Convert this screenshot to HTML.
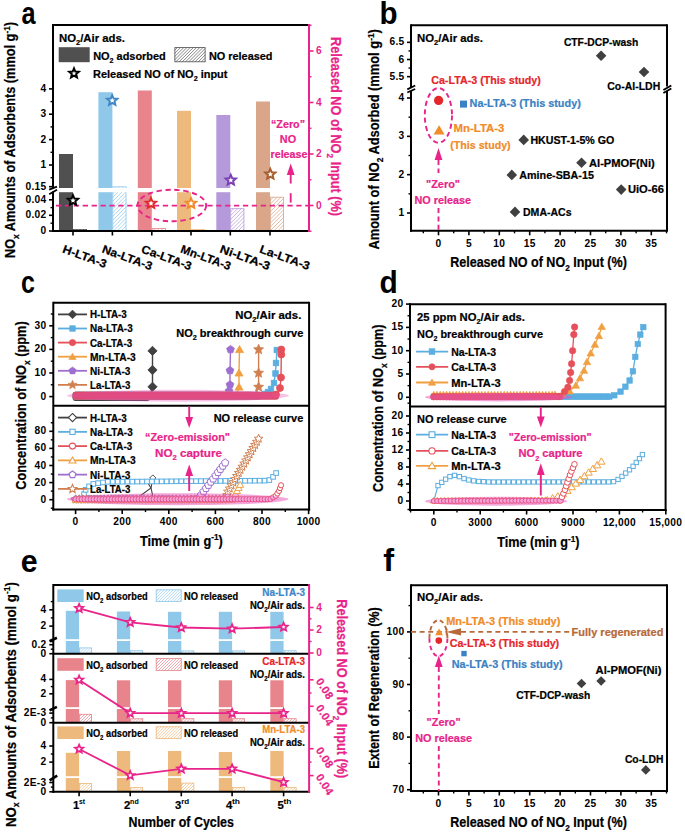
<!DOCTYPE html>
<html><head><meta charset="utf-8"><style>
html,body{margin:0;padding:0;background:#fff;width:685px;height:833px;overflow:hidden}
svg{display:block;font-family:"Liberation Sans",sans-serif}
</style></head><body>
<svg width="685" height="833" viewBox="0 0 685 833">
<rect width="685" height="833" fill="#fff"/>
<text transform="translate(21.6,23.7) scale(0.83,1)" font-size="30.5" font-weight="bold" fill="#000">a</text>
<rect x="59.0" y="154.0" width="14" height="77.0" fill="#505050" />
<clipPath id="c2"><rect x="73.0" y="229.0" width="14" height="2.0"/></clipPath>
<path d="M71.00,231.00 L73.00,229.00 M74.80,231.00 L76.80,229.00 M78.60,231.00 L80.60,229.00 M82.40,231.00 L84.40,229.00 M86.20,231.00 L88.20,229.00 " stroke="#505050" stroke-width="0.75" clip-path="url(#c2)" fill="none"/>
<rect x="73.40" y="229.40" width="13.20" height="1.20" fill="none" stroke="#505050" stroke-width="0.8"/>
<rect x="98.4" y="92.2" width="14" height="138.8" fill="#90C8EA" />
<clipPath id="c6"><rect x="112.4" y="186.4" width="14" height="44.599999999999994"/></clipPath>
<path d="M67.80,231.00 L112.40,186.40 M71.60,231.00 L116.20,186.40 M75.40,231.00 L120.00,186.40 M79.20,231.00 L123.80,186.40 M83.00,231.00 L127.60,186.40 M86.80,231.00 L131.40,186.40 M90.60,231.00 L135.20,186.40 M94.40,231.00 L139.00,186.40 M98.20,231.00 L142.80,186.40 M102.00,231.00 L146.60,186.40 M105.80,231.00 L150.40,186.40 M109.60,231.00 L154.20,186.40 M113.40,231.00 L158.00,186.40 M117.20,231.00 L161.80,186.40 M121.00,231.00 L165.60,186.40 M124.80,231.00 L169.40,186.40 M128.60,231.00 L173.20,186.40 M132.40,231.00 L177.00,186.40 M136.20,231.00 L180.80,186.40 M140.00,231.00 L184.60,186.40 M143.80,231.00 L188.40,186.40 M147.60,231.00 L192.20,186.40 M151.40,231.00 L196.00,186.40 M155.20,231.00 L199.80,186.40 M159.00,231.00 L203.60,186.40 M162.80,231.00 L207.40,186.40 M166.60,231.00 L211.20,186.40 M170.40,231.00 L215.00,186.40 " stroke="#90C8EA" stroke-width="0.75" clip-path="url(#c6)" fill="none"/>
<rect x="112.80" y="186.80" width="13.20" height="43.80" fill="none" stroke="#90C8EA" stroke-width="0.8"/>
<rect x="137.8" y="90.5" width="14" height="140.5" fill="#E8848C" />
<clipPath id="c10"><rect x="151.8" y="228.2" width="14" height="2.8000000000000114"/></clipPath>
<path d="M149.00,231.00 L151.80,228.20 M152.80,231.00 L155.60,228.20 M156.60,231.00 L159.40,228.20 M160.40,231.00 L163.20,228.20 M164.20,231.00 L167.00,228.20 M168.00,231.00 L170.80,228.20 " stroke="#E8848C" stroke-width="0.75" clip-path="url(#c10)" fill="none"/>
<rect x="152.20" y="228.60" width="13.20" height="2.00" fill="none" stroke="#E8848C" stroke-width="0.8"/>
<rect x="177.0" y="110.8" width="14" height="120.2" fill="#EEB97C" />
<clipPath id="c14"><rect x="191.0" y="229.0" width="14" height="2.0"/></clipPath>
<path d="M189.00,231.00 L191.00,229.00 M192.80,231.00 L194.80,229.00 M196.60,231.00 L198.60,229.00 M200.40,231.00 L202.40,229.00 M204.20,231.00 L206.20,229.00 " stroke="#EEB97C" stroke-width="0.75" clip-path="url(#c14)" fill="none"/>
<rect x="191.40" y="229.40" width="13.20" height="1.20" fill="none" stroke="#EEB97C" stroke-width="0.8"/>
<rect x="216.3" y="115.0" width="14" height="116.0" fill="#B59ADB" />
<clipPath id="c18"><rect x="230.3" y="208.3" width="14" height="22.69999999999999"/></clipPath>
<path d="M207.60,231.00 L230.30,208.30 M211.40,231.00 L234.10,208.30 M215.20,231.00 L237.90,208.30 M219.00,231.00 L241.70,208.30 M222.80,231.00 L245.50,208.30 M226.60,231.00 L249.30,208.30 M230.40,231.00 L253.10,208.30 M234.20,231.00 L256.90,208.30 M238.00,231.00 L260.70,208.30 M241.80,231.00 L264.50,208.30 M245.60,231.00 L268.30,208.30 M249.40,231.00 L272.10,208.30 M253.20,231.00 L275.90,208.30 M257.00,231.00 L279.70,208.30 M260.80,231.00 L283.50,208.30 M264.60,231.00 L287.30,208.30 " stroke="#B59ADB" stroke-width="0.75" clip-path="url(#c18)" fill="none"/>
<rect x="230.70" y="208.70" width="13.20" height="21.90" fill="none" stroke="#B59ADB" stroke-width="0.8"/>
<rect x="256.0" y="101.5" width="14" height="129.5" fill="#D9A68A" />
<clipPath id="c22"><rect x="270.0" y="196.8" width="14" height="34.19999999999999"/></clipPath>
<path d="M235.80,231.00 L270.00,196.80 M239.60,231.00 L273.80,196.80 M243.40,231.00 L277.60,196.80 M247.20,231.00 L281.40,196.80 M251.00,231.00 L285.20,196.80 M254.80,231.00 L289.00,196.80 M258.60,231.00 L292.80,196.80 M262.40,231.00 L296.60,196.80 M266.20,231.00 L300.40,196.80 M270.00,231.00 L304.20,196.80 M273.80,231.00 L308.00,196.80 M277.60,231.00 L311.80,196.80 M281.40,231.00 L315.60,196.80 M285.20,231.00 L319.40,196.80 M289.00,231.00 L323.20,196.80 M292.80,231.00 L327.00,196.80 M296.60,231.00 L330.80,196.80 M300.40,231.00 L334.60,196.80 M304.20,231.00 L338.40,196.80 M308.00,231.00 L342.20,196.80 M311.80,231.00 L346.00,196.80 M315.60,231.00 L349.80,196.80 " stroke="#D9A68A" stroke-width="0.75" clip-path="url(#c22)" fill="none"/>
<rect x="270.40" y="197.20" width="13.20" height="33.40" fill="none" stroke="#D9A68A" stroke-width="0.8"/>
<rect x="56" y="188.0" width="250" height="4.2" fill="#fff" />
<text x="59" y="41.6" font-size="11.3" text-anchor="start" fill="#000" font-weight="bold" stroke="#000" stroke-width="0.22" textLength="66" lengthAdjust="spacingAndGlyphs" ><tspan>NO</tspan><tspan dy="3.16" font-size="7.35">2</tspan><tspan dy="-3.16">/Air ads.</tspan></text>
<rect x="58.7" y="47.2" width="31" height="15" fill="#505050" />
<text x="93.2" y="59.8" font-size="11.3" text-anchor="start" fill="#000" font-weight="bold" stroke="#000" stroke-width="0.22" textLength="72.6" lengthAdjust="spacingAndGlyphs" ><tspan>NO</tspan><tspan dy="3.16" font-size="7.35">2</tspan><tspan dy="-3.16"> adsorbed</tspan></text>
<clipPath id="c29"><rect x="174.5" y="47.2" width="31" height="15"/></clipPath>
<path d="M159.50,62.20 L174.50,47.20 M162.70,62.20 L177.70,47.20 M165.90,62.20 L180.90,47.20 M169.10,62.20 L184.10,47.20 M172.30,62.20 L187.30,47.20 M175.50,62.20 L190.50,47.20 M178.70,62.20 L193.70,47.20 M181.90,62.20 L196.90,47.20 M185.10,62.20 L200.10,47.20 M188.30,62.20 L203.30,47.20 M191.50,62.20 L206.50,47.20 M194.70,62.20 L209.70,47.20 M197.90,62.20 L212.90,47.20 M201.10,62.20 L216.10,47.20 M204.30,62.20 L219.30,47.20 M207.50,62.20 L222.50,47.20 M210.70,62.20 L225.70,47.20 M213.90,62.20 L228.90,47.20 M217.10,62.20 L232.10,47.20 M220.30,62.20 L235.30,47.20 " stroke="#505050" stroke-width="0.7" clip-path="url(#c29)" fill="none"/>
<rect x="174.90" y="47.60" width="30.20" height="14.20" fill="none" stroke="#505050" stroke-width="0.8"/>
<text x="208.9" y="59.5" font-size="11.3" text-anchor="start" fill="#000" font-weight="bold" stroke="#000" stroke-width="0.22" textLength="63.6" lengthAdjust="spacingAndGlyphs" ><tspan>NO released</tspan></text>
<path d="M74.00,68.40 L75.32,71.58 L78.76,71.85 L76.14,74.10 L76.94,77.45 L74.00,75.65 L71.06,77.45 L71.86,74.10 L69.24,71.85 L72.68,71.58Z" fill="#fff" stroke="#000" stroke-width="2.0" stroke-linejoin="miter"/>
<text x="93.0" y="78.0" font-size="11.3" text-anchor="start" fill="#000" font-weight="bold" stroke="#000" stroke-width="0.22" textLength="134.5" lengthAdjust="spacingAndGlyphs" ><tspan>Released NO of NO</tspan><tspan dy="3.16" font-size="7.35">2</tspan><tspan dy="-3.16"> input</tspan></text>
<line x1="56" y1="205.6" x2="309" y2="205.6" stroke="#E8248A" stroke-width="1.9" stroke-dasharray="5.3,3.6"/>
<ellipse cx="171.8" cy="205.5" rx="34.4" ry="15.8" fill="none" stroke="#E8248A" stroke-width="1.9" stroke-dasharray="5.3,3.6"/>
<path d="M73.00,195.10 L74.43,198.53 L78.14,198.83 L75.31,201.25 L76.17,204.87 L73.00,202.93 L69.83,204.87 L70.69,201.25 L67.86,198.83 L71.57,198.53Z" fill="#fff" stroke="#000" stroke-width="1.9" stroke-linejoin="miter"/>
<path d="M112.20,95.10 L113.63,98.53 L117.34,98.83 L114.51,101.25 L115.37,104.87 L112.20,102.93 L109.03,104.87 L109.89,101.25 L107.06,98.83 L110.77,98.53Z" fill="#fff" stroke="#3E86C6" stroke-width="1.9" stroke-linejoin="miter"/>
<path d="M151.00,198.00 L152.43,201.43 L156.14,201.73 L153.31,204.15 L154.17,207.77 L151.00,205.83 L147.83,207.77 L148.69,204.15 L145.86,201.73 L149.57,201.43Z" fill="#fff" stroke="#E02A2A" stroke-width="1.9" stroke-linejoin="miter"/>
<path d="M191.00,198.00 L192.43,201.43 L196.14,201.73 L193.31,204.15 L194.17,207.77 L191.00,205.83 L187.83,207.77 L188.69,204.15 L185.86,201.73 L189.57,201.43Z" fill="#fff" stroke="#F08A2A" stroke-width="1.9" stroke-linejoin="miter"/>
<path d="M230.80,174.80 L232.23,178.23 L235.94,178.53 L233.11,180.95 L233.97,184.57 L230.80,182.63 L227.63,184.57 L228.49,180.95 L225.66,178.53 L229.37,178.23Z" fill="#fff" stroke="#7A3FB0" stroke-width="1.9" stroke-linejoin="miter"/>
<path d="M270.30,168.80 L271.73,172.23 L275.44,172.53 L272.61,174.95 L273.47,178.57 L270.30,176.63 L267.13,178.57 L267.99,174.95 L265.16,172.53 L268.87,172.23Z" fill="#fff" stroke="#A85E2E" stroke-width="1.9" stroke-linejoin="miter"/>
<line x1="53" y1="25" x2="309" y2="25" stroke="#000" stroke-width="2" />
<line x1="52" y1="231" x2="309" y2="231" stroke="#000" stroke-width="2" />
<line x1="53" y1="24" x2="53" y2="188.5" stroke="#000" stroke-width="2" />
<line x1="53" y1="191.5" x2="53" y2="232" stroke="#000" stroke-width="2" />
<line x1="49.2" y1="189.6" x2="57" y2="186.6" stroke="#000" stroke-width="1.8" />
<line x1="49.2" y1="194.2" x2="57" y2="189.8" stroke="#000" stroke-width="1.8" />
<line x1="49" y1="88.9" x2="53" y2="88.9" stroke="#000" stroke-width="1.6" />
<line x1="49" y1="114.2" x2="53" y2="114.2" stroke="#000" stroke-width="1.6" />
<line x1="49" y1="139.6" x2="53" y2="139.6" stroke="#000" stroke-width="1.6" />
<line x1="49" y1="165.0" x2="53" y2="165.0" stroke="#000" stroke-width="1.6" />
<line x1="49" y1="186.7" x2="53" y2="186.7" stroke="#000" stroke-width="1.6" />
<line x1="49" y1="199.8" x2="53" y2="199.8" stroke="#000" stroke-width="1.6" />
<line x1="49" y1="215.3" x2="53" y2="215.3" stroke="#000" stroke-width="1.6" />
<line x1="49" y1="231" x2="53" y2="231" stroke="#000" stroke-width="1.6" />
<line x1="50.5" y1="101.6" x2="53" y2="101.6" stroke="#000" stroke-width="1.4" />
<line x1="50.5" y1="126.9" x2="53" y2="126.9" stroke="#000" stroke-width="1.4" />
<line x1="50.5" y1="152.3" x2="53" y2="152.3" stroke="#000" stroke-width="1.4" />
<line x1="50.5" y1="177.7" x2="53" y2="177.7" stroke="#000" stroke-width="1.4" />
<line x1="50.5" y1="207.6" x2="53" y2="207.6" stroke="#000" stroke-width="1.4" />
<line x1="50.5" y1="223.2" x2="53" y2="223.2" stroke="#000" stroke-width="1.4" />
<text x="46.5" y="91.9" font-size="10.2" text-anchor="end" fill="#000" font-weight="bold" letter-spacing="0.3" ><tspan>4</tspan></text>
<text x="46.5" y="117.2" font-size="10.2" text-anchor="end" fill="#000" font-weight="bold" letter-spacing="0.3" ><tspan>3</tspan></text>
<text x="46.5" y="142.6" font-size="10.2" text-anchor="end" fill="#000" font-weight="bold" letter-spacing="0.3" ><tspan>2</tspan></text>
<text x="46.5" y="168.0" font-size="10.2" text-anchor="end" fill="#000" font-weight="bold" letter-spacing="0.3" ><tspan>1</tspan></text>
<text x="46.5" y="189.7" font-size="10.2" text-anchor="end" fill="#000" font-weight="bold" letter-spacing="0.3" ><tspan>0.15</tspan></text>
<text x="46.5" y="202.8" font-size="10.2" text-anchor="end" fill="#000" font-weight="bold" letter-spacing="0.3" ><tspan>0.04</tspan></text>
<text x="46.5" y="218.3" font-size="10.2" text-anchor="end" fill="#000" font-weight="bold" letter-spacing="0.3" ><tspan>0.02</tspan></text>
<text x="46.5" y="234.0" font-size="10.2" text-anchor="end" fill="#000" font-weight="bold" letter-spacing="0.3" ><tspan>0</tspan></text>
<line x1="73.0" y1="231" x2="73.0" y2="235.5" stroke="#000" stroke-width="1.6" />
<line x1="112.4" y1="231" x2="112.4" y2="235.5" stroke="#000" stroke-width="1.6" />
<line x1="151.8" y1="231" x2="151.8" y2="235.5" stroke="#000" stroke-width="1.6" />
<line x1="191.0" y1="231" x2="191.0" y2="235.5" stroke="#000" stroke-width="1.6" />
<line x1="230.3" y1="231" x2="230.3" y2="235.5" stroke="#000" stroke-width="1.6" />
<line x1="270.0" y1="231" x2="270.0" y2="235.5" stroke="#000" stroke-width="1.6" />
<text transform="translate(61.8,252.3) rotate(20)" font-size="11.6" text-anchor="start" fill="#000" font-weight="bold" stroke="#000" stroke-width="0.22" textLength="46" lengthAdjust="spacingAndGlyphs" ><tspan>H-LTA-3</tspan></text>
<text transform="translate(101.2,252.3) rotate(20)" font-size="11.6" text-anchor="start" fill="#000" font-weight="bold" stroke="#000" stroke-width="0.22" textLength="52.5" lengthAdjust="spacingAndGlyphs" ><tspan>Na-LTA-3</tspan></text>
<text transform="translate(140.60000000000002,252.3) rotate(20)" font-size="11.6" text-anchor="start" fill="#000" font-weight="bold" stroke="#000" stroke-width="0.22" textLength="52.5" lengthAdjust="spacingAndGlyphs" ><tspan>Ca-LTA-3</tspan></text>
<text transform="translate(179.8,252.3) rotate(20)" font-size="11.6" text-anchor="start" fill="#000" font-weight="bold" stroke="#000" stroke-width="0.22" textLength="52.5" lengthAdjust="spacingAndGlyphs" ><tspan>Mn-LTA-3</tspan></text>
<text transform="translate(219.10000000000002,252.3) rotate(20)" font-size="11.6" text-anchor="start" fill="#000" font-weight="bold" stroke="#000" stroke-width="0.22" textLength="52.5" lengthAdjust="spacingAndGlyphs" ><tspan>Ni-LTA-3</tspan></text>
<text transform="translate(258.8,252.3) rotate(20)" font-size="11.6" text-anchor="start" fill="#000" font-weight="bold" stroke="#000" stroke-width="0.22" textLength="52.5" lengthAdjust="spacingAndGlyphs" ><tspan>La-LTA-3</tspan></text>
<line x1="309" y1="24" x2="309" y2="232" stroke="#E8248A" stroke-width="2" />
<line x1="309" y1="51.0" x2="313.5" y2="51.0" stroke="#E8248A" stroke-width="1.6" />
<text x="316" y="54.0" font-size="10.2" text-anchor="start" fill="#E8248A" font-weight="bold" letter-spacing="0.3" ><tspan>6</tspan></text>
<line x1="309" y1="102.5" x2="313.5" y2="102.5" stroke="#E8248A" stroke-width="1.6" />
<text x="316" y="105.5" font-size="10.2" text-anchor="start" fill="#E8248A" font-weight="bold" letter-spacing="0.3" ><tspan>4</tspan></text>
<line x1="309" y1="154.0" x2="313.5" y2="154.0" stroke="#E8248A" stroke-width="1.6" />
<text x="316" y="157.0" font-size="10.2" text-anchor="start" fill="#E8248A" font-weight="bold" letter-spacing="0.3" ><tspan>2</tspan></text>
<line x1="309" y1="205.5" x2="313.5" y2="205.5" stroke="#E8248A" stroke-width="1.6" />
<text x="316" y="208.5" font-size="10.2" text-anchor="start" fill="#E8248A" font-weight="bold" letter-spacing="0.3" ><tspan>0</tspan></text>
<line x1="309" y1="25.25" x2="311.5" y2="25.25" stroke="#E8248A" stroke-width="1.4" />
<line x1="309" y1="76.75" x2="311.5" y2="76.75" stroke="#E8248A" stroke-width="1.4" />
<line x1="309" y1="128.25" x2="311.5" y2="128.25" stroke="#E8248A" stroke-width="1.4" />
<line x1="309" y1="179.75" x2="311.5" y2="179.75" stroke="#E8248A" stroke-width="1.4" />
<line x1="309" y1="231.25" x2="311.5" y2="231.25" stroke="#E8248A" stroke-width="1.4" />
<text transform="translate(331.0,37) rotate(90)" font-size="13.8" text-anchor="start" fill="#E8248A" font-weight="bold" stroke="#E8248A" stroke-width="0.22" textLength="179" lengthAdjust="spacingAndGlyphs" ><tspan>Released NO of NO</tspan><tspan dy="3.86" font-size="8.97">2</tspan><tspan dy="-3.86"> Input (%)</tspan></text>
<text transform="translate(15.2,258) rotate(-90)" font-size="13.8" text-anchor="start" fill="#000" font-weight="bold" stroke="#000" stroke-width="0.22" textLength="236" lengthAdjust="spacingAndGlyphs" ><tspan>NO</tspan><tspan dy="3.86" font-size="8.97">x</tspan><tspan dy="-3.86"> Amounts of Adsorbents (mmol g</tspan><tspan dy="-5.24" font-size="8.97">-1</tspan><tspan dy="5.24">)</tspan></text>
<text x="288" y="127.5" font-size="11.3" text-anchor="middle" fill="#E8248A" font-weight="bold" stroke="#E8248A" stroke-width="0.22" textLength="34" lengthAdjust="spacingAndGlyphs" ><tspan>“Zero”</tspan></text>
<text x="288" y="143" font-size="11.3" text-anchor="middle" fill="#E8248A" font-weight="bold" stroke="#E8248A" stroke-width="0.22" textLength="16.3" lengthAdjust="spacingAndGlyphs" ><tspan>NO</tspan></text>
<text x="289" y="158.1" font-size="11.3" text-anchor="middle" fill="#E8248A" font-weight="bold" stroke="#E8248A" stroke-width="0.22" textLength="37" lengthAdjust="spacingAndGlyphs" ><tspan>release</tspan></text>
<line x1="290.7" y1="193.2" x2="290.7" y2="202.6" stroke="#E8248A" stroke-width="1.9" />
<line x1="290.7" y1="174" x2="290.7" y2="183.5" stroke="#E8248A" stroke-width="1.9" />
<path d="M286.8,175 L290.7,163.5 L294.6,175 Z" fill="#E8248A"/>
<text transform="translate(379.5,23.7) scale(0.97,1)" font-size="30.5" font-weight="bold" fill="#000">b</text>
<line x1="411" y1="25.2" x2="667" y2="25.2" stroke="#000" stroke-width="2" />
<line x1="410" y1="230.8" x2="667" y2="230.8" stroke="#000" stroke-width="2" />
<line x1="411" y1="24.2" x2="411" y2="87.0" stroke="#000" stroke-width="2" />
<line x1="411" y1="91.0" x2="411" y2="231.8" stroke="#000" stroke-width="2" />
<line x1="667" y1="24.2" x2="667" y2="86.5" stroke="#000" stroke-width="2" />
<line x1="667" y1="91.0" x2="667" y2="231.8" stroke="#000" stroke-width="2" />
<line x1="407.3" y1="89.3" x2="415.2" y2="85.5" stroke="#000" stroke-width="1.9" />
<line x1="407.3" y1="92.5" x2="415.2" y2="89.0" stroke="#000" stroke-width="1.9" />
<line x1="663.4" y1="90.0" x2="671.3" y2="85.5" stroke="#000" stroke-width="1.9" />
<line x1="663.4" y1="93.0" x2="671.3" y2="88.5" stroke="#000" stroke-width="1.9" />
<line x1="407" y1="42.35" x2="411" y2="42.35" stroke="#000" stroke-width="1.6" />
<text x="404.5" y="45.35" font-size="10.2" text-anchor="end" fill="#000" font-weight="bold" letter-spacing="0.3" ><tspan>6.5</tspan></text>
<line x1="407" y1="59.5" x2="411" y2="59.5" stroke="#000" stroke-width="1.6" />
<text x="404.5" y="62.5" font-size="10.2" text-anchor="end" fill="#000" font-weight="bold" letter-spacing="0.3" ><tspan>6</tspan></text>
<line x1="407" y1="76.65" x2="411" y2="76.65" stroke="#000" stroke-width="1.6" />
<text x="404.5" y="79.65" font-size="10.2" text-anchor="end" fill="#000" font-weight="bold" letter-spacing="0.3" ><tspan>5.5</tspan></text>
<line x1="408.5" y1="50.925" x2="411" y2="50.925" stroke="#000" stroke-width="1.4" />
<line x1="408.5" y1="68.075" x2="411" y2="68.075" stroke="#000" stroke-width="1.4" />
<line x1="407" y1="98.01" x2="411" y2="98.01" stroke="#000" stroke-width="1.6" />
<text x="404.5" y="101.01" font-size="10.2" text-anchor="end" fill="#000" font-weight="bold" letter-spacing="0.3" ><tspan>4</tspan></text>
<line x1="407" y1="136.34" x2="411" y2="136.34" stroke="#000" stroke-width="1.6" />
<text x="404.5" y="139.34" font-size="10.2" text-anchor="end" fill="#000" font-weight="bold" letter-spacing="0.3" ><tspan>3</tspan></text>
<line x1="407" y1="174.67000000000002" x2="411" y2="174.67000000000002" stroke="#000" stroke-width="1.6" />
<text x="404.5" y="177.67000000000002" font-size="10.2" text-anchor="end" fill="#000" font-weight="bold" letter-spacing="0.3" ><tspan>2</tspan></text>
<line x1="407" y1="213.0" x2="411" y2="213.0" stroke="#000" stroke-width="1.6" />
<text x="404.5" y="216.0" font-size="10.2" text-anchor="end" fill="#000" font-weight="bold" letter-spacing="0.3" ><tspan>1</tspan></text>
<line x1="408.5" y1="117.17500000000001" x2="411" y2="117.17500000000001" stroke="#000" stroke-width="1.4" />
<line x1="408.5" y1="155.505" x2="411" y2="155.505" stroke="#000" stroke-width="1.4" />
<line x1="408.5" y1="193.835" x2="411" y2="193.835" stroke="#000" stroke-width="1.4" />
<line x1="438.5" y1="230.8" x2="438.5" y2="235.3" stroke="#000" stroke-width="1.6" />
<text x="438.5" y="246.8" font-size="10.2" text-anchor="middle" fill="#000" font-weight="bold" letter-spacing="0.3" ><tspan>0</tspan></text>
<line x1="468.9" y1="230.8" x2="468.9" y2="235.3" stroke="#000" stroke-width="1.6" />
<text x="468.9" y="246.8" font-size="10.2" text-anchor="middle" fill="#000" font-weight="bold" letter-spacing="0.3" ><tspan>5</tspan></text>
<line x1="499.3" y1="230.8" x2="499.3" y2="235.3" stroke="#000" stroke-width="1.6" />
<text x="499.3" y="246.8" font-size="10.2" text-anchor="middle" fill="#000" font-weight="bold" letter-spacing="0.3" ><tspan>10</tspan></text>
<line x1="529.7" y1="230.8" x2="529.7" y2="235.3" stroke="#000" stroke-width="1.6" />
<text x="529.7" y="246.8" font-size="10.2" text-anchor="middle" fill="#000" font-weight="bold" letter-spacing="0.3" ><tspan>15</tspan></text>
<line x1="560.1" y1="230.8" x2="560.1" y2="235.3" stroke="#000" stroke-width="1.6" />
<text x="560.1" y="246.8" font-size="10.2" text-anchor="middle" fill="#000" font-weight="bold" letter-spacing="0.3" ><tspan>20</tspan></text>
<line x1="590.5" y1="230.8" x2="590.5" y2="235.3" stroke="#000" stroke-width="1.6" />
<text x="590.5" y="246.8" font-size="10.2" text-anchor="middle" fill="#000" font-weight="bold" letter-spacing="0.3" ><tspan>25</tspan></text>
<line x1="620.9" y1="230.8" x2="620.9" y2="235.3" stroke="#000" stroke-width="1.6" />
<text x="620.9" y="246.8" font-size="10.2" text-anchor="middle" fill="#000" font-weight="bold" letter-spacing="0.3" ><tspan>30</tspan></text>
<line x1="651.3" y1="230.8" x2="651.3" y2="235.3" stroke="#000" stroke-width="1.6" />
<text x="651.3" y="246.8" font-size="10.2" text-anchor="middle" fill="#000" font-weight="bold" letter-spacing="0.3" ><tspan>35</tspan></text>
<line x1="423.3" y1="230.8" x2="423.3" y2="233.3" stroke="#000" stroke-width="1.4" />
<line x1="453.7" y1="230.8" x2="453.7" y2="233.3" stroke="#000" stroke-width="1.4" />
<line x1="484.1" y1="230.8" x2="484.1" y2="233.3" stroke="#000" stroke-width="1.4" />
<line x1="514.5" y1="230.8" x2="514.5" y2="233.3" stroke="#000" stroke-width="1.4" />
<line x1="544.9" y1="230.8" x2="544.9" y2="233.3" stroke="#000" stroke-width="1.4" />
<line x1="575.3" y1="230.8" x2="575.3" y2="233.3" stroke="#000" stroke-width="1.4" />
<line x1="605.7" y1="230.8" x2="605.7" y2="233.3" stroke="#000" stroke-width="1.4" />
<line x1="636.1" y1="230.8" x2="636.1" y2="233.3" stroke="#000" stroke-width="1.4" />
<line x1="666.5" y1="230.8" x2="666.5" y2="233.3" stroke="#000" stroke-width="1.4" />
<text x="538.5" y="266.8" font-size="13.8" text-anchor="middle" fill="#000" font-weight="bold" stroke="#000" stroke-width="0.22" textLength="176.7" lengthAdjust="spacingAndGlyphs" ><tspan>Released NO of NO</tspan><tspan dy="3.86" font-size="8.97">2</tspan><tspan dy="-3.86"> Input (%)</tspan></text>
<text transform="translate(379.3,249.6) rotate(-90)" font-size="13.8" text-anchor="start" fill="#000" font-weight="bold" stroke="#000" stroke-width="0.22" textLength="220.5" lengthAdjust="spacingAndGlyphs" ><tspan>Amount of NO</tspan><tspan dy="3.86" font-size="8.97">2</tspan><tspan dy="-3.86"> Adsorbed (mmol g</tspan><tspan dy="-5.24" font-size="8.97">-1</tspan><tspan dy="5.24">)</tspan></text>
<text x="417" y="41.8" font-size="11.3" text-anchor="start" fill="#000" font-weight="bold" stroke="#000" stroke-width="0.22" textLength="66" lengthAdjust="spacingAndGlyphs" ><tspan>NO</tspan><tspan dy="3.16" font-size="7.35">2</tspan><tspan dy="-3.16">/Air ads.</tspan></text>
<path d="M601.10,50.50 L606.40,55.80 L601.10,61.10 L595.80,55.80Z" fill="#404040"/>
<path d="M644.00,66.70 L649.30,72.00 L644.00,77.30 L638.70,72.00Z" fill="#404040"/>
<path d="M523.70,134.60 L529.00,139.90 L523.70,145.20 L518.40,139.90Z" fill="#404040"/>
<path d="M581.50,157.50 L586.80,162.80 L581.50,168.10 L576.20,162.80Z" fill="#404040"/>
<path d="M511.80,169.60 L517.10,174.90 L511.80,180.20 L506.50,174.90Z" fill="#404040"/>
<path d="M621.20,184.30 L626.50,189.60 L621.20,194.90 L615.90,189.60Z" fill="#404040"/>
<path d="M515.00,206.60 L520.30,211.90 L515.00,217.20 L509.70,211.90Z" fill="#404040"/>
<text x="563.9" y="45.9" font-size="11.3" text-anchor="start" fill="#000" font-weight="bold" stroke="#000" stroke-width="0.22" textLength="74.4" lengthAdjust="spacingAndGlyphs" ><tspan>CTF-DCP-wash</tspan></text>
<text x="607.3" y="90.0" font-size="11.3" text-anchor="start" fill="#000" font-weight="bold" stroke="#000" stroke-width="0.22" textLength="52.9" lengthAdjust="spacingAndGlyphs" ><tspan>Co-Al-LDH</tspan></text>
<text x="530.4" y="143.6" font-size="11.3" text-anchor="start" fill="#000" font-weight="bold" stroke="#000" stroke-width="0.22" textLength="83.9" lengthAdjust="spacingAndGlyphs" ><tspan>HKUST-1-5% GO</tspan></text>
<text x="589.0" y="166.7" font-size="11.3" text-anchor="start" fill="#000" font-weight="bold" stroke="#000" stroke-width="0.22" textLength="65.7" lengthAdjust="spacingAndGlyphs" ><tspan>Al-PMOF(Ni)</tspan></text>
<text x="519.3" y="178.8" font-size="11.3" text-anchor="start" fill="#000" font-weight="bold" stroke="#000" stroke-width="0.22" textLength="74.6" lengthAdjust="spacingAndGlyphs" ><tspan>Amine-SBA-15</tspan></text>
<text x="627.9" y="193.3" font-size="11.3" text-anchor="start" fill="#000" font-weight="bold" stroke="#000" stroke-width="0.22" textLength="36" lengthAdjust="spacingAndGlyphs" ><tspan>UiO-66</tspan></text>
<text x="523.0" y="215.6" font-size="11.3" text-anchor="start" fill="#000" font-weight="bold" stroke="#000" stroke-width="0.22" textLength="48.6" lengthAdjust="spacingAndGlyphs" ><tspan>DMA-ACs</tspan></text>
<circle cx="438.6" cy="100.4" r="4.6" fill="#E5262B"/>
<rect x="460.0" y="100.6" width="7" height="7" fill="#3B82C4" />
<path d="M433.6,134.5 L439.1,125.3 L444.6,134.5 Z" fill="#F08C2A"/>
<text x="431.2" y="83.6" font-size="11.3" text-anchor="start" fill="#E5262B" font-weight="bold" stroke="#E5262B" stroke-width="0.22" textLength="109.6" lengthAdjust="spacingAndGlyphs" ><tspan>Ca-LTA-3 (This study)</tspan></text>
<text x="469.6" y="107.1" font-size="11.3" text-anchor="start" fill="#3B82C4" font-weight="bold" stroke="#3B82C4" stroke-width="0.22" textLength="111.2" lengthAdjust="spacingAndGlyphs" ><tspan>Na-LTA-3 (This study)</tspan></text>
<text x="453.5" y="132.0" font-size="11.3" text-anchor="start" fill="#F08C2A" font-weight="bold" stroke="#F08C2A" stroke-width="0.22" textLength="50.9" lengthAdjust="spacingAndGlyphs" ><tspan>Mn-LTA-3</tspan></text>
<text x="450.3" y="148.8" font-size="11.3" text-anchor="start" fill="#F08C2A" font-weight="bold" stroke="#F08C2A" stroke-width="0.22" textLength="60.3" lengthAdjust="spacingAndGlyphs" ><tspan>(This study)</tspan></text>
<ellipse cx="438.4" cy="115.4" rx="13.6" ry="27.4" fill="none" stroke="#E8248A" stroke-width="1.9" stroke-dasharray="5,3.4"/>
<path d="M434.6,160 L438.5,148 L442.4,160 Z" fill="#E8248A"/>
<line x1="438.5" y1="160" x2="438.5" y2="173" stroke="#E8248A" stroke-width="1.9" stroke-dasharray="5,3.4"/>
<line x1="438.5" y1="208" x2="438.5" y2="231" stroke="#E8248A" stroke-width="1.9" stroke-dasharray="5,3.4"/>
<text x="443" y="188.2" font-size="11.3" text-anchor="middle" fill="#E8248A" font-weight="bold" stroke="#E8248A" stroke-width="0.22" textLength="34" lengthAdjust="spacingAndGlyphs" ><tspan>"Zero"</tspan></text>
<text x="442.8" y="204.0" font-size="11.3" text-anchor="middle" fill="#E8248A" font-weight="bold" stroke="#E8248A" stroke-width="0.22" textLength="56.5" lengthAdjust="spacingAndGlyphs" ><tspan>NO release</tspan></text>
<text transform="translate(21.0,292.6) scale(0.82,1)" font-size="30.5" font-weight="bold" fill="#000">c</text>
<rect x="72.60" y="393.0" width="77.40" height="8" rx="3" fill="#404040"/>
<path d="M150.00,395.80 L152.50,386.80 L152.50,370.00 L152.50,350.90" fill="none" stroke="#404040" stroke-width="1.4" />
<path d="M152.50,382.15 L157.15,386.80 L152.50,391.45 L147.85,386.80Z" fill="#404040" stroke="#404040" stroke-width="0.8"/>
<path d="M152.50,365.35 L157.15,370.00 L152.50,374.65 L147.85,370.00Z" fill="#404040" stroke="#404040" stroke-width="0.8"/>
<path d="M152.50,346.25 L157.15,350.90 L152.50,355.55 L147.85,350.90Z" fill="#404040" stroke="#404040" stroke-width="0.8"/>
<rect x="72.60" y="391.8" width="153.40" height="8" rx="3" fill="#9E6FD0"/>
<path d="M226.00,395.80 L229.00,391.00 L230.00,384.80 L230.00,370.50 L230.50,349.50" fill="none" stroke="#9E6FD0" stroke-width="1.4" />
<path d="M229.00,386.94 L232.86,389.75 L231.39,394.28 L226.61,394.28 L225.14,389.75Z" fill="#9E6FD0" stroke="#9E6FD0" stroke-width="0.8"/>
<path d="M230.00,380.74 L233.86,383.55 L232.39,388.08 L227.61,388.08 L226.14,383.55Z" fill="#9E6FD0" stroke="#9E6FD0" stroke-width="0.8"/>
<path d="M230.00,366.44 L233.86,369.25 L232.39,373.78 L227.61,373.78 L226.14,369.25Z" fill="#9E6FD0" stroke="#9E6FD0" stroke-width="0.8"/>
<path d="M230.50,345.44 L234.36,348.25 L232.89,352.78 L228.11,352.78 L226.64,348.25Z" fill="#9E6FD0" stroke="#9E6FD0" stroke-width="0.8"/>
<rect x="72.60" y="391.8" width="163.40" height="8" rx="3" fill="#F0A040"/>
<path d="M236.00,395.80 L239.00,387.00 L239.00,373.00 L239.50,349.50" fill="none" stroke="#F0A040" stroke-width="1.4" />
<path d="M239.00,383.10 L243.03,390.07 L234.97,390.07Z" fill="#F0A040" stroke="#F0A040" stroke-width="0.8"/>
<path d="M239.00,369.10 L243.03,376.07 L234.97,376.07Z" fill="#F0A040" stroke="#F0A040" stroke-width="0.8"/>
<path d="M239.50,345.60 L243.53,352.57 L235.47,352.57Z" fill="#F0A040" stroke="#F0A040" stroke-width="0.8"/>
<rect x="72.60" y="391.8" width="182.40" height="8" rx="3" fill="#D08050"/>
<path d="M255.00,395.80 L258.60,387.00 L258.60,373.00 L258.60,349.50" fill="none" stroke="#D08050" stroke-width="1.4" />
<path d="M258.60,381.75 L259.99,385.09 L263.59,385.38 L260.85,387.73 L261.69,391.25 L258.60,389.36 L255.51,391.25 L256.35,387.73 L253.61,385.38 L257.21,385.09Z" fill="#D08050" stroke="#D08050" stroke-width="0.8"/>
<path d="M258.60,367.75 L259.99,371.09 L263.59,371.38 L260.85,373.73 L261.69,377.25 L258.60,375.36 L255.51,377.25 L256.35,373.73 L253.61,371.38 L257.21,371.09Z" fill="#D08050" stroke="#D08050" stroke-width="0.8"/>
<path d="M258.60,344.25 L259.99,347.59 L263.59,347.88 L260.85,350.23 L261.69,353.75 L258.60,351.86 L255.51,353.75 L256.35,350.23 L253.61,347.88 L257.21,347.59Z" fill="#D08050" stroke="#D08050" stroke-width="0.8"/>
<rect x="72.60" y="391.8" width="189.40" height="8" rx="3" fill="#5AAEE0"/>
<path d="M262.00,395.80 L268.00,392.00 L272.00,387.00 L274.50,379.00 L275.80,368.00 L276.50,358.00 L276.80,350.00" fill="none" stroke="#5AAEE0" stroke-width="1.4" />
<rect x="262.25" y="391.25" width="5.50" height="5.50" fill="#5AAEE0" stroke="#5AAEE0" stroke-width="0.8"/>
<rect x="265.25" y="389.25" width="5.50" height="5.50" fill="#5AAEE0" stroke="#5AAEE0" stroke-width="0.8"/>
<rect x="268.25" y="386.25" width="5.50" height="5.50" fill="#5AAEE0" stroke="#5AAEE0" stroke-width="0.8"/>
<rect x="271.25" y="380.25" width="5.50" height="5.50" fill="#5AAEE0" stroke="#5AAEE0" stroke-width="0.8"/>
<rect x="272.75" y="370.75" width="5.50" height="5.50" fill="#5AAEE0" stroke="#5AAEE0" stroke-width="0.8"/>
<rect x="273.25" y="360.25" width="5.50" height="5.50" fill="#5AAEE0" stroke="#5AAEE0" stroke-width="0.8"/>
<rect x="274.05" y="347.25" width="5.50" height="5.50" fill="#5AAEE0" stroke="#5AAEE0" stroke-width="0.8"/>
<rect x="72.60" y="391.8" width="206.40" height="8" rx="3" fill="#DC4A64"/>
<path d="M279.00,395.80 L278.00,393.00 L280.00,388.00 L281.00,377.50 L281.30,354.50 L281.30,349.50" fill="none" stroke="#E5505A" stroke-width="1.4" />
<circle cx="276.00" cy="394.50" r="3.50" fill="#E5505A" stroke="#E5505A" stroke-width="0.8"/>
<circle cx="280.00" cy="388.00" r="3.50" fill="#E5505A" stroke="#E5505A" stroke-width="0.8"/>
<circle cx="281.00" cy="377.50" r="3.50" fill="#E5505A" stroke="#E5505A" stroke-width="0.8"/>
<circle cx="281.30" cy="354.50" r="3.50" fill="#E5505A" stroke="#E5505A" stroke-width="0.8"/>
<circle cx="281.30" cy="349.50" r="3.50" fill="#E5505A" stroke="#E5505A" stroke-width="0.8"/>
<line x1="53.3" y1="302.8" x2="309.1" y2="302.8" stroke="#000" stroke-width="2" />
<line x1="53.3" y1="405.8" x2="309.1" y2="405.8" stroke="#000" stroke-width="2" />
<line x1="52.3" y1="509.6" x2="310.1" y2="509.6" stroke="#000" stroke-width="2" />
<line x1="53.3" y1="301.8" x2="53.3" y2="510.6" stroke="#000" stroke-width="2" />
<line x1="309.1" y1="301.8" x2="309.1" y2="510.6" stroke="#000" stroke-width="2" />
<line x1="49.3" y1="396.6" x2="53.3" y2="396.6" stroke="#000" stroke-width="1.6" />
<text x="46.5" y="399.6" font-size="10.2" text-anchor="end" fill="#000" font-weight="bold" letter-spacing="0.3" ><tspan>0</tspan></text>
<line x1="49.3" y1="373.0" x2="53.3" y2="373.0" stroke="#000" stroke-width="1.6" />
<text x="46.5" y="376.0" font-size="10.2" text-anchor="end" fill="#000" font-weight="bold" letter-spacing="0.3" ><tspan>10</tspan></text>
<line x1="49.3" y1="349.40000000000003" x2="53.3" y2="349.40000000000003" stroke="#000" stroke-width="1.6" />
<text x="46.5" y="352.40000000000003" font-size="10.2" text-anchor="end" fill="#000" font-weight="bold" letter-spacing="0.3" ><tspan>20</tspan></text>
<line x1="49.3" y1="325.8" x2="53.3" y2="325.8" stroke="#000" stroke-width="1.6" />
<text x="46.5" y="328.8" font-size="10.2" text-anchor="end" fill="#000" font-weight="bold" letter-spacing="0.3" ><tspan>30</tspan></text>
<line x1="50.8" y1="384.8" x2="53.3" y2="384.8" stroke="#000" stroke-width="1.4" />
<line x1="50.8" y1="361.20000000000005" x2="53.3" y2="361.20000000000005" stroke="#000" stroke-width="1.4" />
<line x1="50.8" y1="337.6" x2="53.3" y2="337.6" stroke="#000" stroke-width="1.4" />
<line x1="50.8" y1="314.0" x2="53.3" y2="314.0" stroke="#000" stroke-width="1.4" />
<line x1="49.3" y1="499.7" x2="53.3" y2="499.7" stroke="#000" stroke-width="1.6" />
<text x="46.5" y="502.7" font-size="10.2" text-anchor="end" fill="#000" font-weight="bold" letter-spacing="0.3" ><tspan>0</tspan></text>
<line x1="49.3" y1="482.59999999999997" x2="53.3" y2="482.59999999999997" stroke="#000" stroke-width="1.6" />
<text x="46.5" y="485.59999999999997" font-size="10.2" text-anchor="end" fill="#000" font-weight="bold" letter-spacing="0.3" ><tspan>20</tspan></text>
<line x1="49.3" y1="465.5" x2="53.3" y2="465.5" stroke="#000" stroke-width="1.6" />
<text x="46.5" y="468.5" font-size="10.2" text-anchor="end" fill="#000" font-weight="bold" letter-spacing="0.3" ><tspan>40</tspan></text>
<line x1="49.3" y1="448.4" x2="53.3" y2="448.4" stroke="#000" stroke-width="1.6" />
<text x="46.5" y="451.4" font-size="10.2" text-anchor="end" fill="#000" font-weight="bold" letter-spacing="0.3" ><tspan>60</tspan></text>
<line x1="49.3" y1="431.29999999999995" x2="53.3" y2="431.29999999999995" stroke="#000" stroke-width="1.6" />
<text x="46.5" y="434.29999999999995" font-size="10.2" text-anchor="end" fill="#000" font-weight="bold" letter-spacing="0.3" ><tspan>80</tspan></text>
<line x1="50.8" y1="508.25" x2="53.3" y2="508.25" stroke="#000" stroke-width="1.4" />
<line x1="50.8" y1="491.15" x2="53.3" y2="491.15" stroke="#000" stroke-width="1.4" />
<line x1="50.8" y1="474.05" x2="53.3" y2="474.05" stroke="#000" stroke-width="1.4" />
<line x1="50.8" y1="456.95" x2="53.3" y2="456.95" stroke="#000" stroke-width="1.4" />
<line x1="50.8" y1="439.84999999999997" x2="53.3" y2="439.84999999999997" stroke="#000" stroke-width="1.4" />
<line x1="50.8" y1="422.75" x2="53.3" y2="422.75" stroke="#000" stroke-width="1.4" />
<line x1="75.6" y1="509.6" x2="75.6" y2="514.1" stroke="#000" stroke-width="1.6" />
<text x="75.6" y="525.3" font-size="10.2" text-anchor="middle" fill="#000" font-weight="bold" letter-spacing="0.3" ><tspan>0</tspan></text>
<line x1="122.19999999999999" y1="509.6" x2="122.19999999999999" y2="514.1" stroke="#000" stroke-width="1.6" />
<text x="122.19999999999999" y="525.3" font-size="10.2" text-anchor="middle" fill="#000" font-weight="bold" letter-spacing="0.3" ><tspan>200</tspan></text>
<line x1="168.8" y1="509.6" x2="168.8" y2="514.1" stroke="#000" stroke-width="1.6" />
<text x="168.8" y="525.3" font-size="10.2" text-anchor="middle" fill="#000" font-weight="bold" letter-spacing="0.3" ><tspan>400</tspan></text>
<line x1="215.4" y1="509.6" x2="215.4" y2="514.1" stroke="#000" stroke-width="1.6" />
<text x="215.4" y="525.3" font-size="10.2" text-anchor="middle" fill="#000" font-weight="bold" letter-spacing="0.3" ><tspan>600</tspan></text>
<line x1="262.0" y1="509.6" x2="262.0" y2="514.1" stroke="#000" stroke-width="1.6" />
<text x="262.0" y="525.3" font-size="10.2" text-anchor="middle" fill="#000" font-weight="bold" letter-spacing="0.3" ><tspan>800</tspan></text>
<line x1="308.6" y1="509.6" x2="308.6" y2="514.1" stroke="#000" stroke-width="1.6" />
<text x="308.6" y="525.3" font-size="10.2" text-anchor="middle" fill="#000" font-weight="bold" letter-spacing="0.3" ><tspan>1000</tspan></text>
<line x1="98.89999999999999" y1="509.6" x2="98.89999999999999" y2="512.1" stroke="#000" stroke-width="1.4" />
<line x1="145.5" y1="509.6" x2="145.5" y2="512.1" stroke="#000" stroke-width="1.4" />
<line x1="192.1" y1="509.6" x2="192.1" y2="512.1" stroke="#000" stroke-width="1.4" />
<line x1="238.70000000000002" y1="509.6" x2="238.70000000000002" y2="512.1" stroke="#000" stroke-width="1.4" />
<line x1="285.3" y1="509.6" x2="285.3" y2="512.1" stroke="#000" stroke-width="1.4" />
<path d="M75.60,495.58 L79.32,499.30 L75.60,503.02 L71.88,499.30Z" fill="#fff" stroke="#404040" stroke-width="0.9"/>
<path d="M78.80,495.58 L82.52,499.30 L78.80,503.02 L75.08,499.30Z" fill="#fff" stroke="#404040" stroke-width="0.9"/>
<path d="M82.00,495.58 L85.72,499.30 L82.00,503.02 L78.28,499.30Z" fill="#fff" stroke="#404040" stroke-width="0.9"/>
<path d="M85.20,495.58 L88.92,499.30 L85.20,503.02 L81.48,499.30Z" fill="#fff" stroke="#404040" stroke-width="0.9"/>
<path d="M88.40,495.58 L92.12,499.30 L88.40,503.02 L84.68,499.30Z" fill="#fff" stroke="#404040" stroke-width="0.9"/>
<path d="M91.60,495.58 L95.32,499.30 L91.60,503.02 L87.88,499.30Z" fill="#fff" stroke="#404040" stroke-width="0.9"/>
<path d="M94.80,495.58 L98.52,499.30 L94.80,503.02 L91.08,499.30Z" fill="#fff" stroke="#404040" stroke-width="0.9"/>
<path d="M98.00,495.58 L101.72,499.30 L98.00,503.02 L94.28,499.30Z" fill="#fff" stroke="#404040" stroke-width="0.9"/>
<path d="M101.20,495.58 L104.92,499.30 L101.20,503.02 L97.48,499.30Z" fill="#fff" stroke="#404040" stroke-width="0.9"/>
<path d="M104.40,495.58 L108.12,499.30 L104.40,503.02 L100.68,499.30Z" fill="#fff" stroke="#404040" stroke-width="0.9"/>
<path d="M107.60,495.58 L111.32,499.30 L107.60,503.02 L103.88,499.30Z" fill="#fff" stroke="#404040" stroke-width="0.9"/>
<path d="M110.80,495.58 L114.52,499.30 L110.80,503.02 L107.08,499.30Z" fill="#fff" stroke="#404040" stroke-width="0.9"/>
<path d="M114.00,495.58 L117.72,499.30 L114.00,503.02 L110.28,499.30Z" fill="#fff" stroke="#404040" stroke-width="0.9"/>
<path d="M117.20,495.58 L120.92,499.30 L117.20,503.02 L113.48,499.30Z" fill="#fff" stroke="#404040" stroke-width="0.9"/>
<path d="M120.40,495.58 L124.12,499.30 L120.40,503.02 L116.68,499.30Z" fill="#fff" stroke="#404040" stroke-width="0.9"/>
<path d="M123.60,495.58 L127.32,499.30 L123.60,503.02 L119.88,499.30Z" fill="#fff" stroke="#404040" stroke-width="0.9"/>
<path d="M126.80,495.58 L130.52,499.30 L126.80,503.02 L123.08,499.30Z" fill="#fff" stroke="#404040" stroke-width="0.9"/>
<path d="M130.00,495.58 L133.72,499.30 L130.00,503.02 L126.28,499.30Z" fill="#fff" stroke="#404040" stroke-width="0.9"/>
<path d="M133.20,495.58 L136.92,499.30 L133.20,503.02 L129.48,499.30Z" fill="#fff" stroke="#404040" stroke-width="0.9"/>
<path d="M136.40,495.58 L140.12,499.30 L136.40,503.02 L132.68,499.30Z" fill="#fff" stroke="#404040" stroke-width="0.9"/>
<path d="M139.60,495.58 L143.32,499.30 L139.60,503.02 L135.88,499.30Z" fill="#fff" stroke="#404040" stroke-width="0.9"/>
<path d="M140.00,496.00 L151.00,488.00 L152.80,478.50" fill="none" stroke="#404040" stroke-width="1.1" />
<path d="M147.50,482.50 L151.00,488.00 L153.00,497.00" fill="none" stroke="#404040" stroke-width="1.1" />
<path d="M152.80,474.90 L155.90,478.00 L152.80,481.10 L149.70,478.00Z" fill="#fff" stroke="#404040" stroke-width="0.9"/>
<path d="M84.00,499.00 L84.00,491.70 L88.00,487.00 L93.00,484.00 L100.00,482.80 L108.00,481.80 L268.70,480.60 L273.50,476.50 L278.30,470.10" fill="none" stroke="#5AAEE0" stroke-width="1.0" />
<rect x="81.70" y="496.70" width="4.60" height="4.60" fill="#fff" stroke="#5AAEE0" stroke-width="1.0"/>
<rect x="81.70" y="491.80" width="4.60" height="4.60" fill="#fff" stroke="#5AAEE0" stroke-width="1.0"/>
<rect x="83.32" y="487.50" width="4.60" height="4.60" fill="#fff" stroke="#5AAEE0" stroke-width="1.0"/>
<rect x="86.75" y="484.07" width="4.60" height="4.60" fill="#fff" stroke="#5AAEE0" stroke-width="1.0"/>
<rect x="90.99" y="481.65" width="4.60" height="4.60" fill="#fff" stroke="#5AAEE0" stroke-width="1.0"/>
<rect x="95.82" y="480.82" width="4.60" height="4.60" fill="#fff" stroke="#5AAEE0" stroke-width="1.0"/>
<rect x="100.67" y="480.13" width="4.60" height="4.60" fill="#fff" stroke="#5AAEE0" stroke-width="1.0"/>
<rect x="105.53" y="479.52" width="4.60" height="4.60" fill="#fff" stroke="#5AAEE0" stroke-width="1.0"/>
<rect x="110.43" y="479.46" width="4.60" height="4.60" fill="#fff" stroke="#5AAEE0" stroke-width="1.0"/>
<rect x="115.33" y="479.43" width="4.60" height="4.60" fill="#fff" stroke="#5AAEE0" stroke-width="1.0"/>
<rect x="120.23" y="479.39" width="4.60" height="4.60" fill="#fff" stroke="#5AAEE0" stroke-width="1.0"/>
<rect x="125.13" y="479.35" width="4.60" height="4.60" fill="#fff" stroke="#5AAEE0" stroke-width="1.0"/>
<rect x="130.03" y="479.32" width="4.60" height="4.60" fill="#fff" stroke="#5AAEE0" stroke-width="1.0"/>
<rect x="134.93" y="479.28" width="4.60" height="4.60" fill="#fff" stroke="#5AAEE0" stroke-width="1.0"/>
<rect x="139.83" y="479.25" width="4.60" height="4.60" fill="#fff" stroke="#5AAEE0" stroke-width="1.0"/>
<rect x="144.73" y="479.21" width="4.60" height="4.60" fill="#fff" stroke="#5AAEE0" stroke-width="1.0"/>
<rect x="149.63" y="479.17" width="4.60" height="4.60" fill="#fff" stroke="#5AAEE0" stroke-width="1.0"/>
<rect x="154.53" y="479.14" width="4.60" height="4.60" fill="#fff" stroke="#5AAEE0" stroke-width="1.0"/>
<rect x="159.43" y="479.10" width="4.60" height="4.60" fill="#fff" stroke="#5AAEE0" stroke-width="1.0"/>
<rect x="164.33" y="479.06" width="4.60" height="4.60" fill="#fff" stroke="#5AAEE0" stroke-width="1.0"/>
<rect x="169.23" y="479.03" width="4.60" height="4.60" fill="#fff" stroke="#5AAEE0" stroke-width="1.0"/>
<rect x="174.13" y="478.99" width="4.60" height="4.60" fill="#fff" stroke="#5AAEE0" stroke-width="1.0"/>
<rect x="179.03" y="478.95" width="4.60" height="4.60" fill="#fff" stroke="#5AAEE0" stroke-width="1.0"/>
<rect x="183.93" y="478.92" width="4.60" height="4.60" fill="#fff" stroke="#5AAEE0" stroke-width="1.0"/>
<rect x="188.83" y="478.88" width="4.60" height="4.60" fill="#fff" stroke="#5AAEE0" stroke-width="1.0"/>
<rect x="193.73" y="478.84" width="4.60" height="4.60" fill="#fff" stroke="#5AAEE0" stroke-width="1.0"/>
<rect x="198.63" y="478.81" width="4.60" height="4.60" fill="#fff" stroke="#5AAEE0" stroke-width="1.0"/>
<rect x="203.53" y="478.77" width="4.60" height="4.60" fill="#fff" stroke="#5AAEE0" stroke-width="1.0"/>
<rect x="208.43" y="478.73" width="4.60" height="4.60" fill="#fff" stroke="#5AAEE0" stroke-width="1.0"/>
<rect x="213.33" y="478.70" width="4.60" height="4.60" fill="#fff" stroke="#5AAEE0" stroke-width="1.0"/>
<rect x="218.23" y="478.66" width="4.60" height="4.60" fill="#fff" stroke="#5AAEE0" stroke-width="1.0"/>
<rect x="223.13" y="478.62" width="4.60" height="4.60" fill="#fff" stroke="#5AAEE0" stroke-width="1.0"/>
<rect x="228.03" y="478.59" width="4.60" height="4.60" fill="#fff" stroke="#5AAEE0" stroke-width="1.0"/>
<rect x="232.93" y="478.55" width="4.60" height="4.60" fill="#fff" stroke="#5AAEE0" stroke-width="1.0"/>
<rect x="237.83" y="478.51" width="4.60" height="4.60" fill="#fff" stroke="#5AAEE0" stroke-width="1.0"/>
<rect x="242.73" y="478.48" width="4.60" height="4.60" fill="#fff" stroke="#5AAEE0" stroke-width="1.0"/>
<rect x="247.63" y="478.44" width="4.60" height="4.60" fill="#fff" stroke="#5AAEE0" stroke-width="1.0"/>
<rect x="252.53" y="478.40" width="4.60" height="4.60" fill="#fff" stroke="#5AAEE0" stroke-width="1.0"/>
<rect x="257.43" y="478.37" width="4.60" height="4.60" fill="#fff" stroke="#5AAEE0" stroke-width="1.0"/>
<rect x="262.33" y="478.33" width="4.60" height="4.60" fill="#fff" stroke="#5AAEE0" stroke-width="1.0"/>
<rect x="267.03" y="477.76" width="4.60" height="4.60" fill="#fff" stroke="#5AAEE0" stroke-width="1.0"/>
<rect x="270.76" y="474.58" width="4.60" height="4.60" fill="#fff" stroke="#5AAEE0" stroke-width="1.0"/>
<rect x="273.79" y="470.75" width="4.60" height="4.60" fill="#fff" stroke="#5AAEE0" stroke-width="1.0"/>
<path d="M75.60,499.40 L226.00,499.40 L227.70,491.80 L259.00,438.00" fill="none" stroke="#D08050" stroke-width="1.0" />
<path d="M75.60,494.85 L76.80,497.74 L79.93,497.99 L77.55,500.03 L78.27,503.08 L75.60,501.45 L72.93,503.08 L73.65,500.03 L71.27,497.99 L74.40,497.74Z" fill="#fff" stroke="#D08050" stroke-width="1.0"/>
<path d="M79.20,494.85 L80.40,497.74 L83.53,497.99 L81.15,500.03 L81.87,503.08 L79.20,501.45 L76.53,503.08 L77.25,500.03 L74.87,497.99 L78.00,497.74Z" fill="#fff" stroke="#D08050" stroke-width="1.0"/>
<path d="M82.80,494.85 L84.00,497.74 L87.13,497.99 L84.75,500.03 L85.47,503.08 L82.80,501.45 L80.13,503.08 L80.85,500.03 L78.47,497.99 L81.60,497.74Z" fill="#fff" stroke="#D08050" stroke-width="1.0"/>
<path d="M86.40,494.85 L87.60,497.74 L90.73,497.99 L88.35,500.03 L89.07,503.08 L86.40,501.45 L83.73,503.08 L84.45,500.03 L82.07,497.99 L85.20,497.74Z" fill="#fff" stroke="#D08050" stroke-width="1.0"/>
<path d="M90.00,494.85 L91.20,497.74 L94.33,497.99 L91.95,500.03 L92.67,503.08 L90.00,501.45 L87.33,503.08 L88.05,500.03 L85.67,497.99 L88.80,497.74Z" fill="#fff" stroke="#D08050" stroke-width="1.0"/>
<path d="M93.60,494.85 L94.80,497.74 L97.93,497.99 L95.55,500.03 L96.27,503.08 L93.60,501.45 L90.93,503.08 L91.65,500.03 L89.27,497.99 L92.40,497.74Z" fill="#fff" stroke="#D08050" stroke-width="1.0"/>
<path d="M97.20,494.85 L98.40,497.74 L101.53,497.99 L99.15,500.03 L99.87,503.08 L97.20,501.45 L94.53,503.08 L95.25,500.03 L92.87,497.99 L96.00,497.74Z" fill="#fff" stroke="#D08050" stroke-width="1.0"/>
<path d="M100.80,494.85 L102.00,497.74 L105.13,497.99 L102.75,500.03 L103.47,503.08 L100.80,501.45 L98.13,503.08 L98.85,500.03 L96.47,497.99 L99.60,497.74Z" fill="#fff" stroke="#D08050" stroke-width="1.0"/>
<path d="M104.40,494.85 L105.60,497.74 L108.73,497.99 L106.35,500.03 L107.07,503.08 L104.40,501.45 L101.73,503.08 L102.45,500.03 L100.07,497.99 L103.20,497.74Z" fill="#fff" stroke="#D08050" stroke-width="1.0"/>
<path d="M108.00,494.85 L109.20,497.74 L112.33,497.99 L109.95,500.03 L110.67,503.08 L108.00,501.45 L105.33,503.08 L106.05,500.03 L103.67,497.99 L106.80,497.74Z" fill="#fff" stroke="#D08050" stroke-width="1.0"/>
<path d="M111.60,494.85 L112.80,497.74 L115.93,497.99 L113.55,500.03 L114.27,503.08 L111.60,501.45 L108.93,503.08 L109.65,500.03 L107.27,497.99 L110.40,497.74Z" fill="#fff" stroke="#D08050" stroke-width="1.0"/>
<path d="M115.20,494.85 L116.40,497.74 L119.53,497.99 L117.15,500.03 L117.87,503.08 L115.20,501.45 L112.53,503.08 L113.25,500.03 L110.87,497.99 L114.00,497.74Z" fill="#fff" stroke="#D08050" stroke-width="1.0"/>
<path d="M118.80,494.85 L120.00,497.74 L123.13,497.99 L120.75,500.03 L121.47,503.08 L118.80,501.45 L116.13,503.08 L116.85,500.03 L114.47,497.99 L117.60,497.74Z" fill="#fff" stroke="#D08050" stroke-width="1.0"/>
<path d="M122.40,494.85 L123.60,497.74 L126.73,497.99 L124.35,500.03 L125.07,503.08 L122.40,501.45 L119.73,503.08 L120.45,500.03 L118.07,497.99 L121.20,497.74Z" fill="#fff" stroke="#D08050" stroke-width="1.0"/>
<path d="M126.00,494.85 L127.20,497.74 L130.33,497.99 L127.95,500.03 L128.67,503.08 L126.00,501.45 L123.33,503.08 L124.05,500.03 L121.67,497.99 L124.80,497.74Z" fill="#fff" stroke="#D08050" stroke-width="1.0"/>
<path d="M129.60,494.85 L130.80,497.74 L133.93,497.99 L131.55,500.03 L132.27,503.08 L129.60,501.45 L126.93,503.08 L127.65,500.03 L125.27,497.99 L128.40,497.74Z" fill="#fff" stroke="#D08050" stroke-width="1.0"/>
<path d="M133.20,494.85 L134.40,497.74 L137.53,497.99 L135.15,500.03 L135.87,503.08 L133.20,501.45 L130.53,503.08 L131.25,500.03 L128.87,497.99 L132.00,497.74Z" fill="#fff" stroke="#D08050" stroke-width="1.0"/>
<path d="M136.80,494.85 L138.00,497.74 L141.13,497.99 L138.75,500.03 L139.47,503.08 L136.80,501.45 L134.13,503.08 L134.85,500.03 L132.47,497.99 L135.60,497.74Z" fill="#fff" stroke="#D08050" stroke-width="1.0"/>
<path d="M140.40,494.85 L141.60,497.74 L144.73,497.99 L142.35,500.03 L143.07,503.08 L140.40,501.45 L137.73,503.08 L138.45,500.03 L136.07,497.99 L139.20,497.74Z" fill="#fff" stroke="#D08050" stroke-width="1.0"/>
<path d="M144.00,494.85 L145.20,497.74 L148.33,497.99 L145.95,500.03 L146.67,503.08 L144.00,501.45 L141.33,503.08 L142.05,500.03 L139.67,497.99 L142.80,497.74Z" fill="#fff" stroke="#D08050" stroke-width="1.0"/>
<path d="M147.60,494.85 L148.80,497.74 L151.93,497.99 L149.55,500.03 L150.27,503.08 L147.60,501.45 L144.93,503.08 L145.65,500.03 L143.27,497.99 L146.40,497.74Z" fill="#fff" stroke="#D08050" stroke-width="1.0"/>
<path d="M151.20,494.85 L152.40,497.74 L155.53,497.99 L153.15,500.03 L153.87,503.08 L151.20,501.45 L148.53,503.08 L149.25,500.03 L146.87,497.99 L150.00,497.74Z" fill="#fff" stroke="#D08050" stroke-width="1.0"/>
<path d="M154.80,494.85 L156.00,497.74 L159.13,497.99 L156.75,500.03 L157.47,503.08 L154.80,501.45 L152.13,503.08 L152.85,500.03 L150.47,497.99 L153.60,497.74Z" fill="#fff" stroke="#D08050" stroke-width="1.0"/>
<path d="M158.40,494.85 L159.60,497.74 L162.73,497.99 L160.35,500.03 L161.07,503.08 L158.40,501.45 L155.73,503.08 L156.45,500.03 L154.07,497.99 L157.20,497.74Z" fill="#fff" stroke="#D08050" stroke-width="1.0"/>
<path d="M162.00,494.85 L163.20,497.74 L166.33,497.99 L163.95,500.03 L164.67,503.08 L162.00,501.45 L159.33,503.08 L160.05,500.03 L157.67,497.99 L160.80,497.74Z" fill="#fff" stroke="#D08050" stroke-width="1.0"/>
<path d="M165.60,494.85 L166.80,497.74 L169.93,497.99 L167.55,500.03 L168.27,503.08 L165.60,501.45 L162.93,503.08 L163.65,500.03 L161.27,497.99 L164.40,497.74Z" fill="#fff" stroke="#D08050" stroke-width="1.0"/>
<path d="M169.20,494.85 L170.40,497.74 L173.53,497.99 L171.15,500.03 L171.87,503.08 L169.20,501.45 L166.53,503.08 L167.25,500.03 L164.87,497.99 L168.00,497.74Z" fill="#fff" stroke="#D08050" stroke-width="1.0"/>
<path d="M172.80,494.85 L174.00,497.74 L177.13,497.99 L174.75,500.03 L175.47,503.08 L172.80,501.45 L170.13,503.08 L170.85,500.03 L168.47,497.99 L171.60,497.74Z" fill="#fff" stroke="#D08050" stroke-width="1.0"/>
<path d="M176.40,494.85 L177.60,497.74 L180.73,497.99 L178.35,500.03 L179.07,503.08 L176.40,501.45 L173.73,503.08 L174.45,500.03 L172.07,497.99 L175.20,497.74Z" fill="#fff" stroke="#D08050" stroke-width="1.0"/>
<path d="M180.00,494.85 L181.20,497.74 L184.33,497.99 L181.95,500.03 L182.67,503.08 L180.00,501.45 L177.33,503.08 L178.05,500.03 L175.67,497.99 L178.80,497.74Z" fill="#fff" stroke="#D08050" stroke-width="1.0"/>
<path d="M183.60,494.85 L184.80,497.74 L187.93,497.99 L185.55,500.03 L186.27,503.08 L183.60,501.45 L180.93,503.08 L181.65,500.03 L179.27,497.99 L182.40,497.74Z" fill="#fff" stroke="#D08050" stroke-width="1.0"/>
<path d="M187.20,494.85 L188.40,497.74 L191.53,497.99 L189.15,500.03 L189.87,503.08 L187.20,501.45 L184.53,503.08 L185.25,500.03 L182.87,497.99 L186.00,497.74Z" fill="#fff" stroke="#D08050" stroke-width="1.0"/>
<path d="M190.80,494.85 L192.00,497.74 L195.13,497.99 L192.75,500.03 L193.47,503.08 L190.80,501.45 L188.13,503.08 L188.85,500.03 L186.47,497.99 L189.60,497.74Z" fill="#fff" stroke="#D08050" stroke-width="1.0"/>
<path d="M194.40,494.85 L195.60,497.74 L198.73,497.99 L196.35,500.03 L197.07,503.08 L194.40,501.45 L191.73,503.08 L192.45,500.03 L190.07,497.99 L193.20,497.74Z" fill="#fff" stroke="#D08050" stroke-width="1.0"/>
<path d="M198.00,494.85 L199.20,497.74 L202.33,497.99 L199.95,500.03 L200.67,503.08 L198.00,501.45 L195.33,503.08 L196.05,500.03 L193.67,497.99 L196.80,497.74Z" fill="#fff" stroke="#D08050" stroke-width="1.0"/>
<path d="M201.60,494.85 L202.80,497.74 L205.93,497.99 L203.55,500.03 L204.27,503.08 L201.60,501.45 L198.93,503.08 L199.65,500.03 L197.27,497.99 L200.40,497.74Z" fill="#fff" stroke="#D08050" stroke-width="1.0"/>
<path d="M205.20,494.85 L206.40,497.74 L209.53,497.99 L207.15,500.03 L207.87,503.08 L205.20,501.45 L202.53,503.08 L203.25,500.03 L200.87,497.99 L204.00,497.74Z" fill="#fff" stroke="#D08050" stroke-width="1.0"/>
<path d="M208.80,494.85 L210.00,497.74 L213.13,497.99 L210.75,500.03 L211.47,503.08 L208.80,501.45 L206.13,503.08 L206.85,500.03 L204.47,497.99 L207.60,497.74Z" fill="#fff" stroke="#D08050" stroke-width="1.0"/>
<path d="M212.40,494.85 L213.60,497.74 L216.73,497.99 L214.35,500.03 L215.07,503.08 L212.40,501.45 L209.73,503.08 L210.45,500.03 L208.07,497.99 L211.20,497.74Z" fill="#fff" stroke="#D08050" stroke-width="1.0"/>
<path d="M216.00,494.85 L217.20,497.74 L220.33,497.99 L217.95,500.03 L218.67,503.08 L216.00,501.45 L213.33,503.08 L214.05,500.03 L211.67,497.99 L214.80,497.74Z" fill="#fff" stroke="#D08050" stroke-width="1.0"/>
<path d="M219.60,494.85 L220.80,497.74 L223.93,497.99 L221.55,500.03 L222.27,503.08 L219.60,501.45 L216.93,503.08 L217.65,500.03 L215.27,497.99 L218.40,497.74Z" fill="#fff" stroke="#D08050" stroke-width="1.0"/>
<path d="M223.20,494.85 L224.40,497.74 L227.53,497.99 L225.15,500.03 L225.87,503.08 L223.20,501.45 L220.53,503.08 L221.25,500.03 L218.87,497.99 L222.00,497.74Z" fill="#fff" stroke="#D08050" stroke-width="1.0"/>
<path d="M226.17,494.07 L227.38,496.96 L230.50,497.21 L228.12,499.25 L228.85,502.30 L226.17,500.67 L223.50,502.30 L224.23,499.25 L221.85,497.21 L224.97,496.96Z" fill="#fff" stroke="#D08050" stroke-width="1.0"/>
<path d="M226.96,490.56 L228.16,493.45 L231.29,493.70 L228.91,495.74 L229.63,498.79 L226.96,497.15 L224.29,498.79 L225.01,495.74 L222.63,493.70 L225.76,493.45Z" fill="#fff" stroke="#D08050" stroke-width="1.0"/>
<path d="M227.81,487.07 L229.01,489.96 L232.13,490.21 L229.75,492.25 L230.48,495.30 L227.81,493.66 L225.13,495.30 L225.86,492.25 L223.48,490.21 L226.60,489.96Z" fill="#fff" stroke="#D08050" stroke-width="1.0"/>
<path d="M229.62,483.95 L230.82,486.85 L233.94,487.10 L231.56,489.14 L232.29,492.19 L229.62,490.55 L226.94,492.19 L227.67,489.14 L225.29,487.10 L228.41,486.85Z" fill="#fff" stroke="#D08050" stroke-width="1.0"/>
<path d="M231.43,480.84 L232.63,483.74 L235.75,483.99 L233.37,486.03 L234.10,489.07 L231.43,487.44 L228.75,489.07 L229.48,486.03 L227.10,483.99 L230.22,483.74Z" fill="#fff" stroke="#D08050" stroke-width="1.0"/>
<path d="M233.24,477.73 L234.44,480.63 L237.57,480.88 L235.19,482.91 L235.91,485.96 L233.24,484.33 L230.56,485.96 L231.29,482.91 L228.91,480.88 L232.03,480.63Z" fill="#fff" stroke="#D08050" stroke-width="1.0"/>
<path d="M235.05,474.62 L236.25,477.51 L239.38,477.76 L237.00,479.80 L237.72,482.85 L235.05,481.22 L232.37,482.85 L233.10,479.80 L230.72,477.76 L233.84,477.51Z" fill="#fff" stroke="#D08050" stroke-width="1.0"/>
<path d="M236.86,471.51 L238.06,474.40 L241.19,474.65 L238.81,476.69 L239.53,479.74 L236.86,478.11 L234.18,479.74 L234.91,476.69 L232.53,474.65 L235.65,474.40Z" fill="#fff" stroke="#D08050" stroke-width="1.0"/>
<path d="M238.67,468.40 L239.87,471.29 L243.00,471.54 L240.62,473.58 L241.34,476.63 L238.67,474.99 L235.99,476.63 L236.72,473.58 L234.34,471.54 L237.47,471.29Z" fill="#fff" stroke="#D08050" stroke-width="1.0"/>
<path d="M240.48,465.28 L241.68,468.18 L244.81,468.43 L242.43,470.47 L243.15,473.52 L240.48,471.88 L237.80,473.52 L238.53,470.47 L236.15,468.43 L239.28,468.18Z" fill="#fff" stroke="#D08050" stroke-width="1.0"/>
<path d="M242.29,462.17 L243.49,465.07 L246.62,465.32 L244.24,467.36 L244.96,470.40 L242.29,468.77 L239.61,470.40 L240.34,467.36 L237.96,465.32 L241.09,465.07Z" fill="#fff" stroke="#D08050" stroke-width="1.0"/>
<path d="M244.10,459.06 L245.30,461.95 L248.43,462.21 L246.05,464.24 L246.77,467.29 L244.10,465.66 L241.43,467.29 L242.15,464.24 L239.77,462.21 L242.90,461.95Z" fill="#fff" stroke="#D08050" stroke-width="1.0"/>
<path d="M245.91,455.95 L247.11,458.84 L250.24,459.09 L247.86,461.13 L248.58,464.18 L245.91,462.55 L243.24,464.18 L243.96,461.13 L241.58,459.09 L244.71,458.84Z" fill="#fff" stroke="#D08050" stroke-width="1.0"/>
<path d="M247.72,452.84 L248.92,455.73 L252.05,455.98 L249.67,458.02 L250.39,461.07 L247.72,459.44 L245.05,461.07 L245.77,458.02 L243.39,455.98 L246.52,455.73Z" fill="#fff" stroke="#D08050" stroke-width="1.0"/>
<path d="M249.53,449.73 L250.73,452.62 L253.86,452.87 L251.48,454.91 L252.21,457.96 L249.53,456.32 L246.86,457.96 L247.58,454.91 L245.20,452.87 L248.33,452.62Z" fill="#fff" stroke="#D08050" stroke-width="1.0"/>
<path d="M251.34,446.61 L252.54,449.51 L255.67,449.76 L253.29,451.80 L254.02,454.85 L251.34,453.21 L248.67,454.85 L249.39,451.80 L247.01,449.76 L250.14,449.51Z" fill="#fff" stroke="#D08050" stroke-width="1.0"/>
<path d="M253.15,443.50 L254.35,446.40 L257.48,446.65 L255.10,448.69 L255.83,451.73 L253.15,450.10 L250.48,451.73 L251.20,448.69 L248.82,446.65 L251.95,446.40Z" fill="#fff" stroke="#D08050" stroke-width="1.0"/>
<path d="M254.96,440.39 L256.17,443.28 L259.29,443.54 L256.91,445.57 L257.64,448.62 L254.96,446.99 L252.29,448.62 L253.01,445.57 L250.63,443.54 L253.76,443.28Z" fill="#fff" stroke="#D08050" stroke-width="1.0"/>
<path d="M256.77,437.28 L257.98,440.17 L261.10,440.42 L258.72,442.46 L259.45,445.51 L256.77,443.88 L254.10,445.51 L254.82,442.46 L252.44,440.42 L255.57,440.17Z" fill="#fff" stroke="#D08050" stroke-width="1.0"/>
<path d="M258.58,434.17 L259.79,437.06 L262.91,437.31 L260.53,439.35 L261.26,442.40 L258.58,440.77 L255.91,442.40 L256.64,439.35 L254.26,437.31 L257.38,437.06Z" fill="#fff" stroke="#D08050" stroke-width="1.0"/>
<path d="M75.60,499.40 L198.00,499.40 L200.40,495.80 L226.90,460.50" fill="none" stroke="#9E6FD0" stroke-width="1.0" />
<path d="M75.60,495.46 L79.35,498.18 L77.92,502.59 L73.28,502.59 L71.85,498.18Z" fill="#fff" stroke="#9E6FD0" stroke-width="1.0"/>
<path d="M79.60,495.46 L83.35,498.18 L81.92,502.59 L77.28,502.59 L75.85,498.18Z" fill="#fff" stroke="#9E6FD0" stroke-width="1.0"/>
<path d="M83.60,495.46 L87.35,498.18 L85.92,502.59 L81.28,502.59 L79.85,498.18Z" fill="#fff" stroke="#9E6FD0" stroke-width="1.0"/>
<path d="M87.60,495.46 L91.35,498.18 L89.92,502.59 L85.28,502.59 L83.85,498.18Z" fill="#fff" stroke="#9E6FD0" stroke-width="1.0"/>
<path d="M91.60,495.46 L95.35,498.18 L93.92,502.59 L89.28,502.59 L87.85,498.18Z" fill="#fff" stroke="#9E6FD0" stroke-width="1.0"/>
<path d="M95.60,495.46 L99.35,498.18 L97.92,502.59 L93.28,502.59 L91.85,498.18Z" fill="#fff" stroke="#9E6FD0" stroke-width="1.0"/>
<path d="M99.60,495.46 L103.35,498.18 L101.92,502.59 L97.28,502.59 L95.85,498.18Z" fill="#fff" stroke="#9E6FD0" stroke-width="1.0"/>
<path d="M103.60,495.46 L107.35,498.18 L105.92,502.59 L101.28,502.59 L99.85,498.18Z" fill="#fff" stroke="#9E6FD0" stroke-width="1.0"/>
<path d="M107.60,495.46 L111.35,498.18 L109.92,502.59 L105.28,502.59 L103.85,498.18Z" fill="#fff" stroke="#9E6FD0" stroke-width="1.0"/>
<path d="M111.60,495.46 L115.35,498.18 L113.92,502.59 L109.28,502.59 L107.85,498.18Z" fill="#fff" stroke="#9E6FD0" stroke-width="1.0"/>
<path d="M115.60,495.46 L119.35,498.18 L117.92,502.59 L113.28,502.59 L111.85,498.18Z" fill="#fff" stroke="#9E6FD0" stroke-width="1.0"/>
<path d="M119.60,495.46 L123.35,498.18 L121.92,502.59 L117.28,502.59 L115.85,498.18Z" fill="#fff" stroke="#9E6FD0" stroke-width="1.0"/>
<path d="M123.60,495.46 L127.35,498.18 L125.92,502.59 L121.28,502.59 L119.85,498.18Z" fill="#fff" stroke="#9E6FD0" stroke-width="1.0"/>
<path d="M127.60,495.46 L131.35,498.18 L129.92,502.59 L125.28,502.59 L123.85,498.18Z" fill="#fff" stroke="#9E6FD0" stroke-width="1.0"/>
<path d="M131.60,495.46 L135.35,498.18 L133.92,502.59 L129.28,502.59 L127.85,498.18Z" fill="#fff" stroke="#9E6FD0" stroke-width="1.0"/>
<path d="M135.60,495.46 L139.35,498.18 L137.92,502.59 L133.28,502.59 L131.85,498.18Z" fill="#fff" stroke="#9E6FD0" stroke-width="1.0"/>
<path d="M139.60,495.46 L143.35,498.18 L141.92,502.59 L137.28,502.59 L135.85,498.18Z" fill="#fff" stroke="#9E6FD0" stroke-width="1.0"/>
<path d="M143.60,495.46 L147.35,498.18 L145.92,502.59 L141.28,502.59 L139.85,498.18Z" fill="#fff" stroke="#9E6FD0" stroke-width="1.0"/>
<path d="M147.60,495.46 L151.35,498.18 L149.92,502.59 L145.28,502.59 L143.85,498.18Z" fill="#fff" stroke="#9E6FD0" stroke-width="1.0"/>
<path d="M151.60,495.46 L155.35,498.18 L153.92,502.59 L149.28,502.59 L147.85,498.18Z" fill="#fff" stroke="#9E6FD0" stroke-width="1.0"/>
<path d="M155.60,495.46 L159.35,498.18 L157.92,502.59 L153.28,502.59 L151.85,498.18Z" fill="#fff" stroke="#9E6FD0" stroke-width="1.0"/>
<path d="M159.60,495.46 L163.35,498.18 L161.92,502.59 L157.28,502.59 L155.85,498.18Z" fill="#fff" stroke="#9E6FD0" stroke-width="1.0"/>
<path d="M163.60,495.46 L167.35,498.18 L165.92,502.59 L161.28,502.59 L159.85,498.18Z" fill="#fff" stroke="#9E6FD0" stroke-width="1.0"/>
<path d="M167.60,495.46 L171.35,498.18 L169.92,502.59 L165.28,502.59 L163.85,498.18Z" fill="#fff" stroke="#9E6FD0" stroke-width="1.0"/>
<path d="M171.60,495.46 L175.35,498.18 L173.92,502.59 L169.28,502.59 L167.85,498.18Z" fill="#fff" stroke="#9E6FD0" stroke-width="1.0"/>
<path d="M175.60,495.46 L179.35,498.18 L177.92,502.59 L173.28,502.59 L171.85,498.18Z" fill="#fff" stroke="#9E6FD0" stroke-width="1.0"/>
<path d="M179.60,495.46 L183.35,498.18 L181.92,502.59 L177.28,502.59 L175.85,498.18Z" fill="#fff" stroke="#9E6FD0" stroke-width="1.0"/>
<path d="M183.60,495.46 L187.35,498.18 L185.92,502.59 L181.28,502.59 L179.85,498.18Z" fill="#fff" stroke="#9E6FD0" stroke-width="1.0"/>
<path d="M187.60,495.46 L191.35,498.18 L189.92,502.59 L185.28,502.59 L183.85,498.18Z" fill="#fff" stroke="#9E6FD0" stroke-width="1.0"/>
<path d="M191.60,495.46 L195.35,498.18 L193.92,502.59 L189.28,502.59 L187.85,498.18Z" fill="#fff" stroke="#9E6FD0" stroke-width="1.0"/>
<path d="M195.60,495.46 L199.35,498.18 L197.92,502.59 L193.28,502.59 L191.85,498.18Z" fill="#fff" stroke="#9E6FD0" stroke-width="1.0"/>
<path d="M198.89,494.12 L202.64,496.85 L201.21,501.26 L196.57,501.26 L195.14,496.85Z" fill="#fff" stroke="#9E6FD0" stroke-width="1.0"/>
<path d="M201.16,490.84 L204.92,493.56 L203.48,497.97 L198.85,497.97 L197.41,493.56Z" fill="#fff" stroke="#9E6FD0" stroke-width="1.0"/>
<path d="M203.57,487.64 L207.32,490.36 L205.88,494.77 L201.25,494.77 L199.81,490.36Z" fill="#fff" stroke="#9E6FD0" stroke-width="1.0"/>
<path d="M205.97,484.44 L209.72,487.17 L208.29,491.57 L203.65,491.57 L202.22,487.17Z" fill="#fff" stroke="#9E6FD0" stroke-width="1.0"/>
<path d="M208.37,481.24 L212.12,483.97 L210.69,488.38 L206.05,488.38 L204.62,483.97Z" fill="#fff" stroke="#9E6FD0" stroke-width="1.0"/>
<path d="M210.77,478.04 L214.52,480.77 L213.09,485.18 L208.45,485.18 L207.02,480.77Z" fill="#fff" stroke="#9E6FD0" stroke-width="1.0"/>
<path d="M213.17,474.84 L216.92,477.57 L215.49,481.98 L210.85,481.98 L209.42,477.57Z" fill="#fff" stroke="#9E6FD0" stroke-width="1.0"/>
<path d="M215.57,471.64 L219.32,474.37 L217.89,478.78 L213.25,478.78 L211.82,474.37Z" fill="#fff" stroke="#9E6FD0" stroke-width="1.0"/>
<path d="M217.97,468.45 L221.73,471.17 L220.29,475.58 L215.66,475.58 L214.22,471.17Z" fill="#fff" stroke="#9E6FD0" stroke-width="1.0"/>
<path d="M220.38,465.25 L224.13,467.97 L222.69,472.38 L218.06,472.38 L216.63,467.97Z" fill="#fff" stroke="#9E6FD0" stroke-width="1.0"/>
<path d="M222.78,462.05 L226.53,464.77 L225.10,469.18 L220.46,469.18 L219.03,464.77Z" fill="#fff" stroke="#9E6FD0" stroke-width="1.0"/>
<path d="M225.18,458.85 L228.93,461.57 L227.50,465.98 L222.86,465.98 L221.43,461.57Z" fill="#fff" stroke="#9E6FD0" stroke-width="1.0"/>
<path d="M75.60,499.60 L232.00,499.60 L234.10,496.60 L240.60,483.80" fill="none" stroke="#F0A040" stroke-width="1.0" />
<path d="M75.60,496.22 L79.09,502.26 L72.11,502.26Z" fill="#fff" stroke="#F0A040" stroke-width="1.0"/>
<path d="M79.00,496.22 L82.49,502.26 L75.51,502.26Z" fill="#fff" stroke="#F0A040" stroke-width="1.0"/>
<path d="M82.40,496.22 L85.89,502.26 L78.91,502.26Z" fill="#fff" stroke="#F0A040" stroke-width="1.0"/>
<path d="M85.80,496.22 L89.29,502.26 L82.31,502.26Z" fill="#fff" stroke="#F0A040" stroke-width="1.0"/>
<path d="M89.20,496.22 L92.69,502.26 L85.71,502.26Z" fill="#fff" stroke="#F0A040" stroke-width="1.0"/>
<path d="M92.60,496.22 L96.09,502.26 L89.11,502.26Z" fill="#fff" stroke="#F0A040" stroke-width="1.0"/>
<path d="M96.00,496.22 L99.49,502.26 L92.51,502.26Z" fill="#fff" stroke="#F0A040" stroke-width="1.0"/>
<path d="M99.40,496.22 L102.89,502.26 L95.91,502.26Z" fill="#fff" stroke="#F0A040" stroke-width="1.0"/>
<path d="M102.80,496.22 L106.29,502.26 L99.31,502.26Z" fill="#fff" stroke="#F0A040" stroke-width="1.0"/>
<path d="M106.20,496.22 L109.69,502.26 L102.71,502.26Z" fill="#fff" stroke="#F0A040" stroke-width="1.0"/>
<path d="M109.60,496.22 L113.09,502.26 L106.11,502.26Z" fill="#fff" stroke="#F0A040" stroke-width="1.0"/>
<path d="M113.00,496.22 L116.49,502.26 L109.51,502.26Z" fill="#fff" stroke="#F0A040" stroke-width="1.0"/>
<path d="M116.40,496.22 L119.89,502.26 L112.91,502.26Z" fill="#fff" stroke="#F0A040" stroke-width="1.0"/>
<path d="M119.80,496.22 L123.29,502.26 L116.31,502.26Z" fill="#fff" stroke="#F0A040" stroke-width="1.0"/>
<path d="M123.20,496.22 L126.69,502.26 L119.71,502.26Z" fill="#fff" stroke="#F0A040" stroke-width="1.0"/>
<path d="M126.60,496.22 L130.09,502.26 L123.11,502.26Z" fill="#fff" stroke="#F0A040" stroke-width="1.0"/>
<path d="M130.00,496.22 L133.49,502.26 L126.51,502.26Z" fill="#fff" stroke="#F0A040" stroke-width="1.0"/>
<path d="M133.40,496.22 L136.89,502.26 L129.91,502.26Z" fill="#fff" stroke="#F0A040" stroke-width="1.0"/>
<path d="M136.80,496.22 L140.29,502.26 L133.31,502.26Z" fill="#fff" stroke="#F0A040" stroke-width="1.0"/>
<path d="M140.20,496.22 L143.69,502.26 L136.71,502.26Z" fill="#fff" stroke="#F0A040" stroke-width="1.0"/>
<path d="M143.60,496.22 L147.09,502.26 L140.11,502.26Z" fill="#fff" stroke="#F0A040" stroke-width="1.0"/>
<path d="M147.00,496.22 L150.49,502.26 L143.51,502.26Z" fill="#fff" stroke="#F0A040" stroke-width="1.0"/>
<path d="M150.40,496.22 L153.89,502.26 L146.91,502.26Z" fill="#fff" stroke="#F0A040" stroke-width="1.0"/>
<path d="M153.80,496.22 L157.29,502.26 L150.31,502.26Z" fill="#fff" stroke="#F0A040" stroke-width="1.0"/>
<path d="M157.20,496.22 L160.69,502.26 L153.71,502.26Z" fill="#fff" stroke="#F0A040" stroke-width="1.0"/>
<path d="M160.60,496.22 L164.09,502.26 L157.11,502.26Z" fill="#fff" stroke="#F0A040" stroke-width="1.0"/>
<path d="M164.00,496.22 L167.49,502.26 L160.51,502.26Z" fill="#fff" stroke="#F0A040" stroke-width="1.0"/>
<path d="M167.40,496.22 L170.89,502.26 L163.91,502.26Z" fill="#fff" stroke="#F0A040" stroke-width="1.0"/>
<path d="M170.80,496.22 L174.29,502.26 L167.31,502.26Z" fill="#fff" stroke="#F0A040" stroke-width="1.0"/>
<path d="M174.20,496.22 L177.69,502.26 L170.71,502.26Z" fill="#fff" stroke="#F0A040" stroke-width="1.0"/>
<path d="M177.60,496.22 L181.09,502.26 L174.11,502.26Z" fill="#fff" stroke="#F0A040" stroke-width="1.0"/>
<path d="M181.00,496.22 L184.49,502.26 L177.51,502.26Z" fill="#fff" stroke="#F0A040" stroke-width="1.0"/>
<path d="M184.40,496.22 L187.89,502.26 L180.91,502.26Z" fill="#fff" stroke="#F0A040" stroke-width="1.0"/>
<path d="M187.80,496.22 L191.29,502.26 L184.31,502.26Z" fill="#fff" stroke="#F0A040" stroke-width="1.0"/>
<path d="M191.20,496.22 L194.69,502.26 L187.71,502.26Z" fill="#fff" stroke="#F0A040" stroke-width="1.0"/>
<path d="M194.60,496.22 L198.09,502.26 L191.11,502.26Z" fill="#fff" stroke="#F0A040" stroke-width="1.0"/>
<path d="M198.00,496.22 L201.49,502.26 L194.51,502.26Z" fill="#fff" stroke="#F0A040" stroke-width="1.0"/>
<path d="M201.40,496.22 L204.89,502.26 L197.91,502.26Z" fill="#fff" stroke="#F0A040" stroke-width="1.0"/>
<path d="M204.80,496.22 L208.29,502.26 L201.31,502.26Z" fill="#fff" stroke="#F0A040" stroke-width="1.0"/>
<path d="M208.20,496.22 L211.69,502.26 L204.71,502.26Z" fill="#fff" stroke="#F0A040" stroke-width="1.0"/>
<path d="M211.60,496.22 L215.09,502.26 L208.11,502.26Z" fill="#fff" stroke="#F0A040" stroke-width="1.0"/>
<path d="M215.00,496.22 L218.49,502.26 L211.51,502.26Z" fill="#fff" stroke="#F0A040" stroke-width="1.0"/>
<path d="M218.40,496.22 L221.89,502.26 L214.91,502.26Z" fill="#fff" stroke="#F0A040" stroke-width="1.0"/>
<path d="M221.80,496.22 L225.29,502.26 L218.31,502.26Z" fill="#fff" stroke="#F0A040" stroke-width="1.0"/>
<path d="M225.20,496.22 L228.69,502.26 L221.71,502.26Z" fill="#fff" stroke="#F0A040" stroke-width="1.0"/>
<path d="M228.60,496.22 L232.09,502.26 L225.11,502.26Z" fill="#fff" stroke="#F0A040" stroke-width="1.0"/>
<path d="M232.00,496.22 L235.49,502.26 L228.51,502.26Z" fill="#fff" stroke="#F0A040" stroke-width="1.0"/>
<path d="M233.95,493.43 L237.44,499.48 L230.46,499.48Z" fill="#fff" stroke="#F0A040" stroke-width="1.0"/>
<path d="M235.52,490.42 L239.01,496.47 L232.03,496.47Z" fill="#fff" stroke="#F0A040" stroke-width="1.0"/>
<path d="M237.06,487.39 L240.55,493.44 L233.57,493.44Z" fill="#fff" stroke="#F0A040" stroke-width="1.0"/>
<path d="M238.60,484.36 L242.09,490.40 L235.11,490.40Z" fill="#fff" stroke="#F0A040" stroke-width="1.0"/>
<path d="M240.14,481.33 L243.63,487.37 L236.65,487.37Z" fill="#fff" stroke="#F0A040" stroke-width="1.0"/>
<path d="M75.60,499.20 L270.00,499.20 L275.90,495.80 L279.00,491.00 L281.80,483.00" fill="none" stroke="#E5505A" stroke-width="1.0" />
<circle cx="75.60" cy="499.20" r="2.60" fill="#fff" stroke="#E5505A" stroke-width="1.0"/>
<circle cx="78.60" cy="499.20" r="2.60" fill="#fff" stroke="#E5505A" stroke-width="1.0"/>
<circle cx="81.60" cy="499.20" r="2.60" fill="#fff" stroke="#E5505A" stroke-width="1.0"/>
<circle cx="84.60" cy="499.20" r="2.60" fill="#fff" stroke="#E5505A" stroke-width="1.0"/>
<circle cx="87.60" cy="499.20" r="2.60" fill="#fff" stroke="#E5505A" stroke-width="1.0"/>
<circle cx="90.60" cy="499.20" r="2.60" fill="#fff" stroke="#E5505A" stroke-width="1.0"/>
<circle cx="93.60" cy="499.20" r="2.60" fill="#fff" stroke="#E5505A" stroke-width="1.0"/>
<circle cx="96.60" cy="499.20" r="2.60" fill="#fff" stroke="#E5505A" stroke-width="1.0"/>
<circle cx="99.60" cy="499.20" r="2.60" fill="#fff" stroke="#E5505A" stroke-width="1.0"/>
<circle cx="102.60" cy="499.20" r="2.60" fill="#fff" stroke="#E5505A" stroke-width="1.0"/>
<circle cx="105.60" cy="499.20" r="2.60" fill="#fff" stroke="#E5505A" stroke-width="1.0"/>
<circle cx="108.60" cy="499.20" r="2.60" fill="#fff" stroke="#E5505A" stroke-width="1.0"/>
<circle cx="111.60" cy="499.20" r="2.60" fill="#fff" stroke="#E5505A" stroke-width="1.0"/>
<circle cx="114.60" cy="499.20" r="2.60" fill="#fff" stroke="#E5505A" stroke-width="1.0"/>
<circle cx="117.60" cy="499.20" r="2.60" fill="#fff" stroke="#E5505A" stroke-width="1.0"/>
<circle cx="120.60" cy="499.20" r="2.60" fill="#fff" stroke="#E5505A" stroke-width="1.0"/>
<circle cx="123.60" cy="499.20" r="2.60" fill="#fff" stroke="#E5505A" stroke-width="1.0"/>
<circle cx="126.60" cy="499.20" r="2.60" fill="#fff" stroke="#E5505A" stroke-width="1.0"/>
<circle cx="129.60" cy="499.20" r="2.60" fill="#fff" stroke="#E5505A" stroke-width="1.0"/>
<circle cx="132.60" cy="499.20" r="2.60" fill="#fff" stroke="#E5505A" stroke-width="1.0"/>
<circle cx="135.60" cy="499.20" r="2.60" fill="#fff" stroke="#E5505A" stroke-width="1.0"/>
<circle cx="138.60" cy="499.20" r="2.60" fill="#fff" stroke="#E5505A" stroke-width="1.0"/>
<circle cx="141.60" cy="499.20" r="2.60" fill="#fff" stroke="#E5505A" stroke-width="1.0"/>
<circle cx="144.60" cy="499.20" r="2.60" fill="#fff" stroke="#E5505A" stroke-width="1.0"/>
<circle cx="147.60" cy="499.20" r="2.60" fill="#fff" stroke="#E5505A" stroke-width="1.0"/>
<circle cx="150.60" cy="499.20" r="2.60" fill="#fff" stroke="#E5505A" stroke-width="1.0"/>
<circle cx="153.60" cy="499.20" r="2.60" fill="#fff" stroke="#E5505A" stroke-width="1.0"/>
<circle cx="156.60" cy="499.20" r="2.60" fill="#fff" stroke="#E5505A" stroke-width="1.0"/>
<circle cx="159.60" cy="499.20" r="2.60" fill="#fff" stroke="#E5505A" stroke-width="1.0"/>
<circle cx="162.60" cy="499.20" r="2.60" fill="#fff" stroke="#E5505A" stroke-width="1.0"/>
<circle cx="165.60" cy="499.20" r="2.60" fill="#fff" stroke="#E5505A" stroke-width="1.0"/>
<circle cx="168.60" cy="499.20" r="2.60" fill="#fff" stroke="#E5505A" stroke-width="1.0"/>
<circle cx="171.60" cy="499.20" r="2.60" fill="#fff" stroke="#E5505A" stroke-width="1.0"/>
<circle cx="174.60" cy="499.20" r="2.60" fill="#fff" stroke="#E5505A" stroke-width="1.0"/>
<circle cx="177.60" cy="499.20" r="2.60" fill="#fff" stroke="#E5505A" stroke-width="1.0"/>
<circle cx="180.60" cy="499.20" r="2.60" fill="#fff" stroke="#E5505A" stroke-width="1.0"/>
<circle cx="183.60" cy="499.20" r="2.60" fill="#fff" stroke="#E5505A" stroke-width="1.0"/>
<circle cx="186.60" cy="499.20" r="2.60" fill="#fff" stroke="#E5505A" stroke-width="1.0"/>
<circle cx="189.60" cy="499.20" r="2.60" fill="#fff" stroke="#E5505A" stroke-width="1.0"/>
<circle cx="192.60" cy="499.20" r="2.60" fill="#fff" stroke="#E5505A" stroke-width="1.0"/>
<circle cx="195.60" cy="499.20" r="2.60" fill="#fff" stroke="#E5505A" stroke-width="1.0"/>
<circle cx="198.60" cy="499.20" r="2.60" fill="#fff" stroke="#E5505A" stroke-width="1.0"/>
<circle cx="201.60" cy="499.20" r="2.60" fill="#fff" stroke="#E5505A" stroke-width="1.0"/>
<circle cx="204.60" cy="499.20" r="2.60" fill="#fff" stroke="#E5505A" stroke-width="1.0"/>
<circle cx="207.60" cy="499.20" r="2.60" fill="#fff" stroke="#E5505A" stroke-width="1.0"/>
<circle cx="210.60" cy="499.20" r="2.60" fill="#fff" stroke="#E5505A" stroke-width="1.0"/>
<circle cx="213.60" cy="499.20" r="2.60" fill="#fff" stroke="#E5505A" stroke-width="1.0"/>
<circle cx="216.60" cy="499.20" r="2.60" fill="#fff" stroke="#E5505A" stroke-width="1.0"/>
<circle cx="219.60" cy="499.20" r="2.60" fill="#fff" stroke="#E5505A" stroke-width="1.0"/>
<circle cx="222.60" cy="499.20" r="2.60" fill="#fff" stroke="#E5505A" stroke-width="1.0"/>
<circle cx="225.60" cy="499.20" r="2.60" fill="#fff" stroke="#E5505A" stroke-width="1.0"/>
<circle cx="228.60" cy="499.20" r="2.60" fill="#fff" stroke="#E5505A" stroke-width="1.0"/>
<circle cx="231.60" cy="499.20" r="2.60" fill="#fff" stroke="#E5505A" stroke-width="1.0"/>
<circle cx="234.60" cy="499.20" r="2.60" fill="#fff" stroke="#E5505A" stroke-width="1.0"/>
<circle cx="237.60" cy="499.20" r="2.60" fill="#fff" stroke="#E5505A" stroke-width="1.0"/>
<circle cx="240.60" cy="499.20" r="2.60" fill="#fff" stroke="#E5505A" stroke-width="1.0"/>
<circle cx="243.60" cy="499.20" r="2.60" fill="#fff" stroke="#E5505A" stroke-width="1.0"/>
<circle cx="246.60" cy="499.20" r="2.60" fill="#fff" stroke="#E5505A" stroke-width="1.0"/>
<circle cx="249.60" cy="499.20" r="2.60" fill="#fff" stroke="#E5505A" stroke-width="1.0"/>
<circle cx="252.60" cy="499.20" r="2.60" fill="#fff" stroke="#E5505A" stroke-width="1.0"/>
<circle cx="255.60" cy="499.20" r="2.60" fill="#fff" stroke="#E5505A" stroke-width="1.0"/>
<circle cx="258.60" cy="499.20" r="2.60" fill="#fff" stroke="#E5505A" stroke-width="1.0"/>
<circle cx="261.60" cy="499.20" r="2.60" fill="#fff" stroke="#E5505A" stroke-width="1.0"/>
<circle cx="264.60" cy="499.20" r="2.60" fill="#fff" stroke="#E5505A" stroke-width="1.0"/>
<circle cx="267.60" cy="499.20" r="2.60" fill="#fff" stroke="#E5505A" stroke-width="1.0"/>
<circle cx="270.52" cy="498.90" r="2.60" fill="#fff" stroke="#E5505A" stroke-width="1.0"/>
<circle cx="273.12" cy="497.40" r="2.60" fill="#fff" stroke="#E5505A" stroke-width="1.0"/>
<circle cx="275.72" cy="495.90" r="2.60" fill="#fff" stroke="#E5505A" stroke-width="1.0"/>
<circle cx="277.41" cy="493.46" r="2.60" fill="#fff" stroke="#E5505A" stroke-width="1.0"/>
<circle cx="279.03" cy="490.93" r="2.60" fill="#fff" stroke="#E5505A" stroke-width="1.0"/>
<circle cx="280.02" cy="488.10" r="2.60" fill="#fff" stroke="#E5505A" stroke-width="1.0"/>
<circle cx="281.01" cy="485.26" r="2.60" fill="#fff" stroke="#E5505A" stroke-width="1.0"/>
<ellipse cx="178.00" cy="395.7" rx="111.00" ry="6.0" fill="#E850B8" opacity="0.35"/>
<ellipse cx="177.75" cy="499.2" rx="110.75" ry="6.0" fill="#E850B8" opacity="0.5"/>
<line x1="58.0" y1="314.4" x2="87.0" y2="314.4" stroke="#404040" stroke-width="1.8" />
<path d="M72.50,310.06 L76.84,314.40 L72.50,318.74 L68.16,314.40Z" fill="#404040" stroke="#404040" stroke-width="0.6"/>
<text x="90.0" y="318.29999999999995" font-size="11.3" text-anchor="start" fill="#000" font-weight="bold" stroke="#000" stroke-width="0.22" textLength="36.8" lengthAdjust="spacingAndGlyphs" ><tspan>H-LTA-3</tspan></text>
<line x1="58.0" y1="328.5" x2="87.0" y2="328.5" stroke="#5AAEE0" stroke-width="1.8" />
<rect x="69.75" y="325.75" width="5.50" height="5.50" fill="#5AAEE0" stroke="#5AAEE0" stroke-width="0.6"/>
<text x="90.0" y="332.4" font-size="11.3" text-anchor="start" fill="#000" font-weight="bold" stroke="#000" stroke-width="0.22" textLength="42.7" lengthAdjust="spacingAndGlyphs" ><tspan>Na-LTA-3</tspan></text>
<line x1="58.0" y1="342.59999999999997" x2="87.0" y2="342.59999999999997" stroke="#E5505A" stroke-width="1.8" />
<circle cx="72.50" cy="342.60" r="3.20" fill="#E5505A" stroke="#E5505A" stroke-width="0.6"/>
<text x="90.0" y="346.49999999999994" font-size="11.3" text-anchor="start" fill="#000" font-weight="bold" stroke="#000" stroke-width="0.22" textLength="42.1" lengthAdjust="spacingAndGlyphs" ><tspan>Ca-LTA-3</tspan></text>
<line x1="58.0" y1="356.7" x2="87.0" y2="356.7" stroke="#F0A040" stroke-width="1.8" />
<path d="M72.50,353.16 L76.15,359.49 L68.85,359.49Z" fill="#F0A040" stroke="#F0A040" stroke-width="0.6"/>
<text x="90.0" y="360.59999999999997" font-size="11.3" text-anchor="start" fill="#000" font-weight="bold" stroke="#000" stroke-width="0.22" textLength="45.8" lengthAdjust="spacingAndGlyphs" ><tspan>Mn-LTA-3</tspan></text>
<line x1="58.0" y1="370.79999999999995" x2="87.0" y2="370.79999999999995" stroke="#9E6FD0" stroke-width="1.8" />
<path d="M72.50,366.97 L76.14,369.62 L74.75,373.90 L70.25,373.90 L68.86,369.62Z" fill="#9E6FD0" stroke="#9E6FD0" stroke-width="0.6"/>
<text x="90.0" y="374.69999999999993" font-size="11.3" text-anchor="start" fill="#000" font-weight="bold" stroke="#000" stroke-width="0.22" textLength="40.4" lengthAdjust="spacingAndGlyphs" ><tspan>Ni-LTA-3</tspan></text>
<line x1="58.0" y1="384.9" x2="87.0" y2="384.9" stroke="#D08050" stroke-width="1.8" />
<path d="M72.50,380.14 L73.76,383.17 L77.03,383.43 L74.54,385.56 L75.30,388.75 L72.50,387.04 L69.70,388.75 L70.46,385.56 L67.97,383.43 L71.24,383.17Z" fill="#D08050" stroke="#D08050" stroke-width="0.6"/>
<text x="90.0" y="388.79999999999995" font-size="11.3" text-anchor="start" fill="#000" font-weight="bold" stroke="#000" stroke-width="0.22" textLength="40.4" lengthAdjust="spacingAndGlyphs" ><tspan>La-LTA-3</tspan></text>
<line x1="58.0" y1="417.6" x2="87.0" y2="417.6" stroke="#404040" stroke-width="1.8" />
<path d="M72.50,413.48 L76.62,417.60 L72.50,421.72 L68.38,417.60Z" fill="#fff" stroke="#404040" stroke-width="1.1"/>
<text x="90.0" y="421.5" font-size="11.3" text-anchor="start" fill="#000" font-weight="bold" stroke="#000" stroke-width="0.22" textLength="36.8" lengthAdjust="spacingAndGlyphs" ><tspan>H-LTA-3</tspan></text>
<line x1="58.0" y1="431.86" x2="87.0" y2="431.86" stroke="#5AAEE0" stroke-width="1.8" />
<rect x="69.89" y="429.25" width="5.22" height="5.22" fill="#fff" stroke="#5AAEE0" stroke-width="1.1"/>
<text x="90.0" y="435.76" font-size="11.3" text-anchor="start" fill="#000" font-weight="bold" stroke="#000" stroke-width="0.22" textLength="42.7" lengthAdjust="spacingAndGlyphs" ><tspan>Na-LTA-3</tspan></text>
<line x1="58.0" y1="446.12" x2="87.0" y2="446.12" stroke="#E5505A" stroke-width="1.8" />
<circle cx="72.50" cy="446.12" r="3.04" fill="#fff" stroke="#E5505A" stroke-width="1.1"/>
<text x="90.0" y="450.02" font-size="11.3" text-anchor="start" fill="#000" font-weight="bold" stroke="#000" stroke-width="0.22" textLength="42.1" lengthAdjust="spacingAndGlyphs" ><tspan>Ca-LTA-3</tspan></text>
<line x1="58.0" y1="460.38" x2="87.0" y2="460.38" stroke="#F0A040" stroke-width="1.8" />
<path d="M72.50,457.02 L75.97,463.03 L69.03,463.03Z" fill="#fff" stroke="#F0A040" stroke-width="1.1"/>
<text x="90.0" y="464.28" font-size="11.3" text-anchor="start" fill="#000" font-weight="bold" stroke="#000" stroke-width="0.22" textLength="45.8" lengthAdjust="spacingAndGlyphs" ><tspan>Mn-LTA-3</tspan></text>
<line x1="58.0" y1="474.64000000000004" x2="87.0" y2="474.64000000000004" stroke="#9E6FD0" stroke-width="1.8" />
<path d="M72.50,471.00 L75.96,473.52 L74.64,477.58 L70.36,477.58 L69.04,473.52Z" fill="#fff" stroke="#9E6FD0" stroke-width="1.1"/>
<text x="90.0" y="478.54" font-size="11.3" text-anchor="start" fill="#000" font-weight="bold" stroke="#000" stroke-width="0.22" textLength="40.4" lengthAdjust="spacingAndGlyphs" ><tspan>Ni-LTA-3</tspan></text>
<line x1="58.0" y1="488.90000000000003" x2="87.0" y2="488.90000000000003" stroke="#D08050" stroke-width="1.8" />
<path d="M72.50,484.38 L73.70,487.25 L76.80,487.50 L74.44,489.53 L75.16,492.56 L72.50,490.93 L69.84,492.56 L70.56,489.53 L68.20,487.50 L71.30,487.25Z" fill="#fff" stroke="#D08050" stroke-width="1.1"/>
<text x="90.0" y="492.8" font-size="11.3" text-anchor="start" fill="#000" font-weight="bold" stroke="#000" stroke-width="0.22" textLength="40.4" lengthAdjust="spacingAndGlyphs" ><tspan>La-LTA-3</tspan></text>
<text x="301.3" y="319.2" font-size="11.3" text-anchor="end" fill="#000" font-weight="bold" stroke="#000" stroke-width="0.22" textLength="66" lengthAdjust="spacingAndGlyphs" ><tspan>NO</tspan><tspan dy="3.16" font-size="7.35">2</tspan><tspan dy="-3.16">/Air ads.</tspan></text>
<text x="303.3" y="336.9" font-size="11.3" text-anchor="end" fill="#000" font-weight="bold" stroke="#000" stroke-width="0.22" textLength="127" lengthAdjust="spacingAndGlyphs" ><tspan>NO</tspan><tspan dy="3.16" font-size="7.35">2</tspan><tspan dy="-3.16"> breakthrough curve</tspan></text>
<text x="303.3" y="422.0" font-size="11.3" text-anchor="end" fill="#000" font-weight="bold" stroke="#000" stroke-width="0.22" textLength="89.6" lengthAdjust="spacingAndGlyphs" ><tspan>NO release curve</tspan></text>
<line x1="189.2" y1="406.5" x2="189.2" y2="420" stroke="#E8248A" stroke-width="1.9" />
<path d="M185.3,417 L189.2,428 L193.1,417 Z" fill="#E8248A"/>
<line x1="189.2" y1="475" x2="189.2" y2="491" stroke="#E8248A" stroke-width="1.9" />
<path d="M185.3,476 L189.2,464.4 L193.1,476 Z" fill="#E8248A"/>
<text x="187.5" y="441.4" font-size="11.3" text-anchor="middle" fill="#E8248A" font-weight="bold" stroke="#E8248A" stroke-width="0.22" textLength="85" lengthAdjust="spacingAndGlyphs" ><tspan>“Zero-emission"</tspan></text>
<text x="188.5" y="457.2" font-size="11.3" text-anchor="middle" fill="#E8248A" font-weight="bold" stroke="#E8248A" stroke-width="0.22" textLength="67" lengthAdjust="spacingAndGlyphs" ><tspan>NO</tspan><tspan dy="3.16" font-size="7.35">2</tspan><tspan dy="-3.16"> capture</tspan></text>
<text x="181.4" y="545.6" font-size="13.8" text-anchor="middle" fill="#000" font-weight="bold" stroke="#000" stroke-width="0.22" textLength="82.8" lengthAdjust="spacingAndGlyphs" ><tspan>Time (min g</tspan><tspan dy="-5.24" font-size="8.97">-1</tspan><tspan dy="5.24">)</tspan></text>
<text transform="translate(26.0,489.8) rotate(-90)" font-size="13.8" text-anchor="start" fill="#000" font-weight="bold" stroke="#000" stroke-width="0.22" textLength="168.5" lengthAdjust="spacingAndGlyphs" ><tspan>Concentration of NO</tspan><tspan dy="3.86" font-size="8.97">x</tspan><tspan dy="-3.86"> (ppm)</tspan></text>
<text transform="translate(379.5,292.7) scale(0.98,1)" font-size="30.5" font-weight="bold" fill="#000">d</text>
<rect x="431.05" y="393.85" width="5.50" height="5.50" fill="#5AAEE0" stroke="#5AAEE0" stroke-width="0.6"/>
<rect x="434.25" y="393.85" width="5.50" height="5.50" fill="#5AAEE0" stroke="#5AAEE0" stroke-width="0.6"/>
<rect x="437.45" y="393.85" width="5.50" height="5.50" fill="#5AAEE0" stroke="#5AAEE0" stroke-width="0.6"/>
<rect x="440.65" y="393.85" width="5.50" height="5.50" fill="#5AAEE0" stroke="#5AAEE0" stroke-width="0.6"/>
<rect x="443.85" y="393.85" width="5.50" height="5.50" fill="#5AAEE0" stroke="#5AAEE0" stroke-width="0.6"/>
<rect x="447.05" y="393.85" width="5.50" height="5.50" fill="#5AAEE0" stroke="#5AAEE0" stroke-width="0.6"/>
<rect x="450.25" y="393.85" width="5.50" height="5.50" fill="#5AAEE0" stroke="#5AAEE0" stroke-width="0.6"/>
<rect x="453.45" y="393.85" width="5.50" height="5.50" fill="#5AAEE0" stroke="#5AAEE0" stroke-width="0.6"/>
<rect x="456.65" y="393.85" width="5.50" height="5.50" fill="#5AAEE0" stroke="#5AAEE0" stroke-width="0.6"/>
<rect x="459.85" y="393.85" width="5.50" height="5.50" fill="#5AAEE0" stroke="#5AAEE0" stroke-width="0.6"/>
<rect x="463.05" y="393.85" width="5.50" height="5.50" fill="#5AAEE0" stroke="#5AAEE0" stroke-width="0.6"/>
<rect x="466.25" y="393.85" width="5.50" height="5.50" fill="#5AAEE0" stroke="#5AAEE0" stroke-width="0.6"/>
<rect x="469.45" y="393.85" width="5.50" height="5.50" fill="#5AAEE0" stroke="#5AAEE0" stroke-width="0.6"/>
<rect x="472.65" y="393.85" width="5.50" height="5.50" fill="#5AAEE0" stroke="#5AAEE0" stroke-width="0.6"/>
<rect x="475.85" y="393.85" width="5.50" height="5.50" fill="#5AAEE0" stroke="#5AAEE0" stroke-width="0.6"/>
<rect x="479.05" y="393.85" width="5.50" height="5.50" fill="#5AAEE0" stroke="#5AAEE0" stroke-width="0.6"/>
<rect x="482.25" y="393.85" width="5.50" height="5.50" fill="#5AAEE0" stroke="#5AAEE0" stroke-width="0.6"/>
<rect x="485.45" y="393.85" width="5.50" height="5.50" fill="#5AAEE0" stroke="#5AAEE0" stroke-width="0.6"/>
<rect x="488.65" y="393.85" width="5.50" height="5.50" fill="#5AAEE0" stroke="#5AAEE0" stroke-width="0.6"/>
<rect x="491.85" y="393.85" width="5.50" height="5.50" fill="#5AAEE0" stroke="#5AAEE0" stroke-width="0.6"/>
<rect x="495.05" y="393.85" width="5.50" height="5.50" fill="#5AAEE0" stroke="#5AAEE0" stroke-width="0.6"/>
<rect x="498.25" y="393.85" width="5.50" height="5.50" fill="#5AAEE0" stroke="#5AAEE0" stroke-width="0.6"/>
<rect x="501.45" y="393.85" width="5.50" height="5.50" fill="#5AAEE0" stroke="#5AAEE0" stroke-width="0.6"/>
<rect x="504.65" y="393.85" width="5.50" height="5.50" fill="#5AAEE0" stroke="#5AAEE0" stroke-width="0.6"/>
<rect x="507.85" y="393.85" width="5.50" height="5.50" fill="#5AAEE0" stroke="#5AAEE0" stroke-width="0.6"/>
<rect x="511.05" y="393.85" width="5.50" height="5.50" fill="#5AAEE0" stroke="#5AAEE0" stroke-width="0.6"/>
<rect x="514.25" y="393.85" width="5.50" height="5.50" fill="#5AAEE0" stroke="#5AAEE0" stroke-width="0.6"/>
<rect x="517.45" y="393.85" width="5.50" height="5.50" fill="#5AAEE0" stroke="#5AAEE0" stroke-width="0.6"/>
<rect x="520.65" y="393.85" width="5.50" height="5.50" fill="#5AAEE0" stroke="#5AAEE0" stroke-width="0.6"/>
<rect x="523.85" y="393.85" width="5.50" height="5.50" fill="#5AAEE0" stroke="#5AAEE0" stroke-width="0.6"/>
<rect x="527.05" y="393.85" width="5.50" height="5.50" fill="#5AAEE0" stroke="#5AAEE0" stroke-width="0.6"/>
<rect x="530.25" y="393.85" width="5.50" height="5.50" fill="#5AAEE0" stroke="#5AAEE0" stroke-width="0.6"/>
<rect x="533.45" y="393.85" width="5.50" height="5.50" fill="#5AAEE0" stroke="#5AAEE0" stroke-width="0.6"/>
<rect x="536.65" y="393.85" width="5.50" height="5.50" fill="#5AAEE0" stroke="#5AAEE0" stroke-width="0.6"/>
<rect x="539.85" y="393.85" width="5.50" height="5.50" fill="#5AAEE0" stroke="#5AAEE0" stroke-width="0.6"/>
<rect x="543.05" y="393.85" width="5.50" height="5.50" fill="#5AAEE0" stroke="#5AAEE0" stroke-width="0.6"/>
<rect x="546.25" y="393.85" width="5.50" height="5.50" fill="#5AAEE0" stroke="#5AAEE0" stroke-width="0.6"/>
<rect x="549.45" y="393.85" width="5.50" height="5.50" fill="#5AAEE0" stroke="#5AAEE0" stroke-width="0.6"/>
<rect x="552.65" y="393.85" width="5.50" height="5.50" fill="#5AAEE0" stroke="#5AAEE0" stroke-width="0.6"/>
<rect x="555.85" y="393.85" width="5.50" height="5.50" fill="#5AAEE0" stroke="#5AAEE0" stroke-width="0.6"/>
<rect x="559.05" y="393.85" width="5.50" height="5.50" fill="#5AAEE0" stroke="#5AAEE0" stroke-width="0.6"/>
<rect x="562.25" y="393.85" width="5.50" height="5.50" fill="#5AAEE0" stroke="#5AAEE0" stroke-width="0.6"/>
<rect x="565.45" y="393.85" width="5.50" height="5.50" fill="#5AAEE0" stroke="#5AAEE0" stroke-width="0.6"/>
<rect x="568.65" y="393.85" width="5.50" height="5.50" fill="#5AAEE0" stroke="#5AAEE0" stroke-width="0.6"/>
<rect x="571.85" y="393.85" width="5.50" height="5.50" fill="#5AAEE0" stroke="#5AAEE0" stroke-width="0.6"/>
<rect x="575.05" y="393.85" width="5.50" height="5.50" fill="#5AAEE0" stroke="#5AAEE0" stroke-width="0.6"/>
<rect x="578.25" y="393.85" width="5.50" height="5.50" fill="#5AAEE0" stroke="#5AAEE0" stroke-width="0.6"/>
<rect x="581.45" y="393.85" width="5.50" height="5.50" fill="#5AAEE0" stroke="#5AAEE0" stroke-width="0.6"/>
<rect x="584.65" y="393.85" width="5.50" height="5.50" fill="#5AAEE0" stroke="#5AAEE0" stroke-width="0.6"/>
<rect x="587.85" y="393.85" width="5.50" height="5.50" fill="#5AAEE0" stroke="#5AAEE0" stroke-width="0.6"/>
<rect x="591.05" y="393.85" width="5.50" height="5.50" fill="#5AAEE0" stroke="#5AAEE0" stroke-width="0.6"/>
<rect x="594.25" y="393.85" width="5.50" height="5.50" fill="#5AAEE0" stroke="#5AAEE0" stroke-width="0.6"/>
<rect x="597.45" y="393.85" width="5.50" height="5.50" fill="#5AAEE0" stroke="#5AAEE0" stroke-width="0.6"/>
<rect x="600.65" y="393.85" width="5.50" height="5.50" fill="#5AAEE0" stroke="#5AAEE0" stroke-width="0.6"/>
<rect x="603.85" y="393.85" width="5.50" height="5.50" fill="#5AAEE0" stroke="#5AAEE0" stroke-width="0.6"/>
<path d="M609.30,396.60 L614.30,395.30 L620.50,391.60 L625.40,386.70 L629.60,380.50 L632.90,371.30 L635.30,356.90 L637.80,344.00 L640.30,334.60 L643.30,327.10" fill="none" stroke="#5AAEE0" stroke-width="1.3" />
<rect x="606.55" y="393.85" width="5.50" height="5.50" fill="#5AAEE0" stroke="#5AAEE0" stroke-width="0.6"/>
<rect x="611.55" y="392.55" width="5.50" height="5.50" fill="#5AAEE0" stroke="#5AAEE0" stroke-width="0.6"/>
<rect x="617.75" y="388.85" width="5.50" height="5.50" fill="#5AAEE0" stroke="#5AAEE0" stroke-width="0.6"/>
<rect x="622.65" y="383.95" width="5.50" height="5.50" fill="#5AAEE0" stroke="#5AAEE0" stroke-width="0.6"/>
<rect x="626.85" y="377.75" width="5.50" height="5.50" fill="#5AAEE0" stroke="#5AAEE0" stroke-width="0.6"/>
<rect x="630.15" y="368.55" width="5.50" height="5.50" fill="#5AAEE0" stroke="#5AAEE0" stroke-width="0.6"/>
<rect x="632.55" y="354.15" width="5.50" height="5.50" fill="#5AAEE0" stroke="#5AAEE0" stroke-width="0.6"/>
<rect x="635.05" y="341.25" width="5.50" height="5.50" fill="#5AAEE0" stroke="#5AAEE0" stroke-width="0.6"/>
<rect x="637.55" y="331.85" width="5.50" height="5.50" fill="#5AAEE0" stroke="#5AAEE0" stroke-width="0.6"/>
<rect x="640.55" y="324.35" width="5.50" height="5.50" fill="#5AAEE0" stroke="#5AAEE0" stroke-width="0.6"/>
<path d="M433.80,391.22 L437.29,397.26 L430.31,397.26Z" fill="#F0A040" stroke="#F0A040" stroke-width="0.6"/>
<path d="M437.00,391.22 L440.49,397.26 L433.51,397.26Z" fill="#F0A040" stroke="#F0A040" stroke-width="0.6"/>
<path d="M440.20,391.22 L443.69,397.26 L436.71,397.26Z" fill="#F0A040" stroke="#F0A040" stroke-width="0.6"/>
<path d="M443.40,391.22 L446.89,397.26 L439.91,397.26Z" fill="#F0A040" stroke="#F0A040" stroke-width="0.6"/>
<path d="M446.60,391.22 L450.09,397.26 L443.11,397.26Z" fill="#F0A040" stroke="#F0A040" stroke-width="0.6"/>
<path d="M449.80,391.22 L453.29,397.26 L446.31,397.26Z" fill="#F0A040" stroke="#F0A040" stroke-width="0.6"/>
<path d="M453.00,391.22 L456.49,397.26 L449.51,397.26Z" fill="#F0A040" stroke="#F0A040" stroke-width="0.6"/>
<path d="M456.20,391.22 L459.69,397.26 L452.71,397.26Z" fill="#F0A040" stroke="#F0A040" stroke-width="0.6"/>
<path d="M459.40,391.22 L462.89,397.26 L455.91,397.26Z" fill="#F0A040" stroke="#F0A040" stroke-width="0.6"/>
<path d="M462.60,391.22 L466.09,397.26 L459.11,397.26Z" fill="#F0A040" stroke="#F0A040" stroke-width="0.6"/>
<path d="M465.80,391.22 L469.29,397.26 L462.31,397.26Z" fill="#F0A040" stroke="#F0A040" stroke-width="0.6"/>
<path d="M469.00,391.22 L472.49,397.26 L465.51,397.26Z" fill="#F0A040" stroke="#F0A040" stroke-width="0.6"/>
<path d="M472.20,391.22 L475.69,397.26 L468.71,397.26Z" fill="#F0A040" stroke="#F0A040" stroke-width="0.6"/>
<path d="M475.40,391.22 L478.89,397.26 L471.91,397.26Z" fill="#F0A040" stroke="#F0A040" stroke-width="0.6"/>
<path d="M478.60,391.22 L482.09,397.26 L475.11,397.26Z" fill="#F0A040" stroke="#F0A040" stroke-width="0.6"/>
<path d="M481.80,391.22 L485.29,397.26 L478.31,397.26Z" fill="#F0A040" stroke="#F0A040" stroke-width="0.6"/>
<path d="M485.00,391.22 L488.49,397.26 L481.51,397.26Z" fill="#F0A040" stroke="#F0A040" stroke-width="0.6"/>
<path d="M488.20,391.22 L491.69,397.26 L484.71,397.26Z" fill="#F0A040" stroke="#F0A040" stroke-width="0.6"/>
<path d="M491.40,391.22 L494.89,397.26 L487.91,397.26Z" fill="#F0A040" stroke="#F0A040" stroke-width="0.6"/>
<path d="M494.60,391.22 L498.09,397.26 L491.11,397.26Z" fill="#F0A040" stroke="#F0A040" stroke-width="0.6"/>
<path d="M497.80,391.22 L501.29,397.26 L494.31,397.26Z" fill="#F0A040" stroke="#F0A040" stroke-width="0.6"/>
<path d="M501.00,391.22 L504.49,397.26 L497.51,397.26Z" fill="#F0A040" stroke="#F0A040" stroke-width="0.6"/>
<path d="M504.20,391.22 L507.69,397.26 L500.71,397.26Z" fill="#F0A040" stroke="#F0A040" stroke-width="0.6"/>
<path d="M507.40,391.22 L510.89,397.26 L503.91,397.26Z" fill="#F0A040" stroke="#F0A040" stroke-width="0.6"/>
<path d="M510.60,391.22 L514.09,397.26 L507.11,397.26Z" fill="#F0A040" stroke="#F0A040" stroke-width="0.6"/>
<path d="M513.80,391.22 L517.29,397.26 L510.31,397.26Z" fill="#F0A040" stroke="#F0A040" stroke-width="0.6"/>
<path d="M517.00,391.22 L520.49,397.26 L513.51,397.26Z" fill="#F0A040" stroke="#F0A040" stroke-width="0.6"/>
<path d="M520.20,391.22 L523.69,397.26 L516.71,397.26Z" fill="#F0A040" stroke="#F0A040" stroke-width="0.6"/>
<path d="M523.40,391.22 L526.89,397.26 L519.91,397.26Z" fill="#F0A040" stroke="#F0A040" stroke-width="0.6"/>
<path d="M526.60,391.22 L530.09,397.26 L523.11,397.26Z" fill="#F0A040" stroke="#F0A040" stroke-width="0.6"/>
<path d="M529.80,391.22 L533.29,397.26 L526.31,397.26Z" fill="#F0A040" stroke="#F0A040" stroke-width="0.6"/>
<path d="M533.00,391.22 L536.49,397.26 L529.51,397.26Z" fill="#F0A040" stroke="#F0A040" stroke-width="0.6"/>
<path d="M536.20,391.22 L539.69,397.26 L532.71,397.26Z" fill="#F0A040" stroke="#F0A040" stroke-width="0.6"/>
<path d="M539.40,391.22 L542.89,397.26 L535.91,397.26Z" fill="#F0A040" stroke="#F0A040" stroke-width="0.6"/>
<path d="M542.60,391.22 L546.09,397.26 L539.11,397.26Z" fill="#F0A040" stroke="#F0A040" stroke-width="0.6"/>
<path d="M545.80,391.22 L549.29,397.26 L542.31,397.26Z" fill="#F0A040" stroke="#F0A040" stroke-width="0.6"/>
<path d="M549.00,391.22 L552.49,397.26 L545.51,397.26Z" fill="#F0A040" stroke="#F0A040" stroke-width="0.6"/>
<path d="M552.20,391.22 L555.69,397.26 L548.71,397.26Z" fill="#F0A040" stroke="#F0A040" stroke-width="0.6"/>
<path d="M555.00,394.60 L562.10,394.10 L569.60,391.10 L575.80,385.40 L580.00,378.00 L584.00,370.50 L587.00,361.80 L590.70,353.20 L594.90,344.50 L598.90,335.80 L601.80,326.60" fill="none" stroke="#F0A040" stroke-width="1.3" />
<path d="M555.00,390.96 L558.76,397.47 L551.24,397.47Z" fill="#F0A040" stroke="#F0A040" stroke-width="0.6"/>
<path d="M562.10,390.46 L565.86,396.97 L558.34,396.97Z" fill="#F0A040" stroke="#F0A040" stroke-width="0.6"/>
<path d="M569.60,387.46 L573.36,393.97 L565.84,393.97Z" fill="#F0A040" stroke="#F0A040" stroke-width="0.6"/>
<path d="M575.80,381.76 L579.56,388.27 L572.04,388.27Z" fill="#F0A040" stroke="#F0A040" stroke-width="0.6"/>
<path d="M580.00,374.36 L583.76,380.87 L576.24,380.87Z" fill="#F0A040" stroke="#F0A040" stroke-width="0.6"/>
<path d="M584.00,366.86 L587.76,373.37 L580.24,373.37Z" fill="#F0A040" stroke="#F0A040" stroke-width="0.6"/>
<path d="M587.00,358.16 L590.76,364.67 L583.24,364.67Z" fill="#F0A040" stroke="#F0A040" stroke-width="0.6"/>
<path d="M590.70,349.56 L594.46,356.07 L586.94,356.07Z" fill="#F0A040" stroke="#F0A040" stroke-width="0.6"/>
<path d="M594.90,340.86 L598.66,347.37 L591.14,347.37Z" fill="#F0A040" stroke="#F0A040" stroke-width="0.6"/>
<path d="M598.90,332.16 L602.66,338.67 L595.14,338.67Z" fill="#F0A040" stroke="#F0A040" stroke-width="0.6"/>
<path d="M601.80,322.96 L605.56,329.47 L598.04,329.47Z" fill="#F0A040" stroke="#F0A040" stroke-width="0.6"/>
<circle cx="433.80" cy="396.80" r="3.25" fill="#E5505A" stroke="#E5505A" stroke-width="0.6"/>
<circle cx="437.00" cy="396.79" r="3.25" fill="#E5505A" stroke="#E5505A" stroke-width="0.6"/>
<circle cx="440.20" cy="396.78" r="3.25" fill="#E5505A" stroke="#E5505A" stroke-width="0.6"/>
<circle cx="443.40" cy="396.78" r="3.25" fill="#E5505A" stroke="#E5505A" stroke-width="0.6"/>
<circle cx="446.60" cy="396.77" r="3.25" fill="#E5505A" stroke="#E5505A" stroke-width="0.6"/>
<circle cx="449.80" cy="396.76" r="3.25" fill="#E5505A" stroke="#E5505A" stroke-width="0.6"/>
<circle cx="453.00" cy="396.75" r="3.25" fill="#E5505A" stroke="#E5505A" stroke-width="0.6"/>
<circle cx="456.20" cy="396.75" r="3.25" fill="#E5505A" stroke="#E5505A" stroke-width="0.6"/>
<circle cx="459.40" cy="396.74" r="3.25" fill="#E5505A" stroke="#E5505A" stroke-width="0.6"/>
<circle cx="462.60" cy="396.73" r="3.25" fill="#E5505A" stroke="#E5505A" stroke-width="0.6"/>
<circle cx="465.80" cy="396.72" r="3.25" fill="#E5505A" stroke="#E5505A" stroke-width="0.6"/>
<circle cx="469.00" cy="396.72" r="3.25" fill="#E5505A" stroke="#E5505A" stroke-width="0.6"/>
<circle cx="472.20" cy="396.71" r="3.25" fill="#E5505A" stroke="#E5505A" stroke-width="0.6"/>
<circle cx="475.40" cy="396.70" r="3.25" fill="#E5505A" stroke="#E5505A" stroke-width="0.6"/>
<circle cx="478.60" cy="396.69" r="3.25" fill="#E5505A" stroke="#E5505A" stroke-width="0.6"/>
<circle cx="481.80" cy="396.69" r="3.25" fill="#E5505A" stroke="#E5505A" stroke-width="0.6"/>
<circle cx="485.00" cy="396.68" r="3.25" fill="#E5505A" stroke="#E5505A" stroke-width="0.6"/>
<circle cx="488.20" cy="396.67" r="3.25" fill="#E5505A" stroke="#E5505A" stroke-width="0.6"/>
<circle cx="491.40" cy="396.66" r="3.25" fill="#E5505A" stroke="#E5505A" stroke-width="0.6"/>
<circle cx="494.60" cy="396.66" r="3.25" fill="#E5505A" stroke="#E5505A" stroke-width="0.6"/>
<circle cx="497.80" cy="396.65" r="3.25" fill="#E5505A" stroke="#E5505A" stroke-width="0.6"/>
<circle cx="501.00" cy="396.64" r="3.25" fill="#E5505A" stroke="#E5505A" stroke-width="0.6"/>
<circle cx="504.20" cy="396.63" r="3.25" fill="#E5505A" stroke="#E5505A" stroke-width="0.6"/>
<circle cx="507.40" cy="396.63" r="3.25" fill="#E5505A" stroke="#E5505A" stroke-width="0.6"/>
<circle cx="510.60" cy="396.62" r="3.25" fill="#E5505A" stroke="#E5505A" stroke-width="0.6"/>
<circle cx="513.80" cy="396.61" r="3.25" fill="#E5505A" stroke="#E5505A" stroke-width="0.6"/>
<circle cx="517.00" cy="396.60" r="3.25" fill="#E5505A" stroke="#E5505A" stroke-width="0.6"/>
<circle cx="520.20" cy="396.59" r="3.25" fill="#E5505A" stroke="#E5505A" stroke-width="0.6"/>
<circle cx="523.40" cy="396.59" r="3.25" fill="#E5505A" stroke="#E5505A" stroke-width="0.6"/>
<circle cx="526.60" cy="396.58" r="3.25" fill="#E5505A" stroke="#E5505A" stroke-width="0.6"/>
<circle cx="529.80" cy="396.57" r="3.25" fill="#E5505A" stroke="#E5505A" stroke-width="0.6"/>
<circle cx="533.00" cy="396.56" r="3.25" fill="#E5505A" stroke="#E5505A" stroke-width="0.6"/>
<circle cx="536.20" cy="396.56" r="3.25" fill="#E5505A" stroke="#E5505A" stroke-width="0.6"/>
<circle cx="539.40" cy="396.55" r="3.25" fill="#E5505A" stroke="#E5505A" stroke-width="0.6"/>
<circle cx="542.60" cy="396.54" r="3.25" fill="#E5505A" stroke="#E5505A" stroke-width="0.6"/>
<circle cx="545.80" cy="396.53" r="3.25" fill="#E5505A" stroke="#E5505A" stroke-width="0.6"/>
<circle cx="549.00" cy="396.53" r="3.25" fill="#E5505A" stroke="#E5505A" stroke-width="0.6"/>
<circle cx="552.20" cy="396.52" r="3.25" fill="#E5505A" stroke="#E5505A" stroke-width="0.6"/>
<circle cx="555.40" cy="396.51" r="3.25" fill="#E5505A" stroke="#E5505A" stroke-width="0.6"/>
<circle cx="558.60" cy="396.50" r="3.25" fill="#E5505A" stroke="#E5505A" stroke-width="0.6"/>
<path d="M560.00,396.50 L564.60,391.60 L567.90,387.20 L569.60,380.50 L570.60,372.50 L571.60,363.80 L572.60,350.70 L573.80,334.60 L574.60,327.10" fill="none" stroke="#E5505A" stroke-width="1.3" />
<circle cx="560.00" cy="396.50" r="3.25" fill="#E5505A" stroke="#E5505A" stroke-width="0.6"/>
<circle cx="564.60" cy="391.60" r="3.25" fill="#E5505A" stroke="#E5505A" stroke-width="0.6"/>
<circle cx="567.90" cy="387.20" r="3.25" fill="#E5505A" stroke="#E5505A" stroke-width="0.6"/>
<circle cx="569.60" cy="380.50" r="3.25" fill="#E5505A" stroke="#E5505A" stroke-width="0.6"/>
<circle cx="570.60" cy="372.50" r="3.25" fill="#E5505A" stroke="#E5505A" stroke-width="0.6"/>
<circle cx="571.60" cy="363.80" r="3.25" fill="#E5505A" stroke="#E5505A" stroke-width="0.6"/>
<circle cx="572.60" cy="350.70" r="3.25" fill="#E5505A" stroke="#E5505A" stroke-width="0.6"/>
<circle cx="573.80" cy="334.60" r="3.25" fill="#E5505A" stroke="#E5505A" stroke-width="0.6"/>
<circle cx="574.60" cy="327.10" r="3.25" fill="#E5505A" stroke="#E5505A" stroke-width="0.6"/>
<path d="M433.80,501.00 L438.00,485.60 L443.80,480.60 L448.00,477.40 L453.00,475.20 L457.20,475.70 L461.10,477.40 L466.10,479.40 L471.60,480.60 L477.80,481.40 L490.00,482.00 L613.00,481.90 L619.20,478.90 L624.20,474.40 L629.10,470.20 L632.90,466.50 L637.10,461.50 L640.30,457.60 L643.30,453.30" fill="none" stroke="#5AAEE0" stroke-width="1.1" />
<rect x="435.85" y="483.45" width="4.30" height="4.30" fill="#fff" stroke="#5AAEE0" stroke-width="1.0"/>
<rect x="439.64" y="480.19" width="4.30" height="4.30" fill="#fff" stroke="#5AAEE0" stroke-width="1.0"/>
<rect x="443.51" y="477.03" width="4.30" height="4.30" fill="#fff" stroke="#5AAEE0" stroke-width="1.0"/>
<rect x="447.74" y="474.42" width="4.30" height="4.30" fill="#fff" stroke="#5AAEE0" stroke-width="1.0"/>
<rect x="452.44" y="473.24" width="4.30" height="4.30" fill="#fff" stroke="#5AAEE0" stroke-width="1.0"/>
<rect x="457.22" y="474.50" width="4.30" height="4.30" fill="#fff" stroke="#5AAEE0" stroke-width="1.0"/>
<rect x="461.84" y="476.41" width="4.30" height="4.30" fill="#fff" stroke="#5AAEE0" stroke-width="1.0"/>
<rect x="466.62" y="477.83" width="4.30" height="4.30" fill="#fff" stroke="#5AAEE0" stroke-width="1.0"/>
<rect x="471.53" y="478.72" width="4.30" height="4.30" fill="#fff" stroke="#5AAEE0" stroke-width="1.0"/>
<rect x="476.50" y="479.29" width="4.30" height="4.30" fill="#fff" stroke="#5AAEE0" stroke-width="1.0"/>
<rect x="481.49" y="479.54" width="4.30" height="4.30" fill="#fff" stroke="#5AAEE0" stroke-width="1.0"/>
<rect x="486.49" y="479.78" width="4.30" height="4.30" fill="#fff" stroke="#5AAEE0" stroke-width="1.0"/>
<rect x="491.48" y="479.85" width="4.30" height="4.30" fill="#fff" stroke="#5AAEE0" stroke-width="1.0"/>
<rect x="496.48" y="479.84" width="4.30" height="4.30" fill="#fff" stroke="#5AAEE0" stroke-width="1.0"/>
<rect x="501.48" y="479.84" width="4.30" height="4.30" fill="#fff" stroke="#5AAEE0" stroke-width="1.0"/>
<rect x="506.48" y="479.83" width="4.30" height="4.30" fill="#fff" stroke="#5AAEE0" stroke-width="1.0"/>
<rect x="511.48" y="479.83" width="4.30" height="4.30" fill="#fff" stroke="#5AAEE0" stroke-width="1.0"/>
<rect x="516.48" y="479.83" width="4.30" height="4.30" fill="#fff" stroke="#5AAEE0" stroke-width="1.0"/>
<rect x="521.48" y="479.82" width="4.30" height="4.30" fill="#fff" stroke="#5AAEE0" stroke-width="1.0"/>
<rect x="526.48" y="479.82" width="4.30" height="4.30" fill="#fff" stroke="#5AAEE0" stroke-width="1.0"/>
<rect x="531.48" y="479.81" width="4.30" height="4.30" fill="#fff" stroke="#5AAEE0" stroke-width="1.0"/>
<rect x="536.48" y="479.81" width="4.30" height="4.30" fill="#fff" stroke="#5AAEE0" stroke-width="1.0"/>
<rect x="541.48" y="479.81" width="4.30" height="4.30" fill="#fff" stroke="#5AAEE0" stroke-width="1.0"/>
<rect x="546.48" y="479.80" width="4.30" height="4.30" fill="#fff" stroke="#5AAEE0" stroke-width="1.0"/>
<rect x="551.48" y="479.80" width="4.30" height="4.30" fill="#fff" stroke="#5AAEE0" stroke-width="1.0"/>
<rect x="556.48" y="479.79" width="4.30" height="4.30" fill="#fff" stroke="#5AAEE0" stroke-width="1.0"/>
<rect x="561.48" y="479.79" width="4.30" height="4.30" fill="#fff" stroke="#5AAEE0" stroke-width="1.0"/>
<rect x="566.48" y="479.79" width="4.30" height="4.30" fill="#fff" stroke="#5AAEE0" stroke-width="1.0"/>
<rect x="571.48" y="479.78" width="4.30" height="4.30" fill="#fff" stroke="#5AAEE0" stroke-width="1.0"/>
<rect x="576.48" y="479.78" width="4.30" height="4.30" fill="#fff" stroke="#5AAEE0" stroke-width="1.0"/>
<rect x="581.48" y="479.77" width="4.30" height="4.30" fill="#fff" stroke="#5AAEE0" stroke-width="1.0"/>
<rect x="586.48" y="479.77" width="4.30" height="4.30" fill="#fff" stroke="#5AAEE0" stroke-width="1.0"/>
<rect x="591.48" y="479.77" width="4.30" height="4.30" fill="#fff" stroke="#5AAEE0" stroke-width="1.0"/>
<rect x="596.48" y="479.76" width="4.30" height="4.30" fill="#fff" stroke="#5AAEE0" stroke-width="1.0"/>
<rect x="601.48" y="479.76" width="4.30" height="4.30" fill="#fff" stroke="#5AAEE0" stroke-width="1.0"/>
<rect x="606.48" y="479.75" width="4.30" height="4.30" fill="#fff" stroke="#5AAEE0" stroke-width="1.0"/>
<rect x="611.42" y="479.47" width="4.30" height="4.30" fill="#fff" stroke="#5AAEE0" stroke-width="1.0"/>
<rect x="615.92" y="477.30" width="4.30" height="4.30" fill="#fff" stroke="#5AAEE0" stroke-width="1.0"/>
<rect x="619.84" y="474.24" width="4.30" height="4.30" fill="#fff" stroke="#5AAEE0" stroke-width="1.0"/>
<rect x="623.58" y="470.94" width="4.30" height="4.30" fill="#fff" stroke="#5AAEE0" stroke-width="1.0"/>
<rect x="627.36" y="467.65" width="4.30" height="4.30" fill="#fff" stroke="#5AAEE0" stroke-width="1.0"/>
<rect x="630.92" y="464.15" width="4.30" height="4.30" fill="#fff" stroke="#5AAEE0" stroke-width="1.0"/>
<rect x="634.14" y="460.32" width="4.30" height="4.30" fill="#fff" stroke="#5AAEE0" stroke-width="1.0"/>
<rect x="637.32" y="456.46" width="4.30" height="4.30" fill="#fff" stroke="#5AAEE0" stroke-width="1.0"/>
<rect x="640.26" y="452.43" width="4.30" height="4.30" fill="#fff" stroke="#5AAEE0" stroke-width="1.0"/>
<path d="M433.80,500.60 L547.30,500.00 L562.00,494.60 L566.00,491.80 L602.40,460.50" fill="none" stroke="#F0A040" stroke-width="1.1" />
<path d="M433.80,497.48 L437.02,503.06 L430.58,503.06Z" fill="#fff" stroke="#F0A040" stroke-width="1.0"/>
<path d="M437.40,497.46 L440.62,503.04 L434.18,503.04Z" fill="#fff" stroke="#F0A040" stroke-width="1.0"/>
<path d="M441.00,497.44 L444.22,503.02 L437.78,503.02Z" fill="#fff" stroke="#F0A040" stroke-width="1.0"/>
<path d="M444.60,497.42 L447.82,503.00 L441.38,503.00Z" fill="#fff" stroke="#F0A040" stroke-width="1.0"/>
<path d="M448.20,497.40 L451.42,502.98 L444.98,502.98Z" fill="#fff" stroke="#F0A040" stroke-width="1.0"/>
<path d="M451.80,497.38 L455.02,502.96 L448.58,502.96Z" fill="#fff" stroke="#F0A040" stroke-width="1.0"/>
<path d="M455.40,497.37 L458.62,502.95 L452.18,502.95Z" fill="#fff" stroke="#F0A040" stroke-width="1.0"/>
<path d="M459.00,497.35 L462.22,502.93 L455.78,502.93Z" fill="#fff" stroke="#F0A040" stroke-width="1.0"/>
<path d="M462.60,497.33 L465.82,502.91 L459.38,502.91Z" fill="#fff" stroke="#F0A040" stroke-width="1.0"/>
<path d="M466.20,497.31 L469.42,502.89 L462.98,502.89Z" fill="#fff" stroke="#F0A040" stroke-width="1.0"/>
<path d="M469.80,497.29 L473.02,502.87 L466.58,502.87Z" fill="#fff" stroke="#F0A040" stroke-width="1.0"/>
<path d="M473.40,497.27 L476.62,502.85 L470.18,502.85Z" fill="#fff" stroke="#F0A040" stroke-width="1.0"/>
<path d="M477.00,497.25 L480.22,502.83 L473.78,502.83Z" fill="#fff" stroke="#F0A040" stroke-width="1.0"/>
<path d="M480.60,497.23 L483.82,502.81 L477.38,502.81Z" fill="#fff" stroke="#F0A040" stroke-width="1.0"/>
<path d="M484.20,497.21 L487.42,502.79 L480.98,502.79Z" fill="#fff" stroke="#F0A040" stroke-width="1.0"/>
<path d="M487.80,497.19 L491.02,502.77 L484.58,502.77Z" fill="#fff" stroke="#F0A040" stroke-width="1.0"/>
<path d="M491.40,497.18 L494.62,502.76 L488.18,502.76Z" fill="#fff" stroke="#F0A040" stroke-width="1.0"/>
<path d="M495.00,497.16 L498.22,502.74 L491.78,502.74Z" fill="#fff" stroke="#F0A040" stroke-width="1.0"/>
<path d="M498.60,497.14 L501.82,502.72 L495.38,502.72Z" fill="#fff" stroke="#F0A040" stroke-width="1.0"/>
<path d="M502.20,497.12 L505.42,502.70 L498.98,502.70Z" fill="#fff" stroke="#F0A040" stroke-width="1.0"/>
<path d="M505.80,497.10 L509.02,502.68 L502.58,502.68Z" fill="#fff" stroke="#F0A040" stroke-width="1.0"/>
<path d="M509.40,497.08 L512.62,502.66 L506.18,502.66Z" fill="#fff" stroke="#F0A040" stroke-width="1.0"/>
<path d="M513.00,497.06 L516.22,502.64 L509.78,502.64Z" fill="#fff" stroke="#F0A040" stroke-width="1.0"/>
<path d="M516.60,497.04 L519.82,502.62 L513.38,502.62Z" fill="#fff" stroke="#F0A040" stroke-width="1.0"/>
<path d="M520.20,497.02 L523.42,502.60 L516.98,502.60Z" fill="#fff" stroke="#F0A040" stroke-width="1.0"/>
<path d="M523.80,497.00 L527.02,502.58 L520.58,502.58Z" fill="#fff" stroke="#F0A040" stroke-width="1.0"/>
<path d="M527.40,496.99 L530.62,502.57 L524.18,502.57Z" fill="#fff" stroke="#F0A040" stroke-width="1.0"/>
<path d="M531.00,496.97 L534.22,502.55 L527.78,502.55Z" fill="#fff" stroke="#F0A040" stroke-width="1.0"/>
<path d="M534.60,496.95 L537.82,502.53 L531.38,502.53Z" fill="#fff" stroke="#F0A040" stroke-width="1.0"/>
<path d="M538.20,496.93 L541.42,502.51 L534.98,502.51Z" fill="#fff" stroke="#F0A040" stroke-width="1.0"/>
<path d="M541.80,496.91 L545.02,502.49 L538.58,502.49Z" fill="#fff" stroke="#F0A040" stroke-width="1.0"/>
<path d="M545.40,496.89 L548.62,502.47 L542.18,502.47Z" fill="#fff" stroke="#F0A040" stroke-width="1.0"/>
<path d="M547.30,496.46 L550.95,502.79 L543.65,502.79Z" fill="#fff" stroke="#F0A040" stroke-width="1.0"/>
<path d="M552.56,494.53 L556.21,500.86 L548.91,500.86Z" fill="#fff" stroke="#F0A040" stroke-width="1.0"/>
<path d="M557.81,492.60 L561.46,498.93 L554.16,498.93Z" fill="#fff" stroke="#F0A040" stroke-width="1.0"/>
<path d="M562.93,490.41 L566.58,496.73 L559.28,496.73Z" fill="#fff" stroke="#F0A040" stroke-width="1.0"/>
<path d="M567.41,487.05 L571.06,493.38 L563.76,493.38Z" fill="#fff" stroke="#F0A040" stroke-width="1.0"/>
<path d="M571.65,483.40 L575.31,489.73 L568.00,489.73Z" fill="#fff" stroke="#F0A040" stroke-width="1.0"/>
<path d="M575.90,479.75 L579.55,486.08 L572.25,486.08Z" fill="#fff" stroke="#F0A040" stroke-width="1.0"/>
<path d="M580.15,476.10 L583.80,482.42 L576.50,482.42Z" fill="#fff" stroke="#F0A040" stroke-width="1.0"/>
<path d="M584.39,472.45 L588.04,478.77 L580.74,478.77Z" fill="#fff" stroke="#F0A040" stroke-width="1.0"/>
<path d="M588.64,468.80 L592.29,475.12 L584.99,475.12Z" fill="#fff" stroke="#F0A040" stroke-width="1.0"/>
<path d="M592.88,465.15 L596.54,471.47 L589.23,471.47Z" fill="#fff" stroke="#F0A040" stroke-width="1.0"/>
<path d="M597.13,461.50 L600.78,467.82 L593.48,467.82Z" fill="#fff" stroke="#F0A040" stroke-width="1.0"/>
<path d="M601.38,457.84 L605.03,464.17 L597.73,464.17Z" fill="#fff" stroke="#F0A040" stroke-width="1.0"/>
<path d="M433.80,501.00 L560.40,500.60 L565.00,489.70 L569.70,475.70 L575.00,462.90" fill="none" stroke="#E5505A" stroke-width="1.1" />
<circle cx="433.80" cy="501.00" r="2.50" fill="#fff" stroke="#E5505A" stroke-width="1.0"/>
<circle cx="437.20" cy="500.99" r="2.50" fill="#fff" stroke="#E5505A" stroke-width="1.0"/>
<circle cx="440.60" cy="500.98" r="2.50" fill="#fff" stroke="#E5505A" stroke-width="1.0"/>
<circle cx="444.00" cy="500.97" r="2.50" fill="#fff" stroke="#E5505A" stroke-width="1.0"/>
<circle cx="447.40" cy="500.96" r="2.50" fill="#fff" stroke="#E5505A" stroke-width="1.0"/>
<circle cx="450.80" cy="500.95" r="2.50" fill="#fff" stroke="#E5505A" stroke-width="1.0"/>
<circle cx="454.20" cy="500.94" r="2.50" fill="#fff" stroke="#E5505A" stroke-width="1.0"/>
<circle cx="457.60" cy="500.92" r="2.50" fill="#fff" stroke="#E5505A" stroke-width="1.0"/>
<circle cx="461.00" cy="500.91" r="2.50" fill="#fff" stroke="#E5505A" stroke-width="1.0"/>
<circle cx="464.40" cy="500.90" r="2.50" fill="#fff" stroke="#E5505A" stroke-width="1.0"/>
<circle cx="467.80" cy="500.89" r="2.50" fill="#fff" stroke="#E5505A" stroke-width="1.0"/>
<circle cx="471.20" cy="500.88" r="2.50" fill="#fff" stroke="#E5505A" stroke-width="1.0"/>
<circle cx="474.60" cy="500.87" r="2.50" fill="#fff" stroke="#E5505A" stroke-width="1.0"/>
<circle cx="478.00" cy="500.86" r="2.50" fill="#fff" stroke="#E5505A" stroke-width="1.0"/>
<circle cx="481.40" cy="500.85" r="2.50" fill="#fff" stroke="#E5505A" stroke-width="1.0"/>
<circle cx="484.80" cy="500.84" r="2.50" fill="#fff" stroke="#E5505A" stroke-width="1.0"/>
<circle cx="488.20" cy="500.83" r="2.50" fill="#fff" stroke="#E5505A" stroke-width="1.0"/>
<circle cx="491.60" cy="500.82" r="2.50" fill="#fff" stroke="#E5505A" stroke-width="1.0"/>
<circle cx="495.00" cy="500.81" r="2.50" fill="#fff" stroke="#E5505A" stroke-width="1.0"/>
<circle cx="498.40" cy="500.80" r="2.50" fill="#fff" stroke="#E5505A" stroke-width="1.0"/>
<circle cx="501.80" cy="500.79" r="2.50" fill="#fff" stroke="#E5505A" stroke-width="1.0"/>
<circle cx="505.20" cy="500.77" r="2.50" fill="#fff" stroke="#E5505A" stroke-width="1.0"/>
<circle cx="508.60" cy="500.76" r="2.50" fill="#fff" stroke="#E5505A" stroke-width="1.0"/>
<circle cx="512.00" cy="500.75" r="2.50" fill="#fff" stroke="#E5505A" stroke-width="1.0"/>
<circle cx="515.40" cy="500.74" r="2.50" fill="#fff" stroke="#E5505A" stroke-width="1.0"/>
<circle cx="518.80" cy="500.73" r="2.50" fill="#fff" stroke="#E5505A" stroke-width="1.0"/>
<circle cx="522.20" cy="500.72" r="2.50" fill="#fff" stroke="#E5505A" stroke-width="1.0"/>
<circle cx="525.60" cy="500.71" r="2.50" fill="#fff" stroke="#E5505A" stroke-width="1.0"/>
<circle cx="529.00" cy="500.70" r="2.50" fill="#fff" stroke="#E5505A" stroke-width="1.0"/>
<circle cx="532.40" cy="500.69" r="2.50" fill="#fff" stroke="#E5505A" stroke-width="1.0"/>
<circle cx="535.80" cy="500.68" r="2.50" fill="#fff" stroke="#E5505A" stroke-width="1.0"/>
<circle cx="539.20" cy="500.67" r="2.50" fill="#fff" stroke="#E5505A" stroke-width="1.0"/>
<circle cx="542.60" cy="500.66" r="2.50" fill="#fff" stroke="#E5505A" stroke-width="1.0"/>
<circle cx="546.00" cy="500.65" r="2.50" fill="#fff" stroke="#E5505A" stroke-width="1.0"/>
<circle cx="549.40" cy="500.63" r="2.50" fill="#fff" stroke="#E5505A" stroke-width="1.0"/>
<circle cx="552.80" cy="500.62" r="2.50" fill="#fff" stroke="#E5505A" stroke-width="1.0"/>
<circle cx="556.20" cy="500.61" r="2.50" fill="#fff" stroke="#E5505A" stroke-width="1.0"/>
<circle cx="559.60" cy="500.60" r="2.50" fill="#fff" stroke="#E5505A" stroke-width="1.0"/>
<circle cx="560.40" cy="500.60" r="2.80" fill="#fff" stroke="#E5505A" stroke-width="1.0"/>
<circle cx="561.92" cy="497.01" r="2.80" fill="#fff" stroke="#E5505A" stroke-width="1.0"/>
<circle cx="563.43" cy="493.41" r="2.80" fill="#fff" stroke="#E5505A" stroke-width="1.0"/>
<circle cx="564.95" cy="489.82" r="2.80" fill="#fff" stroke="#E5505A" stroke-width="1.0"/>
<circle cx="566.20" cy="486.13" r="2.80" fill="#fff" stroke="#E5505A" stroke-width="1.0"/>
<circle cx="567.44" cy="482.43" r="2.80" fill="#fff" stroke="#E5505A" stroke-width="1.0"/>
<circle cx="568.68" cy="478.73" r="2.80" fill="#fff" stroke="#E5505A" stroke-width="1.0"/>
<circle cx="569.97" cy="475.05" r="2.80" fill="#fff" stroke="#E5505A" stroke-width="1.0"/>
<circle cx="571.46" cy="471.45" r="2.80" fill="#fff" stroke="#E5505A" stroke-width="1.0"/>
<circle cx="572.95" cy="467.85" r="2.80" fill="#fff" stroke="#E5505A" stroke-width="1.0"/>
<circle cx="574.44" cy="464.24" r="2.80" fill="#fff" stroke="#E5505A" stroke-width="1.0"/>
<ellipse cx="498.50" cy="397.2" rx="73.50" ry="4.2" fill="#E850B8" opacity="0.5"/>
<ellipse cx="496.00" cy="501.2" rx="71.00" ry="4.5" fill="#E850B8" opacity="0.5"/>
<line x1="410" y1="304.2" x2="665.6" y2="304.2" stroke="#000" stroke-width="2" />
<line x1="410" y1="406.5" x2="665.6" y2="406.5" stroke="#000" stroke-width="2" />
<line x1="409" y1="510.0" x2="666.6" y2="510.0" stroke="#000" stroke-width="2" />
<line x1="410" y1="303.2" x2="410" y2="511" stroke="#000" stroke-width="2" />
<line x1="665.6" y1="303.2" x2="665.6" y2="511" stroke="#000" stroke-width="2" />
<line x1="406" y1="397.3" x2="410" y2="397.3" stroke="#000" stroke-width="1.6" />
<text x="403.5" y="400.3" font-size="10.2" text-anchor="end" fill="#000" font-weight="bold" letter-spacing="0.3" ><tspan>0</tspan></text>
<line x1="406" y1="374.0" x2="410" y2="374.0" stroke="#000" stroke-width="1.6" />
<text x="403.5" y="377.0" font-size="10.2" text-anchor="end" fill="#000" font-weight="bold" letter-spacing="0.3" ><tspan>5</tspan></text>
<line x1="406" y1="350.7" x2="410" y2="350.7" stroke="#000" stroke-width="1.6" />
<text x="403.5" y="353.7" font-size="10.2" text-anchor="end" fill="#000" font-weight="bold" letter-spacing="0.3" ><tspan>10</tspan></text>
<line x1="406" y1="327.4" x2="410" y2="327.4" stroke="#000" stroke-width="1.6" />
<text x="403.5" y="330.4" font-size="10.2" text-anchor="end" fill="#000" font-weight="bold" letter-spacing="0.3" ><tspan>15</tspan></text>
<line x1="406" y1="304.1" x2="410" y2="304.1" stroke="#000" stroke-width="1.6" />
<text x="403.5" y="307.1" font-size="10.2" text-anchor="end" fill="#000" font-weight="bold" letter-spacing="0.3" ><tspan>20</tspan></text>
<line x1="407.5" y1="385.65000000000003" x2="410" y2="385.65000000000003" stroke="#000" stroke-width="1.4" />
<line x1="407.5" y1="362.35" x2="410" y2="362.35" stroke="#000" stroke-width="1.4" />
<line x1="407.5" y1="339.05" x2="410" y2="339.05" stroke="#000" stroke-width="1.4" />
<line x1="407.5" y1="315.75" x2="410" y2="315.75" stroke="#000" stroke-width="1.4" />
<line x1="407.5" y1="403.125" x2="410" y2="403.125" stroke="#000" stroke-width="1.4" />
<line x1="406" y1="501.0" x2="410" y2="501.0" stroke="#000" stroke-width="1.6" />
<text x="403.5" y="504.0" font-size="10.2" text-anchor="end" fill="#000" font-weight="bold" letter-spacing="0.3" ><tspan>0</tspan></text>
<line x1="406" y1="484.0" x2="410" y2="484.0" stroke="#000" stroke-width="1.6" />
<text x="403.5" y="487.0" font-size="10.2" text-anchor="end" fill="#000" font-weight="bold" letter-spacing="0.3" ><tspan>4</tspan></text>
<line x1="406" y1="467.0" x2="410" y2="467.0" stroke="#000" stroke-width="1.6" />
<text x="403.5" y="470.0" font-size="10.2" text-anchor="end" fill="#000" font-weight="bold" letter-spacing="0.3" ><tspan>8</tspan></text>
<line x1="406" y1="450.0" x2="410" y2="450.0" stroke="#000" stroke-width="1.6" />
<text x="403.5" y="453.0" font-size="10.2" text-anchor="end" fill="#000" font-weight="bold" letter-spacing="0.3" ><tspan>12</tspan></text>
<line x1="406" y1="433.0" x2="410" y2="433.0" stroke="#000" stroke-width="1.6" />
<text x="403.5" y="436.0" font-size="10.2" text-anchor="end" fill="#000" font-weight="bold" letter-spacing="0.3" ><tspan>16</tspan></text>
<line x1="406" y1="416.0" x2="410" y2="416.0" stroke="#000" stroke-width="1.6" />
<text x="403.5" y="419.0" font-size="10.2" text-anchor="end" fill="#000" font-weight="bold" letter-spacing="0.3" ><tspan>20</tspan></text>
<line x1="407.5" y1="509.5" x2="410" y2="509.5" stroke="#000" stroke-width="1.4" />
<line x1="407.5" y1="492.5" x2="410" y2="492.5" stroke="#000" stroke-width="1.4" />
<line x1="407.5" y1="475.5" x2="410" y2="475.5" stroke="#000" stroke-width="1.4" />
<line x1="407.5" y1="458.5" x2="410" y2="458.5" stroke="#000" stroke-width="1.4" />
<line x1="407.5" y1="441.5" x2="410" y2="441.5" stroke="#000" stroke-width="1.4" />
<line x1="407.5" y1="424.5" x2="410" y2="424.5" stroke="#000" stroke-width="1.4" />
<line x1="433.8" y1="510" x2="433.8" y2="514.5" stroke="#000" stroke-width="1.6" />
<text x="433.8" y="525.5" font-size="10.2" text-anchor="middle" fill="#000" font-weight="bold" letter-spacing="0.3" ><tspan>0</tspan></text>
<line x1="480.201" y1="510" x2="480.201" y2="514.5" stroke="#000" stroke-width="1.6" />
<text x="480.201" y="525.5" font-size="10.2" text-anchor="middle" fill="#000" font-weight="bold" letter-spacing="0.3" ><tspan>3000</tspan></text>
<line x1="526.602" y1="510" x2="526.602" y2="514.5" stroke="#000" stroke-width="1.6" />
<text x="526.602" y="525.5" font-size="10.2" text-anchor="middle" fill="#000" font-weight="bold" letter-spacing="0.3" ><tspan>6000</tspan></text>
<line x1="573.003" y1="510" x2="573.003" y2="514.5" stroke="#000" stroke-width="1.6" />
<text x="573.003" y="525.5" font-size="10.2" text-anchor="middle" fill="#000" font-weight="bold" letter-spacing="0.3" ><tspan>9000</tspan></text>
<line x1="619.404" y1="510" x2="619.404" y2="514.5" stroke="#000" stroke-width="1.6" />
<text x="619.404" y="525.5" font-size="10.2" text-anchor="middle" fill="#000" font-weight="bold" letter-spacing="0.3" ><tspan>12,000</tspan></text>
<line x1="665.8050000000001" y1="510" x2="665.8050000000001" y2="514.5" stroke="#000" stroke-width="1.6" />
<text x="665.8050000000001" y="525.5" font-size="10.2" text-anchor="middle" fill="#000" font-weight="bold" letter-spacing="0.3" ><tspan>15,000</tspan></text>
<line x1="410.59950000000003" y1="510" x2="410.59950000000003" y2="512.5" stroke="#000" stroke-width="1.4" />
<line x1="457.0005" y1="510" x2="457.0005" y2="512.5" stroke="#000" stroke-width="1.4" />
<line x1="503.4015" y1="510" x2="503.4015" y2="512.5" stroke="#000" stroke-width="1.4" />
<line x1="549.8025" y1="510" x2="549.8025" y2="512.5" stroke="#000" stroke-width="1.4" />
<line x1="596.2035000000001" y1="510" x2="596.2035000000001" y2="512.5" stroke="#000" stroke-width="1.4" />
<line x1="642.6045" y1="510" x2="642.6045" y2="512.5" stroke="#000" stroke-width="1.4" />
<text x="417" y="320.5" font-size="11.3" text-anchor="start" fill="#000" font-weight="bold" stroke="#000" stroke-width="0.22" textLength="107.9" lengthAdjust="spacingAndGlyphs" ><tspan>25 ppm NO</tspan><tspan dy="3.16" font-size="7.35">2</tspan><tspan dy="-3.16">/Air ads.</tspan></text>
<text x="417" y="337.7" font-size="11.3" text-anchor="start" fill="#000" font-weight="bold" stroke="#000" stroke-width="0.22" textLength="126" lengthAdjust="spacingAndGlyphs" ><tspan>NO</tspan><tspan dy="3.16" font-size="7.35">2</tspan><tspan dy="-3.16"> breakthrough curve</tspan></text>
<line x1="416.1" y1="351.6" x2="448.2" y2="351.6" stroke="#5AAEE0" stroke-width="1.8" />
<rect x="429.10" y="348.70" width="5.80" height="5.80" fill="#5AAEE0" stroke="#5AAEE0" stroke-width="0.6"/>
<text x="451.2" y="356.1" font-size="11.3" text-anchor="start" fill="#000" font-weight="bold" stroke="#000" stroke-width="0.22" textLength="45.0" lengthAdjust="spacingAndGlyphs" ><tspan>Na-LTA-3</tspan></text>
<line x1="416.1" y1="366.8" x2="448.2" y2="366.8" stroke="#E5505A" stroke-width="1.8" />
<circle cx="432.00" cy="366.80" r="3.10" fill="#E5505A" stroke="#E5505A" stroke-width="0.6"/>
<text x="451.2" y="371.3" font-size="11.3" text-anchor="start" fill="#000" font-weight="bold" stroke="#000" stroke-width="0.22" textLength="45.0" lengthAdjust="spacingAndGlyphs" ><tspan>Ca-LTA-3</tspan></text>
<line x1="416.1" y1="382.5" x2="448.2" y2="382.5" stroke="#F0A040" stroke-width="1.8" />
<path d="M432.00,378.96 L435.65,385.29 L428.35,385.29Z" fill="#F0A040" stroke="#F0A040" stroke-width="0.6"/>
<text x="451.2" y="387.0" font-size="11.3" text-anchor="start" fill="#000" font-weight="bold" stroke="#000" stroke-width="0.22" textLength="49.6" lengthAdjust="spacingAndGlyphs" ><tspan>Mn-LTA-3</tspan></text>
<text x="417" y="423.4" font-size="11.3" text-anchor="start" fill="#000" font-weight="bold" stroke="#000" stroke-width="0.22" textLength="89.6" lengthAdjust="spacingAndGlyphs" ><tspan>NO release curve</tspan></text>
<line x1="416.1" y1="434.7" x2="448.2" y2="434.7" stroke="#5AAEE0" stroke-width="1.8" />
<rect x="429.10" y="431.80" width="5.80" height="5.80" fill="#fff" stroke="#5AAEE0" stroke-width="1.1"/>
<text x="451.2" y="439.2" font-size="11.3" text-anchor="start" fill="#000" font-weight="bold" stroke="#000" stroke-width="0.22" textLength="45.0" lengthAdjust="spacingAndGlyphs" ><tspan>Na-LTA-3</tspan></text>
<line x1="416.1" y1="450.9" x2="448.2" y2="450.9" stroke="#E5505A" stroke-width="1.8" />
<circle cx="432.00" cy="450.90" r="3.10" fill="#fff" stroke="#E5505A" stroke-width="1.1"/>
<text x="451.2" y="455.4" font-size="11.3" text-anchor="start" fill="#000" font-weight="bold" stroke="#000" stroke-width="0.22" textLength="45.0" lengthAdjust="spacingAndGlyphs" ><tspan>Ca-LTA-3</tspan></text>
<line x1="416.1" y1="465.8" x2="448.2" y2="465.8" stroke="#F0A040" stroke-width="1.8" />
<path d="M432.00,462.26 L435.65,468.59 L428.35,468.59Z" fill="#fff" stroke="#F0A040" stroke-width="1.1"/>
<text x="451.2" y="470.3" font-size="11.3" text-anchor="start" fill="#000" font-weight="bold" stroke="#000" stroke-width="0.22" textLength="49.6" lengthAdjust="spacingAndGlyphs" ><tspan>Mn-LTA-3</tspan></text>
<line x1="540.8" y1="407" x2="540.8" y2="420" stroke="#E8248A" stroke-width="1.9" />
<path d="M536.9,416.5 L540.8,427.5 L544.7,416.5 Z" fill="#E8248A"/>
<line x1="540.8" y1="474" x2="540.8" y2="495.5" stroke="#E8248A" stroke-width="1.9" />
<path d="M536.9,475 L540.8,463.3 L544.7,475 Z" fill="#E8248A"/>
<text x="550.2" y="441.4" font-size="11.3" text-anchor="middle" fill="#E8248A" font-weight="bold" stroke="#E8248A" stroke-width="0.22" textLength="83" lengthAdjust="spacingAndGlyphs" ><tspan>"Zero-emission"</tspan></text>
<text x="550.5" y="457.4" font-size="11.3" text-anchor="middle" fill="#E8248A" font-weight="bold" stroke="#E8248A" stroke-width="0.22" textLength="64" lengthAdjust="spacingAndGlyphs" ><tspan>NO</tspan><tspan dy="3.16" font-size="7.35">2</tspan><tspan dy="-3.16"> capture</tspan></text>
<text x="538.4" y="547.3" font-size="13.8" text-anchor="middle" fill="#000" font-weight="bold" stroke="#000" stroke-width="0.22" textLength="82.2" lengthAdjust="spacingAndGlyphs" ><tspan>Time (min g</tspan><tspan dy="-5.24" font-size="8.97">-1</tspan><tspan dy="5.24">)</tspan></text>
<text transform="translate(383.4,492) rotate(-90)" font-size="13.8" text-anchor="start" fill="#000" font-weight="bold" stroke="#000" stroke-width="0.22" textLength="167.5" lengthAdjust="spacingAndGlyphs" ><tspan>Concentration of NO</tspan><tspan dy="3.86" font-size="8.97">x</tspan><tspan dy="-3.86"> (ppm)</tspan></text>
<text transform="translate(20.8,571.6) scale(0.996,1)" font-size="30.5" font-weight="bold" fill="#000">e</text>
<rect x="65.8" y="610.8" width="13.3" height="42.90000000000009" fill="#90C8EA" />
<clipPath id="c1026"><rect x="79.1" y="647.5" width="12.9" height="6.2000000000000455"/></clipPath>
<path d="M72.90,653.70 L79.10,647.50 M75.90,653.70 L82.10,647.50 M78.90,653.70 L85.10,647.50 M81.90,653.70 L88.10,647.50 M84.90,653.70 L91.10,647.50 M87.90,653.70 L94.10,647.50 M90.90,653.70 L97.10,647.50 M93.90,653.70 L100.10,647.50 M96.90,653.70 L103.10,647.50 " stroke="#90C8EA" stroke-width="0.7" clip-path="url(#c1026)" fill="none"/>
<rect x="79.50" y="647.90" width="12.10" height="5.40" fill="none" stroke="#90C8EA" stroke-width="0.8"/>
<rect x="116.89999999999999" y="611.5" width="13.3" height="42.200000000000045" fill="#90C8EA" />
<clipPath id="c1030"><rect x="130.2" y="650.3" width="12.9" height="3.400000000000091"/></clipPath>
<path d="M126.80,653.70 L130.20,650.30 M129.80,653.70 L133.20,650.30 M132.80,653.70 L136.20,650.30 M135.80,653.70 L139.20,650.30 M138.80,653.70 L142.20,650.30 M141.80,653.70 L145.20,650.30 M144.80,653.70 L148.20,650.30 " stroke="#90C8EA" stroke-width="0.7" clip-path="url(#c1030)" fill="none"/>
<rect x="130.60" y="650.70" width="12.10" height="2.60" fill="none" stroke="#90C8EA" stroke-width="0.8"/>
<rect x="168.0" y="611.8" width="13.3" height="41.90000000000009" fill="#90C8EA" />
<clipPath id="c1034"><rect x="181.3" y="650.5" width="12.9" height="3.2000000000000455"/></clipPath>
<path d="M178.10,653.70 L181.30,650.50 M181.10,653.70 L184.30,650.50 M184.10,653.70 L187.30,650.50 M187.10,653.70 L190.30,650.50 M190.10,653.70 L193.30,650.50 M193.10,653.70 L196.30,650.50 M196.10,653.70 L199.30,650.50 " stroke="#90C8EA" stroke-width="0.7" clip-path="url(#c1034)" fill="none"/>
<rect x="181.70" y="650.90" width="12.10" height="2.40" fill="none" stroke="#90C8EA" stroke-width="0.8"/>
<rect x="218.79999999999998" y="611.8" width="13.3" height="41.90000000000009" fill="#90C8EA" />
<clipPath id="c1038"><rect x="232.1" y="650.5" width="12.9" height="3.2000000000000455"/></clipPath>
<path d="M228.90,653.70 L232.10,650.50 M231.90,653.70 L235.10,650.50 M234.90,653.70 L238.10,650.50 M237.90,653.70 L241.10,650.50 M240.90,653.70 L244.10,650.50 M243.90,653.70 L247.10,650.50 M246.90,653.70 L250.10,650.50 " stroke="#90C8EA" stroke-width="0.7" clip-path="url(#c1038)" fill="none"/>
<rect x="232.50" y="650.90" width="12.10" height="2.40" fill="none" stroke="#90C8EA" stroke-width="0.8"/>
<rect x="270.3" y="611.8" width="13.3" height="41.90000000000009" fill="#90C8EA" />
<clipPath id="c1042"><rect x="283.6" y="650.3" width="12.9" height="3.400000000000091"/></clipPath>
<path d="M280.20,653.70 L283.60,650.30 M283.20,653.70 L286.60,650.30 M286.20,653.70 L289.60,650.30 M289.20,653.70 L292.60,650.30 M292.20,653.70 L295.60,650.30 M295.20,653.70 L298.60,650.30 M298.20,653.70 L301.60,650.30 " stroke="#90C8EA" stroke-width="0.7" clip-path="url(#c1042)" fill="none"/>
<rect x="284.00" y="650.70" width="12.10" height="2.60" fill="none" stroke="#90C8EA" stroke-width="0.8"/>
<rect x="56" y="639.2" width="250" height="1.8" fill="#fff" />
<path d="M79.10,608.30 L130.20,622.30 L181.30,627.50 L232.10,628.70 L283.60,627.00" fill="none" stroke="#E8248A" stroke-width="1.8" />
<path d="M79.10,603.90 L80.26,606.70 L83.28,606.94 L80.98,608.91 L81.69,611.86 L79.10,610.28 L76.51,611.86 L77.22,608.91 L74.92,606.94 L77.94,606.70Z" fill="#fff" stroke="#E8248A" stroke-width="1.7" stroke-linejoin="miter"/>
<path d="M130.20,617.90 L131.36,620.70 L134.38,620.94 L132.08,622.91 L132.79,625.86 L130.20,624.28 L127.61,625.86 L128.32,622.91 L126.02,620.94 L129.04,620.70Z" fill="#fff" stroke="#E8248A" stroke-width="1.7" stroke-linejoin="miter"/>
<path d="M181.30,623.10 L182.46,625.90 L185.48,626.14 L183.18,628.11 L183.89,631.06 L181.30,629.48 L178.71,631.06 L179.42,628.11 L177.12,626.14 L180.14,625.90Z" fill="#fff" stroke="#E8248A" stroke-width="1.7" stroke-linejoin="miter"/>
<path d="M232.10,624.30 L233.26,627.10 L236.28,627.34 L233.98,629.31 L234.69,632.26 L232.10,630.68 L229.51,632.26 L230.22,629.31 L227.92,627.34 L230.94,627.10Z" fill="#fff" stroke="#E8248A" stroke-width="1.7" stroke-linejoin="miter"/>
<path d="M283.60,622.60 L284.76,625.40 L287.78,625.64 L285.48,627.61 L286.19,630.56 L283.60,628.98 L281.01,630.56 L281.72,627.61 L279.42,625.64 L282.44,625.40Z" fill="#fff" stroke="#E8248A" stroke-width="1.7" stroke-linejoin="miter"/>
<rect x="57.3" y="589.4" width="26.4" height="12.6" fill="#90C8EA" />
<text x="86.2" y="599.9" font-size="11.3" text-anchor="start" fill="#000" font-weight="bold" stroke="#000" stroke-width="0.22" textLength="61.5" lengthAdjust="spacingAndGlyphs" ><tspan>NO</tspan><tspan dy="3.16" font-size="7.35">2</tspan><tspan dy="-3.16"> adsorbed</tspan></text>
<clipPath id="c1054"><rect x="155.8" y="589.4" width="25.8" height="12.6"/></clipPath>
<path d="M143.20,602.00 L155.80,589.40 M146.20,602.00 L158.80,589.40 M149.20,602.00 L161.80,589.40 M152.20,602.00 L164.80,589.40 M155.20,602.00 L167.80,589.40 M158.20,602.00 L170.80,589.40 M161.20,602.00 L173.80,589.40 M164.20,602.00 L176.80,589.40 M167.20,602.00 L179.80,589.40 M170.20,602.00 L182.80,589.40 M173.20,602.00 L185.80,589.40 M176.20,602.00 L188.80,589.40 M179.20,602.00 L191.80,589.40 M182.20,602.00 L194.80,589.40 M185.20,602.00 L197.80,589.40 M188.20,602.00 L200.80,589.40 M191.20,602.00 L203.80,589.40 " stroke="#90C8EA" stroke-width="0.7" clip-path="url(#c1054)" fill="none"/>
<rect x="156.20" y="589.80" width="25.00" height="11.80" fill="none" stroke="#90C8EA" stroke-width="0.8"/>
<text x="184.0" y="599.9" font-size="11.3" text-anchor="start" fill="#000" font-weight="bold" stroke="#000" stroke-width="0.22" textLength="54.2" lengthAdjust="spacingAndGlyphs" ><tspan>NO released</tspan></text>
<text x="305.0" y="596.0" font-size="11.3" text-anchor="end" fill="#3B86C6" font-weight="bold" stroke="#3B86C6" stroke-width="0.22" textLength="42.8" lengthAdjust="spacingAndGlyphs" ><tspan>Na-LTA-3</tspan></text>
<text x="305.0" y="609.3" font-size="11.3" text-anchor="end" fill="#000" font-weight="bold" stroke="#000" stroke-width="0.22" textLength="55" lengthAdjust="spacingAndGlyphs" ><tspan>NO</tspan><tspan dy="3.16" font-size="7.35">2</tspan><tspan dy="-3.16">/Air ads.</tspan></text>
<rect x="65.8" y="680.1" width="13.3" height="42.60000000000002" fill="#E8848C" />
<clipPath id="c1061"><rect x="79.1" y="713.9" width="12.9" height="8.800000000000068"/></clipPath>
<path d="M70.30,722.70 L79.10,713.90 M73.30,722.70 L82.10,713.90 M76.30,722.70 L85.10,713.90 M79.30,722.70 L88.10,713.90 M82.30,722.70 L91.10,713.90 M85.30,722.70 L94.10,713.90 M88.30,722.70 L97.10,713.90 M91.30,722.70 L100.10,713.90 M94.30,722.70 L103.10,713.90 M97.30,722.70 L106.10,713.90 M100.30,722.70 L109.10,713.90 " stroke="#E8848C" stroke-width="0.7" clip-path="url(#c1061)" fill="none"/>
<rect x="79.50" y="714.30" width="12.10" height="8.00" fill="none" stroke="#E8848C" stroke-width="0.8"/>
<rect x="116.89999999999999" y="680.3" width="13.3" height="42.40000000000009" fill="#E8848C" />
<clipPath id="c1065"><rect x="130.2" y="718.4" width="12.9" height="4.300000000000068"/></clipPath>
<path d="M125.90,722.70 L130.20,718.40 M128.90,722.70 L133.20,718.40 M131.90,722.70 L136.20,718.40 M134.90,722.70 L139.20,718.40 M137.90,722.70 L142.20,718.40 M140.90,722.70 L145.20,718.40 M143.90,722.70 L148.20,718.40 M146.90,722.70 L151.20,718.40 " stroke="#E8848C" stroke-width="0.7" clip-path="url(#c1065)" fill="none"/>
<rect x="130.60" y="718.80" width="12.10" height="3.50" fill="none" stroke="#E8848C" stroke-width="0.8"/>
<rect x="168.0" y="680.3" width="13.3" height="42.40000000000009" fill="#E8848C" />
<clipPath id="c1069"><rect x="181.3" y="718.3" width="12.9" height="4.400000000000091"/></clipPath>
<path d="M176.90,722.70 L181.30,718.30 M179.90,722.70 L184.30,718.30 M182.90,722.70 L187.30,718.30 M185.90,722.70 L190.30,718.30 M188.90,722.70 L193.30,718.30 M191.90,722.70 L196.30,718.30 M194.90,722.70 L199.30,718.30 M197.90,722.70 L202.30,718.30 " stroke="#E8848C" stroke-width="0.7" clip-path="url(#c1069)" fill="none"/>
<rect x="181.70" y="718.70" width="12.10" height="3.60" fill="none" stroke="#E8848C" stroke-width="0.8"/>
<rect x="218.79999999999998" y="680.3" width="13.3" height="42.40000000000009" fill="#E8848C" />
<clipPath id="c1073"><rect x="232.1" y="718.3" width="12.9" height="4.400000000000091"/></clipPath>
<path d="M227.70,722.70 L232.10,718.30 M230.70,722.70 L235.10,718.30 M233.70,722.70 L238.10,718.30 M236.70,722.70 L241.10,718.30 M239.70,722.70 L244.10,718.30 M242.70,722.70 L247.10,718.30 M245.70,722.70 L250.10,718.30 M248.70,722.70 L253.10,718.30 " stroke="#E8848C" stroke-width="0.7" clip-path="url(#c1073)" fill="none"/>
<rect x="232.50" y="718.70" width="12.10" height="3.60" fill="none" stroke="#E8848C" stroke-width="0.8"/>
<rect x="270.3" y="680.3" width="13.3" height="42.40000000000009" fill="#E8848C" />
<clipPath id="c1077"><rect x="283.6" y="718.3" width="12.9" height="4.400000000000091"/></clipPath>
<path d="M279.20,722.70 L283.60,718.30 M282.20,722.70 L286.60,718.30 M285.20,722.70 L289.60,718.30 M288.20,722.70 L292.60,718.30 M291.20,722.70 L295.60,718.30 M294.20,722.70 L298.60,718.30 M297.20,722.70 L301.60,718.30 M300.20,722.70 L304.60,718.30 " stroke="#E8848C" stroke-width="0.7" clip-path="url(#c1077)" fill="none"/>
<rect x="284.00" y="718.70" width="12.10" height="3.60" fill="none" stroke="#E8848C" stroke-width="0.8"/>
<rect x="56" y="707.2" width="250" height="1.8" fill="#fff" />
<path d="M79.10,679.90 L130.20,713.10 L181.30,713.20 L232.10,713.20 L283.60,713.20" fill="none" stroke="#E8248A" stroke-width="1.8" />
<path d="M79.10,675.50 L80.26,678.30 L83.28,678.54 L80.98,680.51 L81.69,683.46 L79.10,681.88 L76.51,683.46 L77.22,680.51 L74.92,678.54 L77.94,678.30Z" fill="#fff" stroke="#E8248A" stroke-width="1.7" stroke-linejoin="miter"/>
<path d="M130.20,708.70 L131.36,711.50 L134.38,711.74 L132.08,713.71 L132.79,716.66 L130.20,715.08 L127.61,716.66 L128.32,713.71 L126.02,711.74 L129.04,711.50Z" fill="#fff" stroke="#E8248A" stroke-width="1.7" stroke-linejoin="miter"/>
<path d="M181.30,708.80 L182.46,711.60 L185.48,711.84 L183.18,713.81 L183.89,716.76 L181.30,715.18 L178.71,716.76 L179.42,713.81 L177.12,711.84 L180.14,711.60Z" fill="#fff" stroke="#E8248A" stroke-width="1.7" stroke-linejoin="miter"/>
<path d="M232.10,708.80 L233.26,711.60 L236.28,711.84 L233.98,713.81 L234.69,716.76 L232.10,715.18 L229.51,716.76 L230.22,713.81 L227.92,711.84 L230.94,711.60Z" fill="#fff" stroke="#E8248A" stroke-width="1.7" stroke-linejoin="miter"/>
<path d="M283.60,708.80 L284.76,711.60 L287.78,711.84 L285.48,713.81 L286.19,716.76 L283.60,715.18 L281.01,716.76 L281.72,713.81 L279.42,711.84 L282.44,711.60Z" fill="#fff" stroke="#E8248A" stroke-width="1.7" stroke-linejoin="miter"/>
<rect x="57.3" y="658.1999999999999" width="26.4" height="12.6" fill="#E8848C" />
<text x="86.2" y="668.6999999999999" font-size="11.3" text-anchor="start" fill="#000" font-weight="bold" stroke="#000" stroke-width="0.22" textLength="61.5" lengthAdjust="spacingAndGlyphs" ><tspan>NO</tspan><tspan dy="3.16" font-size="7.35">2</tspan><tspan dy="-3.16"> adsorbed</tspan></text>
<clipPath id="c1089"><rect x="155.8" y="658.1999999999999" width="25.8" height="12.6"/></clipPath>
<path d="M143.20,670.80 L155.80,658.20 M146.20,670.80 L158.80,658.20 M149.20,670.80 L161.80,658.20 M152.20,670.80 L164.80,658.20 M155.20,670.80 L167.80,658.20 M158.20,670.80 L170.80,658.20 M161.20,670.80 L173.80,658.20 M164.20,670.80 L176.80,658.20 M167.20,670.80 L179.80,658.20 M170.20,670.80 L182.80,658.20 M173.20,670.80 L185.80,658.20 M176.20,670.80 L188.80,658.20 M179.20,670.80 L191.80,658.20 M182.20,670.80 L194.80,658.20 M185.20,670.80 L197.80,658.20 M188.20,670.80 L200.80,658.20 M191.20,670.80 L203.80,658.20 " stroke="#E8848C" stroke-width="0.7" clip-path="url(#c1089)" fill="none"/>
<rect x="156.20" y="658.60" width="25.00" height="11.80" fill="none" stroke="#E8848C" stroke-width="0.8"/>
<text x="184.0" y="668.6999999999999" font-size="11.3" text-anchor="start" fill="#000" font-weight="bold" stroke="#000" stroke-width="0.22" textLength="54.2" lengthAdjust="spacingAndGlyphs" ><tspan>NO released</tspan></text>
<text x="305.0" y="664.8" font-size="11.3" text-anchor="end" fill="#E5262B" font-weight="bold" stroke="#E5262B" stroke-width="0.22" textLength="42.8" lengthAdjust="spacingAndGlyphs" ><tspan>Ca-LTA-3</tspan></text>
<text x="305.0" y="678.0999999999999" font-size="11.3" text-anchor="end" fill="#000" font-weight="bold" stroke="#000" stroke-width="0.22" textLength="55" lengthAdjust="spacingAndGlyphs" ><tspan>NO</tspan><tspan dy="3.16" font-size="7.35">2</tspan><tspan dy="-3.16">/Air ads.</tspan></text>
<rect x="65.8" y="752.8" width="13.3" height="39.0" fill="#EEB97C" />
<clipPath id="c1096"><rect x="79.1" y="783.0" width="12.9" height="8.799999999999955"/></clipPath>
<path d="M70.30,791.80 L79.10,783.00 M73.30,791.80 L82.10,783.00 M76.30,791.80 L85.10,783.00 M79.30,791.80 L88.10,783.00 M82.30,791.80 L91.10,783.00 M85.30,791.80 L94.10,783.00 M88.30,791.80 L97.10,783.00 M91.30,791.80 L100.10,783.00 M94.30,791.80 L103.10,783.00 M97.30,791.80 L106.10,783.00 M100.30,791.80 L109.10,783.00 " stroke="#EEB97C" stroke-width="0.7" clip-path="url(#c1096)" fill="none"/>
<rect x="79.50" y="783.40" width="12.10" height="8.00" fill="none" stroke="#EEB97C" stroke-width="0.8"/>
<rect x="116.89999999999999" y="751.0" width="13.3" height="40.799999999999955" fill="#EEB97C" />
<clipPath id="c1100"><rect x="130.2" y="787.2" width="12.9" height="4.599999999999909"/></clipPath>
<path d="M125.60,791.80 L130.20,787.20 M128.60,791.80 L133.20,787.20 M131.60,791.80 L136.20,787.20 M134.60,791.80 L139.20,787.20 M137.60,791.80 L142.20,787.20 M140.60,791.80 L145.20,787.20 M143.60,791.80 L148.20,787.20 M146.60,791.80 L151.20,787.20 " stroke="#EEB97C" stroke-width="0.7" clip-path="url(#c1100)" fill="none"/>
<rect x="130.60" y="787.60" width="12.10" height="3.80" fill="none" stroke="#EEB97C" stroke-width="0.8"/>
<rect x="168.0" y="751.0" width="13.3" height="40.799999999999955" fill="#EEB97C" />
<clipPath id="c1104"><rect x="181.3" y="782.7" width="12.9" height="9.099999999999909"/></clipPath>
<path d="M172.20,791.80 L181.30,782.70 M175.20,791.80 L184.30,782.70 M178.20,791.80 L187.30,782.70 M181.20,791.80 L190.30,782.70 M184.20,791.80 L193.30,782.70 M187.20,791.80 L196.30,782.70 M190.20,791.80 L199.30,782.70 M193.20,791.80 L202.30,782.70 M196.20,791.80 L205.30,782.70 M199.20,791.80 L208.30,782.70 M202.20,791.80 L211.30,782.70 " stroke="#EEB97C" stroke-width="0.7" clip-path="url(#c1104)" fill="none"/>
<rect x="181.70" y="783.10" width="12.10" height="8.30" fill="none" stroke="#EEB97C" stroke-width="0.8"/>
<rect x="218.79999999999998" y="752.0" width="13.3" height="39.799999999999955" fill="#EEB97C" />
<clipPath id="c1108"><rect x="232.1" y="787.2" width="12.9" height="4.599999999999909"/></clipPath>
<path d="M227.50,791.80 L232.10,787.20 M230.50,791.80 L235.10,787.20 M233.50,791.80 L238.10,787.20 M236.50,791.80 L241.10,787.20 M239.50,791.80 L244.10,787.20 M242.50,791.80 L247.10,787.20 M245.50,791.80 L250.10,787.20 M248.50,791.80 L253.10,787.20 " stroke="#EEB97C" stroke-width="0.7" clip-path="url(#c1108)" fill="none"/>
<rect x="232.50" y="787.60" width="12.10" height="3.80" fill="none" stroke="#EEB97C" stroke-width="0.8"/>
<rect x="270.3" y="751.0" width="13.3" height="40.799999999999955" fill="#EEB97C" />
<clipPath id="c1112"><rect x="283.6" y="787.2" width="12.9" height="4.599999999999909"/></clipPath>
<path d="M279.00,791.80 L283.60,787.20 M282.00,791.80 L286.60,787.20 M285.00,791.80 L289.60,787.20 M288.00,791.80 L292.60,787.20 M291.00,791.80 L295.60,787.20 M294.00,791.80 L298.60,787.20 M297.00,791.80 L301.60,787.20 M300.00,791.80 L304.60,787.20 " stroke="#EEB97C" stroke-width="0.7" clip-path="url(#c1112)" fill="none"/>
<rect x="284.00" y="787.60" width="12.10" height="3.80" fill="none" stroke="#EEB97C" stroke-width="0.8"/>
<rect x="56" y="776.2" width="250" height="1.8" fill="#fff" />
<path d="M79.10,749.00 L130.20,775.40 L181.30,768.80 L232.10,768.80 L283.60,782.20" fill="none" stroke="#E8248A" stroke-width="1.8" />
<path d="M79.10,744.60 L80.26,747.40 L83.28,747.64 L80.98,749.61 L81.69,752.56 L79.10,750.98 L76.51,752.56 L77.22,749.61 L74.92,747.64 L77.94,747.40Z" fill="#fff" stroke="#E8248A" stroke-width="1.7" stroke-linejoin="miter"/>
<path d="M130.20,771.00 L131.36,773.80 L134.38,774.04 L132.08,776.01 L132.79,778.96 L130.20,777.38 L127.61,778.96 L128.32,776.01 L126.02,774.04 L129.04,773.80Z" fill="#fff" stroke="#E8248A" stroke-width="1.7" stroke-linejoin="miter"/>
<path d="M181.30,764.40 L182.46,767.20 L185.48,767.44 L183.18,769.41 L183.89,772.36 L181.30,770.78 L178.71,772.36 L179.42,769.41 L177.12,767.44 L180.14,767.20Z" fill="#fff" stroke="#E8248A" stroke-width="1.7" stroke-linejoin="miter"/>
<path d="M232.10,764.40 L233.26,767.20 L236.28,767.44 L233.98,769.41 L234.69,772.36 L232.10,770.78 L229.51,772.36 L230.22,769.41 L227.92,767.44 L230.94,767.20Z" fill="#fff" stroke="#E8248A" stroke-width="1.7" stroke-linejoin="miter"/>
<path d="M283.60,777.80 L284.76,780.60 L287.78,780.84 L285.48,782.81 L286.19,785.76 L283.60,784.18 L281.01,785.76 L281.72,782.81 L279.42,780.84 L282.44,780.60Z" fill="#fff" stroke="#E8248A" stroke-width="1.7" stroke-linejoin="miter"/>
<rect x="57.3" y="726.4" width="26.4" height="12.6" fill="#EEB97C" />
<text x="86.2" y="736.9" font-size="11.3" text-anchor="start" fill="#000" font-weight="bold" stroke="#000" stroke-width="0.22" textLength="61.5" lengthAdjust="spacingAndGlyphs" ><tspan>NO</tspan><tspan dy="3.16" font-size="7.35">2</tspan><tspan dy="-3.16"> adsorbed</tspan></text>
<clipPath id="c1124"><rect x="155.8" y="726.4" width="25.8" height="12.6"/></clipPath>
<path d="M143.20,739.00 L155.80,726.40 M146.20,739.00 L158.80,726.40 M149.20,739.00 L161.80,726.40 M152.20,739.00 L164.80,726.40 M155.20,739.00 L167.80,726.40 M158.20,739.00 L170.80,726.40 M161.20,739.00 L173.80,726.40 M164.20,739.00 L176.80,726.40 M167.20,739.00 L179.80,726.40 M170.20,739.00 L182.80,726.40 M173.20,739.00 L185.80,726.40 M176.20,739.00 L188.80,726.40 M179.20,739.00 L191.80,726.40 M182.20,739.00 L194.80,726.40 M185.20,739.00 L197.80,726.40 M188.20,739.00 L200.80,726.40 M191.20,739.00 L203.80,726.40 " stroke="#EEB97C" stroke-width="0.7" clip-path="url(#c1124)" fill="none"/>
<rect x="156.20" y="726.80" width="25.00" height="11.80" fill="none" stroke="#EEB97C" stroke-width="0.8"/>
<text x="184.0" y="736.9" font-size="11.3" text-anchor="start" fill="#000" font-weight="bold" stroke="#000" stroke-width="0.22" textLength="54.2" lengthAdjust="spacingAndGlyphs" ><tspan>NO released</tspan></text>
<text x="305.0" y="733.0" font-size="11.3" text-anchor="end" fill="#F08C2A" font-weight="bold" stroke="#F08C2A" stroke-width="0.22" textLength="42.8" lengthAdjust="spacingAndGlyphs" ><tspan>Mn-LTA-3</tspan></text>
<text x="305.0" y="746.3" font-size="11.3" text-anchor="end" fill="#000" font-weight="bold" stroke="#000" stroke-width="0.22" textLength="55" lengthAdjust="spacingAndGlyphs" ><tspan>NO</tspan><tspan dy="3.16" font-size="7.35">2</tspan><tspan dy="-3.16">/Air ads.</tspan></text>
<line x1="53.3" y1="585.0" x2="309.1" y2="585.0" stroke="#000" stroke-width="2" />
<line x1="53.3" y1="653.7" x2="309.1" y2="653.7" stroke="#000" stroke-width="2" />
<line x1="53.3" y1="722.7" x2="309.1" y2="722.7" stroke="#000" stroke-width="2" />
<line x1="52.3" y1="791.8" x2="310.1" y2="791.8" stroke="#000" stroke-width="2" />
<line x1="53.3" y1="584" x2="53.3" y2="792.8" stroke="#000" stroke-width="2" />
<line x1="49.5" y1="641.2" x2="56.9" y2="637.7" stroke="#000" stroke-width="2.6" />
<line x1="49.5" y1="710.4" x2="56.9" y2="706.8" stroke="#000" stroke-width="2.6" />
<line x1="49.6" y1="780.3" x2="57.2" y2="775.7" stroke="#000" stroke-width="2.6" />
<line x1="49.3" y1="609.8" x2="53.3" y2="609.8" stroke="#000" stroke-width="1.6" />
<text x="46.5" y="612.8" font-size="10.2" text-anchor="end" fill="#000" font-weight="bold" letter-spacing="0.3" ><tspan>4</tspan></text>
<line x1="49.3" y1="626.1" x2="53.3" y2="626.1" stroke="#000" stroke-width="1.6" />
<text x="46.5" y="629.1" font-size="10.2" text-anchor="end" fill="#000" font-weight="bold" letter-spacing="0.3" ><tspan>2</tspan></text>
<line x1="49.3" y1="644.7" x2="53.3" y2="644.7" stroke="#000" stroke-width="1.6" />
<text x="46.5" y="647.7" font-size="10.2" text-anchor="end" fill="#000" font-weight="bold" letter-spacing="0.3" ><tspan>0.2</tspan></text>
<line x1="49.3" y1="653.7" x2="53.3" y2="653.7" stroke="#000" stroke-width="1.6" />
<text x="46.5" y="656.7" font-size="10.2" text-anchor="end" fill="#000" font-weight="bold" letter-spacing="0.3" ><tspan>0</tspan></text>
<line x1="49.3" y1="679.4" x2="53.3" y2="679.4" stroke="#000" stroke-width="1.6" />
<text x="46.5" y="682.4" font-size="10.2" text-anchor="end" fill="#000" font-weight="bold" letter-spacing="0.3" ><tspan>4</tspan></text>
<line x1="49.3" y1="693.8" x2="53.3" y2="693.8" stroke="#000" stroke-width="1.6" />
<text x="46.5" y="696.8" font-size="10.2" text-anchor="end" fill="#000" font-weight="bold" letter-spacing="0.3" ><tspan>2</tspan></text>
<line x1="49.3" y1="713.1" x2="53.3" y2="713.1" stroke="#000" stroke-width="1.6" />
<text x="46.5" y="716.1" font-size="10.2" text-anchor="end" fill="#000" font-weight="bold" letter-spacing="0.3" ><tspan>2E-3</tspan></text>
<line x1="49.3" y1="722.7" x2="53.3" y2="722.7" stroke="#000" stroke-width="1.6" />
<text x="46.5" y="725.7" font-size="10.2" text-anchor="end" fill="#000" font-weight="bold" letter-spacing="0.3" ><tspan>0</tspan></text>
<line x1="49.3" y1="746.0" x2="53.3" y2="746.0" stroke="#000" stroke-width="1.6" />
<text x="46.5" y="749.0" font-size="10.2" text-anchor="end" fill="#000" font-weight="bold" letter-spacing="0.3" ><tspan>4</tspan></text>
<line x1="49.3" y1="762.1" x2="53.3" y2="762.1" stroke="#000" stroke-width="1.6" />
<text x="46.5" y="765.1" font-size="10.2" text-anchor="end" fill="#000" font-weight="bold" letter-spacing="0.3" ><tspan>2</tspan></text>
<line x1="49.3" y1="782.5" x2="53.3" y2="782.5" stroke="#000" stroke-width="1.6" />
<text x="46.5" y="785.5" font-size="10.2" text-anchor="end" fill="#000" font-weight="bold" letter-spacing="0.3" ><tspan>2E-3</tspan></text>
<line x1="49.3" y1="791.8" x2="53.3" y2="791.8" stroke="#000" stroke-width="1.6" />
<text x="46.5" y="794.8" font-size="10.2" text-anchor="end" fill="#000" font-weight="bold" letter-spacing="0.3" ><tspan>0</tspan></text>
<line x1="50.8" y1="601.6" x2="53.3" y2="601.6" stroke="#000" stroke-width="1.4" />
<line x1="50.8" y1="617.9" x2="53.3" y2="617.9" stroke="#000" stroke-width="1.4" />
<line x1="50.8" y1="686.6" x2="53.3" y2="686.6" stroke="#000" stroke-width="1.4" />
<line x1="50.8" y1="754.0" x2="53.3" y2="754.0" stroke="#000" stroke-width="1.4" />
<line x1="50.8" y1="717.9" x2="53.3" y2="717.9" stroke="#000" stroke-width="1.4" />
<line x1="50.8" y1="787.1" x2="53.3" y2="787.1" stroke="#000" stroke-width="1.4" />
<line x1="50.8" y1="649.2" x2="53.3" y2="649.2" stroke="#000" stroke-width="1.4" />
<line x1="50.8" y1="641.5" x2="53.3" y2="641.5" stroke="#000" stroke-width="1.4" />
<line x1="50.8" y1="709.5" x2="53.3" y2="709.5" stroke="#000" stroke-width="1.4" />
<line x1="50.8" y1="779.2" x2="53.3" y2="779.2" stroke="#000" stroke-width="1.4" />
<line x1="309.1" y1="584" x2="309.1" y2="792.8" stroke="#E8248A" stroke-width="2" />
<line x1="309.1" y1="607.5" x2="313.6" y2="607.5" stroke="#E8248A" stroke-width="1.6" />
<text x="316.2" y="610.5" font-size="10.2" text-anchor="start" fill="#E8248A" font-weight="bold" letter-spacing="0.3" ><tspan>4</tspan></text>
<line x1="309.1" y1="630.0" x2="313.6" y2="630.0" stroke="#E8248A" stroke-width="1.6" />
<text x="316.2" y="633.0" font-size="10.2" text-anchor="start" fill="#E8248A" font-weight="bold" letter-spacing="0.3" ><tspan>2</tspan></text>
<line x1="309.1" y1="653.0" x2="313.6" y2="653.0" stroke="#E8248A" stroke-width="1.6" />
<text x="316.2" y="656.0" font-size="10.2" text-anchor="start" fill="#E8248A" font-weight="bold" letter-spacing="0.3" ><tspan>0</tspan></text>
<line x1="309.1" y1="618.8" x2="311.6" y2="618.8" stroke="#E8248A" stroke-width="1.4" />
<line x1="309.1" y1="641.5" x2="311.6" y2="641.5" stroke="#E8248A" stroke-width="1.4" />
<line x1="309.1" y1="679.8" x2="313.6" y2="679.8" stroke="#E8248A" stroke-width="1.6" />
<text transform="translate(315.5,681.3) rotate(57)" font-size="11.0" text-anchor="start" fill="#E8248A" font-weight="bold" stroke="#E8248A" stroke-width="0.22" letter-spacing="0.3"><tspan>0.08</tspan></text>
<line x1="309.1" y1="706.3" x2="313.6" y2="706.3" stroke="#E8248A" stroke-width="1.6" />
<text transform="translate(315.5,707.8) rotate(57)" font-size="11.0" text-anchor="start" fill="#E8248A" font-weight="bold" stroke="#E8248A" stroke-width="0.22" letter-spacing="0.3"><tspan>0.04</tspan></text>
<line x1="309.1" y1="748.7" x2="313.6" y2="748.7" stroke="#E8248A" stroke-width="1.6" />
<text transform="translate(315.5,750.2) rotate(57)" font-size="11.0" text-anchor="start" fill="#E8248A" font-weight="bold" stroke="#E8248A" stroke-width="0.22" letter-spacing="0.3"><tspan>0.08</tspan></text>
<line x1="309.1" y1="775.6" x2="313.6" y2="775.6" stroke="#E8248A" stroke-width="1.6" />
<text transform="translate(315.5,777.1) rotate(57)" font-size="11.0" text-anchor="start" fill="#E8248A" font-weight="bold" stroke="#E8248A" stroke-width="0.22" letter-spacing="0.3"><tspan>0.04</tspan></text>
<line x1="309.1" y1="693.0" x2="311.6" y2="693.0" stroke="#E8248A" stroke-width="1.4" />
<line x1="309.1" y1="762.1" x2="311.6" y2="762.1" stroke="#E8248A" stroke-width="1.4" />
<line x1="79.1" y1="791.8" x2="79.1" y2="796.3" stroke="#000" stroke-width="1.6" />
<text x="72.89999999999999" y="808.8" font-size="11.3" text-anchor="start" fill="#000" font-weight="bold" stroke="#000" stroke-width="0.22" ><tspan>1</tspan></text>
<text x="79.0" y="803.8" font-size="7.2" text-anchor="start" fill="#000" font-weight="bold" textLength="6.0" lengthAdjust="spacingAndGlyphs" ><tspan>st</tspan></text>
<line x1="130.2" y1="791.8" x2="130.2" y2="796.3" stroke="#000" stroke-width="1.6" />
<text x="123.99999999999999" y="808.8" font-size="11.3" text-anchor="start" fill="#000" font-weight="bold" stroke="#000" stroke-width="0.22" ><tspan>2</tspan></text>
<text x="130.1" y="803.8" font-size="7.2" text-anchor="start" fill="#000" font-weight="bold" textLength="8.6" lengthAdjust="spacingAndGlyphs" ><tspan>nd</tspan></text>
<line x1="181.3" y1="791.8" x2="181.3" y2="796.3" stroke="#000" stroke-width="1.6" />
<text x="175.10000000000002" y="808.8" font-size="11.3" text-anchor="start" fill="#000" font-weight="bold" stroke="#000" stroke-width="0.22" ><tspan>3</tspan></text>
<text x="181.20000000000002" y="803.8" font-size="7.2" text-anchor="start" fill="#000" font-weight="bold" textLength="8.0" lengthAdjust="spacingAndGlyphs" ><tspan>rd</tspan></text>
<line x1="232.1" y1="791.8" x2="232.1" y2="796.3" stroke="#000" stroke-width="1.6" />
<text x="225.9" y="808.8" font-size="11.3" text-anchor="start" fill="#000" font-weight="bold" stroke="#000" stroke-width="0.22" ><tspan>4</tspan></text>
<text x="232.0" y="803.8" font-size="7.2" text-anchor="start" fill="#000" font-weight="bold" textLength="8.0" lengthAdjust="spacingAndGlyphs" ><tspan>th</tspan></text>
<line x1="283.6" y1="791.8" x2="283.6" y2="796.3" stroke="#000" stroke-width="1.6" />
<text x="277.40000000000003" y="808.8" font-size="11.3" text-anchor="start" fill="#000" font-weight="bold" stroke="#000" stroke-width="0.22" ><tspan>5</tspan></text>
<text x="283.5" y="803.8" font-size="7.2" text-anchor="start" fill="#000" font-weight="bold" textLength="8.0" lengthAdjust="spacingAndGlyphs" ><tspan>th</tspan></text>
<text x="181.2" y="827.4" font-size="13.8" text-anchor="middle" fill="#000" font-weight="bold" stroke="#000" stroke-width="0.22" textLength="105.4" lengthAdjust="spacingAndGlyphs" ><tspan>Number of Cycles</tspan></text>
<text transform="translate(15.6,827) rotate(-90)" font-size="13.8" text-anchor="start" fill="#000" font-weight="bold" stroke="#000" stroke-width="0.22" textLength="245" lengthAdjust="spacingAndGlyphs" ><tspan>NO</tspan><tspan dy="3.86" font-size="8.97">x</tspan><tspan dy="-3.86"> Amounts of Adsorbents (mmol g</tspan><tspan dy="-5.24" font-size="8.97">-1</tspan><tspan dy="5.24">)</tspan></text>
<text transform="translate(336.8,599.2) rotate(90)" font-size="13.8" text-anchor="start" fill="#E8248A" font-weight="bold" stroke="#E8248A" stroke-width="0.22" textLength="179" lengthAdjust="spacingAndGlyphs" ><tspan>Released NO of NO</tspan><tspan dy="3.86" font-size="8.97">2</tspan><tspan dy="-3.86"> Input (%)</tspan></text>
<text transform="translate(383.2,571.0) scale(1.07,1)" font-size="30.5" font-weight="bold" fill="#000">f</text>
<line x1="411" y1="585.3" x2="667" y2="585.3" stroke="#000" stroke-width="2" />
<line x1="410" y1="791.0" x2="667" y2="791.0" stroke="#000" stroke-width="2" />
<line x1="411" y1="584.3" x2="411" y2="792" stroke="#000" stroke-width="2" />
<line x1="667" y1="584.3" x2="667" y2="792" stroke="#000" stroke-width="2" />
<line x1="407" y1="631.9" x2="411" y2="631.9" stroke="#000" stroke-width="1.6" />
<text x="404.5" y="634.9" font-size="10.2" text-anchor="end" fill="#000" font-weight="bold" letter-spacing="0.3" ><tspan>100</tspan></text>
<line x1="407" y1="684.5" x2="411" y2="684.5" stroke="#000" stroke-width="1.6" />
<text x="404.5" y="687.5" font-size="10.2" text-anchor="end" fill="#000" font-weight="bold" letter-spacing="0.3" ><tspan>90</tspan></text>
<line x1="407" y1="737.0999999999999" x2="411" y2="737.0999999999999" stroke="#000" stroke-width="1.6" />
<text x="404.5" y="740.0999999999999" font-size="10.2" text-anchor="end" fill="#000" font-weight="bold" letter-spacing="0.3" ><tspan>80</tspan></text>
<line x1="407" y1="789.6999999999999" x2="411" y2="789.6999999999999" stroke="#000" stroke-width="1.6" />
<text x="404.5" y="792.6999999999999" font-size="10.2" text-anchor="end" fill="#000" font-weight="bold" letter-spacing="0.3" ><tspan>70</tspan></text>
<line x1="408.5" y1="605.6" x2="411" y2="605.6" stroke="#000" stroke-width="1.4" />
<line x1="408.5" y1="658.1999999999999" x2="411" y2="658.1999999999999" stroke="#000" stroke-width="1.4" />
<line x1="408.5" y1="710.8" x2="411" y2="710.8" stroke="#000" stroke-width="1.4" />
<line x1="408.5" y1="763.4" x2="411" y2="763.4" stroke="#000" stroke-width="1.4" />
<line x1="438.5" y1="791" x2="438.5" y2="795.5" stroke="#000" stroke-width="1.6" />
<text x="438.5" y="806.5" font-size="10.2" text-anchor="middle" fill="#000" font-weight="bold" letter-spacing="0.3" ><tspan>0</tspan></text>
<line x1="468.9" y1="791" x2="468.9" y2="795.5" stroke="#000" stroke-width="1.6" />
<text x="468.9" y="806.5" font-size="10.2" text-anchor="middle" fill="#000" font-weight="bold" letter-spacing="0.3" ><tspan>5</tspan></text>
<line x1="499.3" y1="791" x2="499.3" y2="795.5" stroke="#000" stroke-width="1.6" />
<text x="499.3" y="806.5" font-size="10.2" text-anchor="middle" fill="#000" font-weight="bold" letter-spacing="0.3" ><tspan>10</tspan></text>
<line x1="529.7" y1="791" x2="529.7" y2="795.5" stroke="#000" stroke-width="1.6" />
<text x="529.7" y="806.5" font-size="10.2" text-anchor="middle" fill="#000" font-weight="bold" letter-spacing="0.3" ><tspan>15</tspan></text>
<line x1="560.1" y1="791" x2="560.1" y2="795.5" stroke="#000" stroke-width="1.6" />
<text x="560.1" y="806.5" font-size="10.2" text-anchor="middle" fill="#000" font-weight="bold" letter-spacing="0.3" ><tspan>20</tspan></text>
<line x1="590.5" y1="791" x2="590.5" y2="795.5" stroke="#000" stroke-width="1.6" />
<text x="590.5" y="806.5" font-size="10.2" text-anchor="middle" fill="#000" font-weight="bold" letter-spacing="0.3" ><tspan>25</tspan></text>
<line x1="620.9" y1="791" x2="620.9" y2="795.5" stroke="#000" stroke-width="1.6" />
<text x="620.9" y="806.5" font-size="10.2" text-anchor="middle" fill="#000" font-weight="bold" letter-spacing="0.3" ><tspan>30</tspan></text>
<line x1="651.3" y1="791" x2="651.3" y2="795.5" stroke="#000" stroke-width="1.6" />
<text x="651.3" y="806.5" font-size="10.2" text-anchor="middle" fill="#000" font-weight="bold" letter-spacing="0.3" ><tspan>35</tspan></text>
<line x1="423.3" y1="791" x2="423.3" y2="793.5" stroke="#000" stroke-width="1.4" />
<line x1="453.7" y1="791" x2="453.7" y2="793.5" stroke="#000" stroke-width="1.4" />
<line x1="484.1" y1="791" x2="484.1" y2="793.5" stroke="#000" stroke-width="1.4" />
<line x1="514.5" y1="791" x2="514.5" y2="793.5" stroke="#000" stroke-width="1.4" />
<line x1="544.9" y1="791" x2="544.9" y2="793.5" stroke="#000" stroke-width="1.4" />
<line x1="575.3" y1="791" x2="575.3" y2="793.5" stroke="#000" stroke-width="1.4" />
<line x1="605.7" y1="791" x2="605.7" y2="793.5" stroke="#000" stroke-width="1.4" />
<line x1="636.1" y1="791" x2="636.1" y2="793.5" stroke="#000" stroke-width="1.4" />
<line x1="666.5" y1="791" x2="666.5" y2="793.5" stroke="#000" stroke-width="1.4" />
<text x="538.5" y="826.7" font-size="13.8" text-anchor="middle" fill="#000" font-weight="bold" stroke="#000" stroke-width="0.22" textLength="176.7" lengthAdjust="spacingAndGlyphs" ><tspan>Released NO of NO</tspan><tspan dy="3.86" font-size="8.97">2</tspan><tspan dy="-3.86"> Input (%)</tspan></text>
<text transform="translate(378.7,768.7) rotate(-90)" font-size="13.8" text-anchor="start" fill="#000" font-weight="bold" stroke="#000" stroke-width="0.22" textLength="161.5" lengthAdjust="spacingAndGlyphs" ><tspan>Extent of Regeneration (%)</tspan></text>
<text x="417" y="600.9" font-size="11.3" text-anchor="start" fill="#000" font-weight="bold" stroke="#000" stroke-width="0.22" textLength="66" lengthAdjust="spacingAndGlyphs" ><tspan>NO</tspan><tspan dy="3.16" font-size="7.35">2</tspan><tspan dy="-3.16">/Air ads.</tspan></text>
<path d="M581.50,678.70 L586.30,683.50 L581.50,688.30 L576.70,683.50Z" fill="#404040"/>
<path d="M601.10,676.20 L605.90,681.00 L601.10,685.80 L596.30,681.00Z" fill="#404040"/>
<path d="M645.80,765.10 L650.60,769.90 L645.80,774.70 L641.00,769.90Z" fill="#404040"/>
<text x="595.6" y="673.6" font-size="11.3" text-anchor="start" fill="#000" font-weight="bold" stroke="#000" stroke-width="0.22" textLength="65.8" lengthAdjust="spacingAndGlyphs" ><tspan>Al-PMOF(Ni)</tspan></text>
<text x="516.2" y="699.4" font-size="11.3" text-anchor="start" fill="#000" font-weight="bold" stroke="#000" stroke-width="0.22" textLength="74" lengthAdjust="spacingAndGlyphs" ><tspan>CTF-DCP-wash</tspan></text>
<text x="624.9" y="762.5" font-size="11.3" text-anchor="start" fill="#000" font-weight="bold" stroke="#000" stroke-width="0.22" textLength="38.5" lengthAdjust="spacingAndGlyphs" ><tspan>Co-LDH</tspan></text>
<line x1="411" y1="631.9" x2="446" y2="631.9" stroke="#B8693A" stroke-width="1.9" stroke-dasharray="5,3.6"/>
<line x1="461" y1="631.9" x2="571" y2="631.9" stroke="#B8693A" stroke-width="1.9" stroke-dasharray="5,3.6"/>
<path d="M446.1,631.9 L461,628.2 L461,635.6 Z" fill="#B8693A"/>
<line x1="446.6" y1="628.6" x2="446.6" y2="635.2" stroke="#B8693A" stroke-width="1.6" />
<text x="571.6" y="635.6" font-size="11.3" text-anchor="start" fill="#B8693A" font-weight="bold" stroke="#B8693A" stroke-width="0.22" textLength="91.8" lengthAdjust="spacingAndGlyphs" ><tspan>Fully regenerated</tspan></text>
<path d="M435.2,635.3 L439.1,628.4 L443.0,635.3 Z" fill="#F08C2A"/>
<circle cx="438.8" cy="640.6" r="3.3" fill="#E5262B"/>
<rect x="461.3" y="650.9" width="5.4" height="5.4" fill="#3B82C4" />
<text x="446.2" y="625.2" font-size="11.3" text-anchor="start" fill="#F08C2A" font-weight="bold" stroke="#F08C2A" stroke-width="0.22" textLength="114.2" lengthAdjust="spacingAndGlyphs" ><tspan>Mn-LTA-3 (This study)</tspan></text>
<text x="449.7" y="647.3" font-size="11.3" text-anchor="start" fill="#E5262B" font-weight="bold" stroke="#E5262B" stroke-width="0.22" textLength="109.5" lengthAdjust="spacingAndGlyphs" ><tspan>Ca-LTA-3 (This study)</tspan></text>
<text x="451.7" y="667.9" font-size="11.3" text-anchor="start" fill="#3B82C4" font-weight="bold" stroke="#3B82C4" stroke-width="0.22" textLength="110.9" lengthAdjust="spacingAndGlyphs" ><tspan>Na-LTA-3 (This study)</tspan></text>
<path d="M429.4,638.2 A9,18 0 0 1 447.4,638.2" fill="none" stroke="#B8693A" stroke-width="1.9" stroke-dasharray="4.5,3.2"/>
<path d="M429.4,638.2 A9,18 0 0 0 447.4,638.2" fill="none" stroke="#E8248A" stroke-width="1.9" stroke-dasharray="4.5,3.2"/>
<path d="M434.9,667 L438.8,655.5 L442.7,667 Z" fill="#E8248A"/>
<line x1="438.8" y1="667" x2="438.8" y2="714" stroke="#E8248A" stroke-width="1.9" stroke-dasharray="5,3.6"/>
<line x1="438.8" y1="746" x2="438.8" y2="791" stroke="#E8248A" stroke-width="1.9" stroke-dasharray="5,3.6"/>
<text x="443.6" y="726.2" font-size="11.3" text-anchor="middle" fill="#E8248A" font-weight="bold" stroke="#E8248A" stroke-width="0.22" textLength="34" lengthAdjust="spacingAndGlyphs" ><tspan>"Zero"</tspan></text>
<text x="443.6" y="741.6" font-size="11.3" text-anchor="middle" fill="#E8248A" font-weight="bold" stroke="#E8248A" stroke-width="0.22" textLength="56.8" lengthAdjust="spacingAndGlyphs" ><tspan>NO release</tspan></text>
</svg></body></html>
